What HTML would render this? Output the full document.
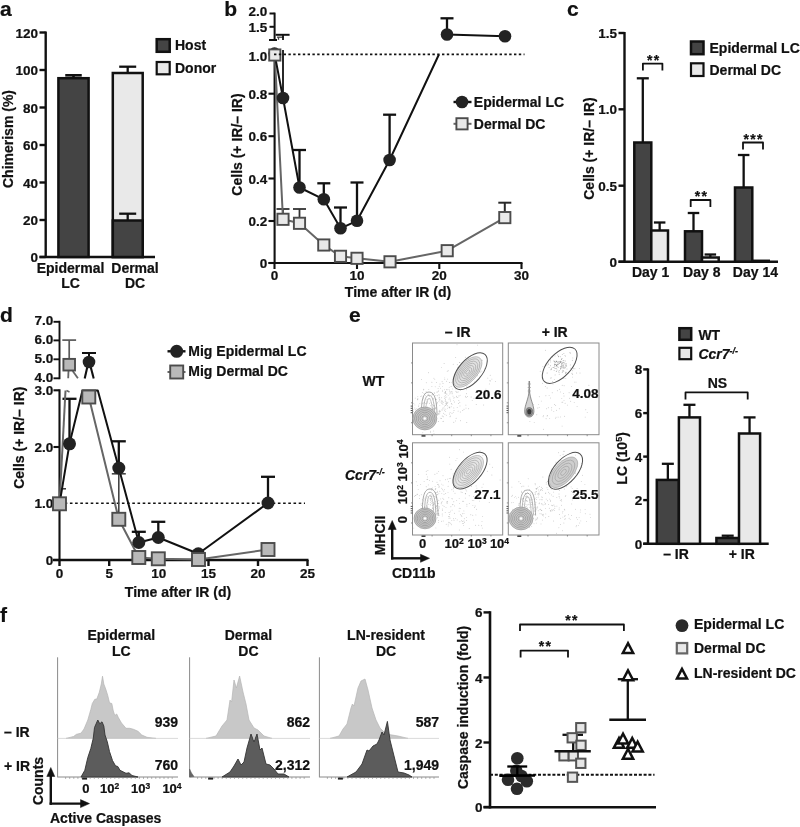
<!DOCTYPE html>
<html><head><meta charset="utf-8"><title>Figure</title>
<style>
html,body{margin:0;padding:0;background:#fff;}
svg{display:block;will-change:transform;}
svg text{font-family:"Liberation Sans",Arial,Helvetica,sans-serif;font-weight:bold;stroke:#111;stroke-width:0.22px;}
</style></head><body>
<svg width="800" height="827" viewBox="0 0 800 827">
<rect x="0" y="0" width="800" height="827" fill="#ffffff"/>
<defs><filter id="soft" x="0" y="0" width="100%" height="100%" filterUnits="userSpaceOnUse" color-interpolation-filters="sRGB"><feGaussianBlur stdDeviation="0.45"/></filter></defs>
<g filter="url(#soft)">
<text x="0" y="15.8" font-size="21" text-anchor="start" fill="#111" >a</text>
<line x1="45.7" y1="31.5" x2="45.7" y2="258" stroke="#111" stroke-width="2.4" />
<line x1="39.5" y1="257" x2="155" y2="257" stroke="#111" stroke-width="2.4" />
<line x1="39.5" y1="32.5" x2="45.7" y2="32.5" stroke="#111" stroke-width="2.4" />
<text x="38" y="37.5" font-size="13.5" text-anchor="end" fill="#111" >120</text>
<line x1="39.5" y1="70" x2="45.7" y2="70" stroke="#111" stroke-width="2.4" />
<text x="38" y="75" font-size="13.5" text-anchor="end" fill="#111" >100</text>
<line x1="39.5" y1="107.5" x2="45.7" y2="107.5" stroke="#111" stroke-width="2.4" />
<text x="38" y="112.5" font-size="13.5" text-anchor="end" fill="#111" >80</text>
<line x1="39.5" y1="145" x2="45.7" y2="145" stroke="#111" stroke-width="2.4" />
<text x="38" y="150" font-size="13.5" text-anchor="end" fill="#111" >60</text>
<line x1="39.5" y1="182.5" x2="45.7" y2="182.5" stroke="#111" stroke-width="2.4" />
<text x="38" y="187.5" font-size="13.5" text-anchor="end" fill="#111" >40</text>
<line x1="39.5" y1="220" x2="45.7" y2="220" stroke="#111" stroke-width="2.4" />
<text x="38" y="225" font-size="13.5" text-anchor="end" fill="#111" >20</text>
<line x1="39.5" y1="257" x2="45.7" y2="257" stroke="#111" stroke-width="2.4" />
<text x="38" y="262" font-size="13.5" text-anchor="end" fill="#111" >0</text>
<text x="13.2" y="139" font-size="14" text-anchor="middle" fill="#111" transform="rotate(-90 13.2 139)" >Chimerism (%)</text>
<line x1="73.5" y1="78" x2="73.5" y2="75.3" stroke="#111" stroke-width="2.6" />
<line x1="65.25" y1="75.3" x2="81.75" y2="75.3" stroke="#111" stroke-width="2.6" />
<rect x="58.4" y="78.2" width="30.2" height="178.8" fill="#444" stroke="#111" stroke-width="2.5" />
<line x1="127.7" y1="72.5" x2="127.7" y2="66.7" stroke="#111" stroke-width="2.3" />
<line x1="119.2" y1="66.7" x2="136.2" y2="66.7" stroke="#111" stroke-width="2.3" />
<rect x="112.8" y="73" width="29.9" height="184" fill="#e9e9e9" stroke="#111" stroke-width="2.5" />
<line x1="127.7" y1="220" x2="127.7" y2="213.7" stroke="#111" stroke-width="2.3" />
<line x1="119.2" y1="213.7" x2="136.2" y2="213.7" stroke="#111" stroke-width="2.3" />
<rect x="112.8" y="220.5" width="29.9" height="36.5" fill="#444" stroke="#111" stroke-width="2.5" />
<text x="70.5" y="273" font-size="14" text-anchor="middle" fill="#111" >Epidermal</text>
<text x="70.5" y="288.3" font-size="14" text-anchor="middle" fill="#111" >LC</text>
<text x="135" y="273" font-size="14" text-anchor="middle" fill="#111" >Dermal</text>
<text x="135" y="288.3" font-size="14" text-anchor="middle" fill="#111" >DC</text>
<rect x="156.7" y="39.2" width="13" height="12.6" fill="#444" stroke="#111" stroke-width="2.5" />
<rect x="156.7" y="62" width="13" height="12.3" fill="#e9e9e9" stroke="#111" stroke-width="2.2" />
<text x="175" y="50" font-size="14" text-anchor="start" fill="#111" >Host</text>
<text x="175" y="73" font-size="14" text-anchor="start" fill="#111" >Donor</text>
<text x="224.3" y="15.8" font-size="21" text-anchor="start" fill="#111" >b</text>
<line x1="274.6" y1="12.6" x2="274.6" y2="40" stroke="#111" stroke-width="2" />
<line x1="269.5" y1="13.5" x2="274.6" y2="13.5" stroke="#111" stroke-width="2" />
<text x="267.3" y="16" font-size="13.5" text-anchor="end" fill="#111" >2.0</text>
<line x1="269.5" y1="26.8" x2="274.6" y2="26.8" stroke="#111" stroke-width="2" />
<text x="267.3" y="32" font-size="13.5" text-anchor="end" fill="#111" >1.5</text>
<line x1="269" y1="40" x2="277" y2="40" stroke="#111" stroke-width="2" />
<line x1="274.6" y1="60" x2="274.6" y2="264" stroke="#111" stroke-width="2.1" />
<line x1="268.5" y1="263" x2="522.5" y2="263" stroke="#111" stroke-width="2.1" />
<text x="267.3" y="60.5" font-size="13.5" text-anchor="end" fill="#111" >1.0</text>
<line x1="268.5" y1="93.7" x2="274.6" y2="93.7" stroke="#111" stroke-width="2.1" />
<text x="267.3" y="98.7" font-size="13.5" text-anchor="end" fill="#111" >0.8</text>
<line x1="268.5" y1="136.2" x2="274.6" y2="136.2" stroke="#111" stroke-width="2.1" />
<text x="267.3" y="141.2" font-size="13.5" text-anchor="end" fill="#111" >0.6</text>
<line x1="268.5" y1="178.5" x2="274.6" y2="178.5" stroke="#111" stroke-width="2.1" />
<text x="267.3" y="183.5" font-size="13.5" text-anchor="end" fill="#111" >0.4</text>
<line x1="268.5" y1="221" x2="274.6" y2="221" stroke="#111" stroke-width="2.1" />
<text x="267.3" y="226" font-size="13.5" text-anchor="end" fill="#111" >0.2</text>
<line x1="268.5" y1="263" x2="274.6" y2="263" stroke="#111" stroke-width="2.1" />
<text x="267.3" y="268" font-size="13.5" text-anchor="end" fill="#111" >0</text>
<line x1="274.5" y1="263" x2="274.5" y2="269" stroke="#111" stroke-width="2.1" />
<text x="274.5" y="279.5" font-size="13.5" text-anchor="middle" fill="#111" >0</text>
<line x1="357" y1="263" x2="357" y2="269" stroke="#111" stroke-width="2.1" />
<text x="357" y="279.5" font-size="13.5" text-anchor="middle" fill="#111" >10</text>
<line x1="439.3" y1="263" x2="439.3" y2="269" stroke="#111" stroke-width="2.1" />
<text x="439.3" y="279.5" font-size="13.5" text-anchor="middle" fill="#111" >20</text>
<line x1="521.5" y1="263" x2="521.5" y2="269" stroke="#111" stroke-width="2.1" />
<text x="521.5" y="279.5" font-size="13.5" text-anchor="middle" fill="#111" >30</text>
<text x="398" y="297.3" font-size="14" text-anchor="middle" fill="#111" >Time after IR (d)</text>
<text x="241.8" y="144.5" font-size="14" text-anchor="middle" fill="#111" transform="rotate(-90 241.8 144.5)" >Cells (+ IR/– IR)</text>
<line x1="283" y1="219" x2="283" y2="209" stroke="#333" stroke-width="1.8" />
<line x1="276.5" y1="209" x2="289.5" y2="209" stroke="#333" stroke-width="1.8" />
<line x1="299.5" y1="223" x2="299.5" y2="209" stroke="#333" stroke-width="1.8" />
<line x1="293.0" y1="209" x2="306.0" y2="209" stroke="#333" stroke-width="1.8" />
<line x1="504.8" y1="217" x2="504.8" y2="202.7" stroke="#2a2a2a" stroke-width="2" />
<line x1="498.3" y1="202.7" x2="511.3" y2="202.7" stroke="#2a2a2a" stroke-width="2" />
<line x1="277" y1="37.2" x2="284" y2="37.2" stroke="#444" stroke-width="1.3" />
<line x1="278.5" y1="37.2" x2="278.5" y2="39.8" stroke="#444" stroke-width="1.3" />
<polyline points="274.8,55 283,219.3 299.5,223.3 323.8,245 340.5,256.3 357,258.3 390,261.8 447.2,250.7 504.8,217.6" fill="none" stroke="#666" stroke-width="2" stroke-linejoin="round" />
<line x1="283" y1="98" x2="283" y2="50" stroke="#111" stroke-width="1.8" />
<line x1="283" y1="40" x2="283" y2="34.8" stroke="#111" stroke-width="1.8" />
<line x1="275.6" y1="34.8" x2="289.6" y2="34.8" stroke="#111" stroke-width="2" />
<line x1="299.5" y1="187" x2="299.5" y2="150" stroke="#111" stroke-width="2.3" />
<line x1="293.0" y1="150" x2="306.0" y2="150" stroke="#111" stroke-width="2.3" />
<line x1="323.8" y1="199" x2="323.8" y2="183.3" stroke="#111" stroke-width="2.3" />
<line x1="317.3" y1="183.3" x2="330.3" y2="183.3" stroke="#111" stroke-width="2.3" />
<line x1="340.5" y1="228" x2="340.5" y2="207.5" stroke="#111" stroke-width="2.3" />
<line x1="334.0" y1="207.5" x2="347.0" y2="207.5" stroke="#111" stroke-width="2.3" />
<line x1="357" y1="220" x2="357" y2="182.5" stroke="#111" stroke-width="2.3" />
<line x1="350.5" y1="182.5" x2="363.5" y2="182.5" stroke="#111" stroke-width="2.3" />
<line x1="389.6" y1="160" x2="389.6" y2="114.7" stroke="#111" stroke-width="2.3" />
<line x1="383.1" y1="114.7" x2="396.1" y2="114.7" stroke="#111" stroke-width="2.3" />
<line x1="447" y1="34" x2="447" y2="18.3" stroke="#111" stroke-width="2.3" />
<line x1="440.5" y1="18.3" x2="453.5" y2="18.3" stroke="#111" stroke-width="2.3" />
<polyline points="274.5,53.6 283,98 299.5,187.5 323.8,199.3 340.5,228.3 357,220.8 389.6,160 438.9,54.5" fill="none" stroke="#111" stroke-width="2" stroke-linejoin="round" />
<polyline points="447,34.5 505,36.3" fill="none" stroke="#111" stroke-width="2" stroke-linejoin="round" />
<circle cx="274.5" cy="53.6" r="6.3" fill="#222" stroke="none" stroke-width="0"/>
<circle cx="283" cy="98" r="6.3" fill="#222" stroke="none" stroke-width="0"/>
<circle cx="299.5" cy="187.5" r="6.3" fill="#222" stroke="none" stroke-width="0"/>
<circle cx="323.8" cy="199.3" r="6.3" fill="#222" stroke="none" stroke-width="0"/>
<circle cx="340.5" cy="228.3" r="6.3" fill="#222" stroke="none" stroke-width="0"/>
<circle cx="357" cy="220.8" r="6.3" fill="#222" stroke="none" stroke-width="0"/>
<circle cx="389.6" cy="160" r="6.3" fill="#222" stroke="none" stroke-width="0"/>
<circle cx="447" cy="34.5" r="6.3" fill="#222" stroke="none" stroke-width="0"/>
<circle cx="505" cy="36.3" r="6.3" fill="#222" stroke="none" stroke-width="0"/>
<rect x="269.2" y="49.4" width="11.2" height="11.2" fill="#e9e9e9" stroke="#4c4c4c" stroke-width="1.9"/>
<rect x="277.4" y="213.70000000000002" width="11.2" height="11.2" fill="#e9e9e9" stroke="#4c4c4c" stroke-width="1.9"/>
<rect x="293.9" y="217.70000000000002" width="11.2" height="11.2" fill="#e9e9e9" stroke="#4c4c4c" stroke-width="1.9"/>
<rect x="318.2" y="239.4" width="11.2" height="11.2" fill="#e9e9e9" stroke="#4c4c4c" stroke-width="1.9"/>
<rect x="334.9" y="250.70000000000002" width="11.2" height="11.2" fill="#e9e9e9" stroke="#4c4c4c" stroke-width="1.9"/>
<rect x="351.4" y="252.70000000000002" width="11.2" height="11.2" fill="#e9e9e9" stroke="#4c4c4c" stroke-width="1.9"/>
<rect x="384.4" y="256.2" width="11.2" height="11.2" fill="#e9e9e9" stroke="#4c4c4c" stroke-width="1.9"/>
<rect x="441.59999999999997" y="245.1" width="11.2" height="11.2" fill="#e9e9e9" stroke="#4c4c4c" stroke-width="1.9"/>
<rect x="499.2" y="212.0" width="11.2" height="11.2" fill="#e9e9e9" stroke="#4c4c4c" stroke-width="1.9"/>
<line x1="274" y1="54.4" x2="524.5" y2="54.4" stroke="#111" stroke-width="1.7" stroke-dasharray="2.4 2.4"/>
<line x1="453.5" y1="102" x2="471.5" y2="102" stroke="#111" stroke-width="2.4" />
<circle cx="462" cy="102" r="6.3" fill="#222" stroke="none" stroke-width="0"/>
<text x="473.8" y="106.5" font-size="14" text-anchor="start" fill="#111" >Epidermal LC</text>
<line x1="453.5" y1="123.8" x2="471.5" y2="123.8" stroke="#666" stroke-width="2" />
<rect x="456.4" y="118.2" width="11.2" height="11.2" fill="#e9e9e9" stroke="#4c4c4c" stroke-width="1.9"/>
<text x="473.8" y="128.5" font-size="14" text-anchor="start" fill="#111" >Dermal DC</text>
<text x="567.1" y="15.8" font-size="21" text-anchor="start" fill="#111" >c</text>
<line x1="624.5" y1="32" x2="624.5" y2="262.7" stroke="#111" stroke-width="2.4" />
<line x1="618.5" y1="261.7" x2="778" y2="261.7" stroke="#111" stroke-width="2.4" />
<line x1="618.5" y1="33" x2="624.5" y2="33" stroke="#111" stroke-width="2.4" />
<text x="617" y="38" font-size="13.5" text-anchor="end" fill="#111" >1.5</text>
<line x1="618.5" y1="109.3" x2="624.5" y2="109.3" stroke="#111" stroke-width="2.4" />
<text x="617" y="114.3" font-size="13.5" text-anchor="end" fill="#111" >1.0</text>
<line x1="618.5" y1="185.7" x2="624.5" y2="185.7" stroke="#111" stroke-width="2.4" />
<text x="617" y="190.7" font-size="13.5" text-anchor="end" fill="#111" >0.5</text>
<line x1="618.5" y1="261.7" x2="624.5" y2="261.7" stroke="#111" stroke-width="2.4" />
<text x="617" y="266.7" font-size="13.5" text-anchor="end" fill="#111" >0</text>
<text x="594" y="148.6" font-size="14" text-anchor="middle" fill="#111" transform="rotate(-90 594 148.6)" >Cells (+ IR/– IR)</text>
<line x1="642.8" y1="142.5" x2="642.8" y2="78.3" stroke="#111" stroke-width="2.3" />
<line x1="636.8" y1="78.3" x2="648.8" y2="78.3" stroke="#111" stroke-width="2.3" />
<rect x="634.3" y="142.5" width="17.0" height="119.19999999999999" fill="#444" stroke="#111" stroke-width="2.5" />
<line x1="659.65" y1="230.5" x2="659.65" y2="222.5" stroke="#111" stroke-width="2.3" />
<line x1="653.9" y1="222.5" x2="665.4" y2="222.5" stroke="#111" stroke-width="2.3" />
<rect x="651.3" y="230.5" width="16.700000000000045" height="31.19999999999999" fill="#e9e9e9" stroke="#111" stroke-width="2.5" />
<line x1="693.5" y1="231.3" x2="693.5" y2="213" stroke="#111" stroke-width="2.3" />
<line x1="687.75" y1="213" x2="699.25" y2="213" stroke="#111" stroke-width="2.3" />
<rect x="685" y="231.3" width="17" height="30.399999999999977" fill="#444" stroke="#111" stroke-width="2.5" />
<line x1="710.35" y1="257.5" x2="710.35" y2="254.5" stroke="#111" stroke-width="2.3" />
<line x1="704.6" y1="254.5" x2="716.1" y2="254.5" stroke="#111" stroke-width="2.3" />
<rect x="702" y="257.5" width="16.700000000000045" height="4.199999999999989" fill="#f4f4f4" stroke="#111" stroke-width="2.5" />
<line x1="743.65" y1="187.5" x2="743.65" y2="155" stroke="#111" stroke-width="2.3" />
<line x1="737.9" y1="155" x2="749.4" y2="155" stroke="#111" stroke-width="2.3" />
<rect x="735" y="187.5" width="17.299999999999955" height="74.19999999999999" fill="#444" stroke="#111" stroke-width="2.5" />
<line x1="753" y1="260.3" x2="770" y2="260.3" stroke="#111" stroke-width="1.5" />
<text x="650.6" y="277" font-size="14" text-anchor="middle" fill="#111" >Day 1</text>
<text x="701.8" y="277" font-size="14" text-anchor="middle" fill="#111" >Day 8</text>
<text x="755.4" y="277" font-size="14" text-anchor="middle" fill="#111" >Day 14</text>
<polyline points="642.9,70.4 642.9,63.6 662.4,63.6 662.4,70.4" fill="none" stroke="#111" stroke-width="1.8" stroke-linejoin="round" stroke-linejoin="miter"/>
<text x="653.8000000000001" y="64.60000000000001" font-size="14" text-anchor="middle" fill="#111" letter-spacing="1.25">**</text>
<polyline points="690.7,207 690.7,200 710.4,200 710.4,207" fill="none" stroke="#111" stroke-width="1.8" stroke-linejoin="round" stroke-linejoin="miter"/>
<text x="701.4" y="201.0" font-size="14" text-anchor="middle" fill="#111" letter-spacing="1.25">**</text>
<polyline points="743,149.5 743,142.5 763,142.5 763,149.5" fill="none" stroke="#111" stroke-width="1.8" stroke-linejoin="round" stroke-linejoin="miter"/>
<text x="753.6" y="143.6" font-size="14" text-anchor="middle" fill="#111" letter-spacing="1.25">***</text>
<rect x="691" y="41.5" width="12.5" height="12.7" fill="#444" stroke="#111" stroke-width="2.5" />
<rect x="691" y="63.3" width="12.5" height="12.7" fill="#e9e9e9" stroke="#111" stroke-width="2.2" />
<text x="709.5" y="53" font-size="14" text-anchor="start" fill="#111" >Epidermal LC</text>
<text x="709.5" y="75.2" font-size="14" text-anchor="start" fill="#111" >Dermal DC</text>
<text x="0.1" y="321.8" font-size="21" text-anchor="start" fill="#111" >d</text>
<line x1="59.5" y1="320.8" x2="59.5" y2="379.2" stroke="#111" stroke-width="1.9" />
<line x1="53.5" y1="321.8" x2="59.5" y2="321.8" stroke="#111" stroke-width="1.9" />
<text x="53.3" y="325.0" font-size="13.5" text-anchor="end" fill="#111" >7.0</text>
<line x1="53.5" y1="340.4" x2="59.5" y2="340.4" stroke="#111" stroke-width="1.9" />
<text x="53.3" y="343.59999999999997" font-size="13.5" text-anchor="end" fill="#111" >6.0</text>
<line x1="53.5" y1="359.3" x2="59.5" y2="359.3" stroke="#111" stroke-width="1.9" />
<text x="53.3" y="362.5" font-size="13.5" text-anchor="end" fill="#111" >5.0</text>
<line x1="53.5" y1="378.3" x2="59.5" y2="378.3" stroke="#111" stroke-width="1.9" />
<text x="53.3" y="381.5" font-size="13.5" text-anchor="end" fill="#111" >4.0</text>
<line x1="59.5" y1="389.3" x2="59.5" y2="561" stroke="#111" stroke-width="2.1" />
<line x1="53" y1="560" x2="308.5" y2="560" stroke="#111" stroke-width="2.4" />
<line x1="53.5" y1="390.3" x2="59.5" y2="390.3" stroke="#111" stroke-width="2.1" />
<text x="53.3" y="395.3" font-size="13.5" text-anchor="end" fill="#111" >3.0</text>
<line x1="53.5" y1="447" x2="59.5" y2="447" stroke="#111" stroke-width="2.1" />
<text x="53.3" y="452" font-size="13.5" text-anchor="end" fill="#111" >2.0</text>
<line x1="53.5" y1="503.3" x2="59.5" y2="503.3" stroke="#111" stroke-width="2.1" />
<text x="53.3" y="508.3" font-size="13.5" text-anchor="end" fill="#111" >1.0</text>
<line x1="53.5" y1="560" x2="59.5" y2="560" stroke="#111" stroke-width="2.1" />
<text x="53.3" y="565" font-size="13.5" text-anchor="end" fill="#111" >0</text>
<line x1="59.5" y1="560" x2="59.5" y2="566" stroke="#111" stroke-width="2.4" />
<text x="59.5" y="578" font-size="13.5" text-anchor="middle" fill="#111" >0</text>
<line x1="109.2" y1="560" x2="109.2" y2="566" stroke="#111" stroke-width="2.4" />
<text x="109.2" y="578" font-size="13.5" text-anchor="middle" fill="#111" >5</text>
<line x1="158.7" y1="560" x2="158.7" y2="566" stroke="#111" stroke-width="2.4" />
<text x="158.7" y="578" font-size="13.5" text-anchor="middle" fill="#111" >10</text>
<line x1="208.5" y1="560" x2="208.5" y2="566" stroke="#111" stroke-width="2.4" />
<text x="208.5" y="578" font-size="13.5" text-anchor="middle" fill="#111" >15</text>
<line x1="258" y1="560" x2="258" y2="566" stroke="#111" stroke-width="2.4" />
<text x="258" y="578" font-size="13.5" text-anchor="middle" fill="#111" >20</text>
<line x1="307.5" y1="560" x2="307.5" y2="566" stroke="#111" stroke-width="2.4" />
<text x="307.5" y="578" font-size="13.5" text-anchor="middle" fill="#111" >25</text>
<text x="178" y="597" font-size="14" text-anchor="middle" fill="#111" >Time after IR (d)</text>
<text x="24.4" y="437.7" font-size="14" text-anchor="middle" fill="#111" transform="rotate(-90 24.4 437.7)" >Cells (+ IR/– IR)</text>
<line x1="59.5" y1="503.3" x2="305" y2="503.3" stroke="#111" stroke-width="1.6" stroke-dasharray="2.6 2.6"/>
<line x1="69.2" y1="364" x2="69.2" y2="340.1" stroke="#5a5a5a" stroke-width="1.7" />
<line x1="62.300000000000004" y1="340.1" x2="76.10000000000001" y2="340.1" stroke="#5a5a5a" stroke-width="1.7" />
<line x1="68.5" y1="371" x2="68.2" y2="378.3" stroke="#666" stroke-width="1.8" />
<line x1="72.7" y1="371" x2="77.9" y2="378.3" stroke="#666" stroke-width="1.8" />
<rect x="63.400000000000006" y="358.9" width="11.6" height="11.6" fill="#b9b9b9" stroke="#4c4c4c" stroke-width="1.9"/>
<line x1="89" y1="362" x2="89" y2="353" stroke="#111" stroke-width="2" />
<line x1="82.0" y1="353" x2="96.0" y2="353" stroke="#111" stroke-width="2" />
<line x1="87.3" y1="367" x2="84.7" y2="378.5" stroke="#111" stroke-width="2.1" />
<line x1="90.7" y1="367" x2="93.7" y2="378.5" stroke="#111" stroke-width="2.1" />
<circle cx="89" cy="362" r="6.3" fill="#222" stroke="none" stroke-width="0"/>
<line x1="69.5" y1="443" x2="69.5" y2="398.8" stroke="#111" stroke-width="2.3" />
<line x1="62.5" y1="398.8" x2="76.5" y2="398.8" stroke="#111" stroke-width="2.3" />
<line x1="118.8" y1="468" x2="118.8" y2="441.3" stroke="#111" stroke-width="2.3" />
<line x1="111.8" y1="441.3" x2="125.8" y2="441.3" stroke="#111" stroke-width="2.3" />
<line x1="118.8" y1="519" x2="118.8" y2="473.8" stroke="#444" stroke-width="1.6" />
<line x1="111.8" y1="473.8" x2="125.8" y2="473.8" stroke="#444" stroke-width="1.6" />
<line x1="138.8" y1="542" x2="138.8" y2="531.8" stroke="#111" stroke-width="2.3" />
<line x1="131.8" y1="531.8" x2="145.8" y2="531.8" stroke="#111" stroke-width="2.3" />
<line x1="158.3" y1="537" x2="158.3" y2="521.8" stroke="#111" stroke-width="2.3" />
<line x1="151.3" y1="521.8" x2="165.3" y2="521.8" stroke="#111" stroke-width="2.3" />
<line x1="268" y1="503" x2="268" y2="476.8" stroke="#111" stroke-width="2.3" />
<line x1="261.0" y1="476.8" x2="275.0" y2="476.8" stroke="#111" stroke-width="2.3" />
<line x1="60.5" y1="488.8" x2="66" y2="488.8" stroke="#333" stroke-width="1.5" />
<polyline points="59.5,503.8 65.5,390.5" fill="none" stroke="#666" stroke-width="2" stroke-linejoin="round" />
<polyline points="66.5,390.5 69.5,392" fill="none" stroke="#666" stroke-width="1.5" stroke-linejoin="round" />
<polyline points="88.8,397 118.8,519.3 138.8,557.5 158.3,558.8 198.5,559.5 268,549.5" fill="none" stroke="#666" stroke-width="2" stroke-linejoin="round" />
<polyline points="59.5,503.8 69.5,443.8 82.5,390.5 97.8,390.5 118.8,468 138.8,542.5 158.3,537.5 198.3,553.8 268,503" fill="none" stroke="#111" stroke-width="2" stroke-linejoin="round" />
<circle cx="69.5" cy="443.8" r="6.5" fill="#222" stroke="none" stroke-width="0"/>
<circle cx="118.8" cy="468" r="6.5" fill="#222" stroke="none" stroke-width="0"/>
<circle cx="138.8" cy="542.5" r="6.5" fill="#222" stroke="none" stroke-width="0"/>
<circle cx="158.3" cy="537.5" r="6.5" fill="#222" stroke="none" stroke-width="0"/>
<circle cx="198.3" cy="553.8" r="6.5" fill="#222" stroke="none" stroke-width="0"/>
<circle cx="268" cy="503" r="6.5" fill="#222" stroke="none" stroke-width="0"/>
<rect x="53.0" y="497.3" width="13" height="13" fill="#b9b9b9" stroke="#4c4c4c" stroke-width="1.9"/>
<rect x="82.3" y="390.5" width="13" height="13" fill="#b9b9b9" stroke="#4c4c4c" stroke-width="1.9"/>
<rect x="112.3" y="512.8" width="13" height="13" fill="#b9b9b9" stroke="#4c4c4c" stroke-width="1.9"/>
<rect x="132.3" y="551.0" width="13" height="13" fill="#b9b9b9" stroke="#4c4c4c" stroke-width="1.9"/>
<rect x="151.8" y="552.3" width="13" height="13" fill="#b9b9b9" stroke="#4c4c4c" stroke-width="1.9"/>
<rect x="192.0" y="553.0" width="13" height="13" fill="#b9b9b9" stroke="#4c4c4c" stroke-width="1.9"/>
<rect x="261.5" y="543.0" width="13" height="13" fill="#b9b9b9" stroke="#4c4c4c" stroke-width="1.9"/>
<line x1="167.5" y1="351.3" x2="185.5" y2="351.3" stroke="#111" stroke-width="2.4" />
<circle cx="176.7" cy="351.3" r="6.5" fill="#222" stroke="none" stroke-width="0"/>
<text x="188.3" y="355.5" font-size="14" text-anchor="start" fill="#111" >Mig Epidermal LC</text>
<line x1="167.5" y1="372" x2="185.5" y2="372" stroke="#666" stroke-width="2" />
<rect x="170.2" y="365.5" width="13" height="13" fill="#b9b9b9" stroke="#4c4c4c" stroke-width="1.9"/>
<text x="188.3" y="376.2" font-size="14" text-anchor="start" fill="#111" >Mig Dermal DC</text>
<text x="349" y="322" font-size="21" text-anchor="start" fill="#111" >e</text>
<text x="457.7" y="337" font-size="14" text-anchor="middle" fill="#111" >– IR</text>
<text x="554.7" y="337" font-size="14" text-anchor="middle" fill="#111" >+ IR</text>
<text x="362.5" y="386" font-size="14" text-anchor="start" fill="#111" >WT</text>
<text x="345" y="480" font-size="14" font-style="italic" fill="#111">Ccr7<tspan font-size="9" dy="-5">-/-</tspan></text>
<rect x="412.5" y="343" width="90.19999999999999" height="91.69999999999999" fill="#fff" stroke="#8a8a8a" stroke-width="1" />
<line x1="410.7" y1="412.7" x2="412.5" y2="412.7" stroke="#444" stroke-width="0.9" />
<line x1="410.7" y1="410.5" x2="412.5" y2="410.5" stroke="#444" stroke-width="0.9" />
<line x1="410.7" y1="408.3" x2="412.5" y2="408.3" stroke="#444" stroke-width="0.9" />
<line x1="410.7" y1="406.09999999999997" x2="412.5" y2="406.09999999999997" stroke="#444" stroke-width="0.9" />
<line x1="421.5" y1="435.9" x2="425.5" y2="435.9" stroke="#444" stroke-width="1.6" />
<line x1="411.0" y1="362.9347826086956" x2="412.5" y2="362.9347826086956" stroke="#777" stroke-width="0.8" />
<line x1="432.10869565217394" y1="434.7" x2="432.10869565217394" y2="436.2" stroke="#777" stroke-width="0.8" />
<line x1="411.0" y1="382.8695652173913" x2="412.5" y2="382.8695652173913" stroke="#777" stroke-width="0.8" />
<line x1="451.7173913043478" y1="434.7" x2="451.7173913043478" y2="436.2" stroke="#777" stroke-width="0.8" />
<line x1="411.0" y1="402.80434782608694" x2="412.5" y2="402.80434782608694" stroke="#777" stroke-width="0.8" />
<line x1="471.32608695652175" y1="434.7" x2="471.32608695652175" y2="436.2" stroke="#777" stroke-width="0.8" />
<line x1="411.0" y1="422.7391304347826" x2="412.5" y2="422.7391304347826" stroke="#777" stroke-width="0.8" />
<line x1="490.9347826086956" y1="434.7" x2="490.9347826086956" y2="436.2" stroke="#777" stroke-width="0.8" />
<circle cx="435.4" cy="407.2" r="0.45" fill="#666" opacity="0.55"/>
<circle cx="435.9" cy="395.6" r="0.45" fill="#666" opacity="0.55"/>
<circle cx="423.3" cy="397.0" r="0.45" fill="#666" opacity="0.55"/>
<circle cx="460.0" cy="405.9" r="0.45" fill="#666" opacity="0.55"/>
<circle cx="458.7" cy="403.5" r="0.45" fill="#666" opacity="0.55"/>
<circle cx="447.1" cy="402.6" r="0.45" fill="#666" opacity="0.55"/>
<circle cx="449.1" cy="407.0" r="0.45" fill="#666" opacity="0.55"/>
<circle cx="424.0" cy="393.4" r="0.45" fill="#666" opacity="0.55"/>
<circle cx="445.5" cy="399.4" r="0.45" fill="#666" opacity="0.55"/>
<circle cx="449.4" cy="391.0" r="0.45" fill="#666" opacity="0.55"/>
<circle cx="445.6" cy="405.5" r="0.45" fill="#666" opacity="0.55"/>
<circle cx="428.1" cy="424.0" r="0.45" fill="#666" opacity="0.55"/>
<circle cx="450.0" cy="416.8" r="0.45" fill="#666" opacity="0.55"/>
<circle cx="428.8" cy="389.6" r="0.45" fill="#666" opacity="0.55"/>
<circle cx="433.8" cy="398.5" r="0.45" fill="#666" opacity="0.55"/>
<circle cx="451.4" cy="403.5" r="0.45" fill="#666" opacity="0.55"/>
<circle cx="431.9" cy="386.6" r="0.45" fill="#666" opacity="0.55"/>
<circle cx="430.6" cy="417.1" r="0.45" fill="#666" opacity="0.55"/>
<circle cx="425.5" cy="403.4" r="0.45" fill="#666" opacity="0.55"/>
<circle cx="447.7" cy="379.1" r="0.45" fill="#666" opacity="0.55"/>
<circle cx="440.9" cy="418.3" r="0.45" fill="#666" opacity="0.55"/>
<circle cx="438.1" cy="388.6" r="0.45" fill="#666" opacity="0.55"/>
<circle cx="449.0" cy="399.1" r="0.45" fill="#666" opacity="0.55"/>
<circle cx="413.6" cy="411.6" r="0.45" fill="#666" opacity="0.55"/>
<circle cx="452.0" cy="413.2" r="0.45" fill="#666" opacity="0.55"/>
<circle cx="465.9" cy="405.1" r="0.45" fill="#666" opacity="0.55"/>
<circle cx="442.1" cy="381.8" r="0.45" fill="#666" opacity="0.55"/>
<circle cx="451.1" cy="391.4" r="0.45" fill="#666" opacity="0.55"/>
<circle cx="431.9" cy="382.3" r="0.45" fill="#666" opacity="0.55"/>
<circle cx="422.6" cy="392.6" r="0.45" fill="#666" opacity="0.55"/>
<circle cx="463.2" cy="371.6" r="0.45" fill="#666" opacity="0.55"/>
<circle cx="413.8" cy="403.4" r="0.45" fill="#666" opacity="0.55"/>
<circle cx="466.0" cy="408.1" r="0.45" fill="#666" opacity="0.55"/>
<circle cx="446.4" cy="389.7" r="0.45" fill="#666" opacity="0.55"/>
<circle cx="419.8" cy="413.7" r="0.45" fill="#666" opacity="0.55"/>
<circle cx="459.8" cy="402.2" r="0.45" fill="#666" opacity="0.55"/>
<circle cx="444.4" cy="406.1" r="0.45" fill="#666" opacity="0.55"/>
<circle cx="468.7" cy="408.7" r="0.45" fill="#666" opacity="0.55"/>
<circle cx="449.3" cy="407.7" r="0.45" fill="#666" opacity="0.55"/>
<circle cx="457.2" cy="407.4" r="0.45" fill="#666" opacity="0.55"/>
<circle cx="455.2" cy="374.6" r="0.45" fill="#666" opacity="0.55"/>
<circle cx="436.7" cy="414.3" r="0.45" fill="#666" opacity="0.55"/>
<circle cx="416.4" cy="422.5" r="0.45" fill="#666" opacity="0.55"/>
<circle cx="449.9" cy="397.9" r="0.45" fill="#666" opacity="0.55"/>
<circle cx="445.8" cy="409.1" r="0.45" fill="#666" opacity="0.55"/>
<circle cx="442.2" cy="416.0" r="0.45" fill="#666" opacity="0.55"/>
<circle cx="428.1" cy="394.2" r="0.45" fill="#666" opacity="0.55"/>
<circle cx="458.8" cy="400.4" r="0.45" fill="#666" opacity="0.55"/>
<circle cx="424.2" cy="413.3" r="0.45" fill="#666" opacity="0.55"/>
<circle cx="466.4" cy="393.8" r="0.45" fill="#666" opacity="0.55"/>
<circle cx="415.2" cy="398.1" r="0.45" fill="#666" opacity="0.55"/>
<circle cx="437.3" cy="395.8" r="0.45" fill="#666" opacity="0.55"/>
<circle cx="465.3" cy="385.6" r="0.45" fill="#666" opacity="0.55"/>
<circle cx="462.7" cy="382.2" r="0.45" fill="#666" opacity="0.55"/>
<circle cx="425.8" cy="408.8" r="0.45" fill="#666" opacity="0.55"/>
<circle cx="460.3" cy="412.0" r="0.45" fill="#666" opacity="0.55"/>
<circle cx="446.2" cy="402.0" r="0.45" fill="#666" opacity="0.55"/>
<circle cx="442.7" cy="408.1" r="0.45" fill="#666" opacity="0.55"/>
<circle cx="436.8" cy="403.9" r="0.45" fill="#666" opacity="0.55"/>
<circle cx="450.3" cy="400.0" r="0.45" fill="#666" opacity="0.55"/>
<circle cx="453.8" cy="407.9" r="0.45" fill="#666" opacity="0.55"/>
<circle cx="476.2" cy="404.5" r="0.45" fill="#666" opacity="0.55"/>
<circle cx="432.3" cy="394.8" r="0.45" fill="#666" opacity="0.55"/>
<circle cx="439.8" cy="412.9" r="0.45" fill="#666" opacity="0.55"/>
<circle cx="433.9" cy="405.4" r="0.45" fill="#666" opacity="0.55"/>
<circle cx="473.1" cy="364.1" r="0.45" fill="#666" opacity="0.55"/>
<circle cx="419.8" cy="403.4" r="0.45" fill="#666" opacity="0.55"/>
<circle cx="447.2" cy="403.3" r="0.45" fill="#666" opacity="0.55"/>
<circle cx="432.2" cy="409.2" r="0.45" fill="#666" opacity="0.55"/>
<circle cx="445.1" cy="392.7" r="0.45" fill="#666" opacity="0.55"/>
<circle cx="483.7" cy="405.0" r="0.45" fill="#666" opacity="0.55"/>
<circle cx="430.0" cy="398.6" r="0.45" fill="#666" opacity="0.55"/>
<circle cx="435.9" cy="399.1" r="0.45" fill="#666" opacity="0.55"/>
<circle cx="458.2" cy="383.6" r="0.45" fill="#666" opacity="0.55"/>
<circle cx="438.8" cy="413.3" r="0.45" fill="#666" opacity="0.55"/>
<circle cx="455.4" cy="420.9" r="0.45" fill="#666" opacity="0.55"/>
<circle cx="433.9" cy="408.7" r="0.45" fill="#666" opacity="0.55"/>
<circle cx="459.7" cy="362.4" r="0.45" fill="#666" opacity="0.55"/>
<circle cx="459.6" cy="379.7" r="0.45" fill="#666" opacity="0.55"/>
<circle cx="452.3" cy="379.1" r="0.45" fill="#666" opacity="0.55"/>
<circle cx="443.2" cy="416.7" r="0.45" fill="#666" opacity="0.55"/>
<circle cx="437.3" cy="402.7" r="0.45" fill="#666" opacity="0.55"/>
<circle cx="454.3" cy="402.0" r="0.45" fill="#666" opacity="0.55"/>
<circle cx="438.4" cy="421.5" r="0.45" fill="#666" opacity="0.55"/>
<circle cx="458.9" cy="395.9" r="0.45" fill="#666" opacity="0.55"/>
<circle cx="489.4" cy="383.9" r="0.45" fill="#666" opacity="0.55"/>
<circle cx="456.5" cy="396.3" r="0.45" fill="#666" opacity="0.55"/>
<circle cx="442.4" cy="409.9" r="0.45" fill="#666" opacity="0.55"/>
<circle cx="444.0" cy="408.9" r="0.45" fill="#666" opacity="0.55"/>
<circle cx="451.1" cy="386.5" r="0.45" fill="#666" opacity="0.55"/>
<circle cx="421.5" cy="379.4" r="0.45" fill="#666" opacity="0.55"/>
<circle cx="462.8" cy="410.5" r="0.45" fill="#666" opacity="0.55"/>
<circle cx="466.5" cy="386.9" r="0.45" fill="#666" opacity="0.55"/>
<circle cx="440.0" cy="384.0" r="0.45" fill="#666" opacity="0.55"/>
<circle cx="453.8" cy="422.3" r="0.45" fill="#666" opacity="0.55"/>
<circle cx="424.0" cy="421.8" r="0.45" fill="#666" opacity="0.55"/>
<circle cx="457.8" cy="397.5" r="0.45" fill="#666" opacity="0.55"/>
<circle cx="438.3" cy="391.6" r="0.45" fill="#666" opacity="0.55"/>
<circle cx="447.2" cy="405.7" r="0.45" fill="#666" opacity="0.55"/>
<circle cx="467.0" cy="385.7" r="0.45" fill="#666" opacity="0.55"/>
<circle cx="460.5" cy="420.8" r="0.45" fill="#666" opacity="0.55"/>
<circle cx="466.1" cy="397.5" r="0.45" fill="#666" opacity="0.55"/>
<circle cx="426.6" cy="414.3" r="0.45" fill="#666" opacity="0.55"/>
<circle cx="442.1" cy="401.7" r="0.45" fill="#666" opacity="0.55"/>
<circle cx="465.6" cy="396.3" r="0.45" fill="#666" opacity="0.55"/>
<circle cx="445.7" cy="391.4" r="0.45" fill="#666" opacity="0.55"/>
<circle cx="439.8" cy="411.7" r="0.45" fill="#666" opacity="0.55"/>
<circle cx="441.4" cy="418.6" r="0.45" fill="#666" opacity="0.55"/>
<circle cx="438.9" cy="414.6" r="0.45" fill="#666" opacity="0.55"/>
<circle cx="466.8" cy="422.5" r="0.45" fill="#666" opacity="0.55"/>
<circle cx="427.9" cy="412.3" r="0.45" fill="#666" opacity="0.55"/>
<circle cx="417.8" cy="399.8" r="0.45" fill="#666" opacity="0.55"/>
<circle cx="436.5" cy="399.6" r="0.45" fill="#666" opacity="0.55"/>
<circle cx="429.4" cy="403.3" r="0.45" fill="#666" opacity="0.55"/>
<circle cx="472.2" cy="400.6" r="0.45" fill="#666" opacity="0.55"/>
<circle cx="449.6" cy="414.0" r="0.45" fill="#666" opacity="0.55"/>
<circle cx="436.4" cy="382.4" r="0.45" fill="#666" opacity="0.55"/>
<circle cx="430.0" cy="415.0" r="0.45" fill="#666" opacity="0.55"/>
<circle cx="458.1" cy="411.1" r="0.45" fill="#666" opacity="0.55"/>
<circle cx="440.1" cy="411.3" r="0.45" fill="#666" opacity="0.55"/>
<circle cx="443.0" cy="383.5" r="0.45" fill="#666" opacity="0.55"/>
<circle cx="456.6" cy="392.1" r="0.45" fill="#666" opacity="0.55"/>
<circle cx="423.8" cy="389.2" r="0.45" fill="#666" opacity="0.55"/>
<circle cx="418.8" cy="405.1" r="0.45" fill="#666" opacity="0.55"/>
<circle cx="428.5" cy="372.8" r="0.45" fill="#666" opacity="0.55"/>
<circle cx="453.0" cy="396.1" r="0.45" fill="#666" opacity="0.55"/>
<circle cx="445.2" cy="393.6" r="0.45" fill="#666" opacity="0.55"/>
<circle cx="454.0" cy="410.5" r="0.45" fill="#666" opacity="0.55"/>
<circle cx="452.0" cy="404.6" r="0.45" fill="#666" opacity="0.55"/>
<circle cx="464.0" cy="409.2" r="0.45" fill="#666" opacity="0.55"/>
<circle cx="448.1" cy="370.8" r="0.45" fill="#666" opacity="0.55"/>
<circle cx="456.1" cy="418.3" r="0.45" fill="#666" opacity="0.55"/>
<circle cx="434.7" cy="393.4" r="0.45" fill="#666" opacity="0.55"/>
<circle cx="474.9" cy="375.4" r="0.45" fill="#666" opacity="0.55"/>
<circle cx="423.3" cy="409.7" r="0.45" fill="#666" opacity="0.55"/>
<circle cx="474.0" cy="398.3" r="0.45" fill="#666" opacity="0.55"/>
<circle cx="450.1" cy="412.6" r="0.45" fill="#666" opacity="0.55"/>
<circle cx="423.7" cy="398.8" r="0.45" fill="#666" opacity="0.55"/>
<circle cx="445.3" cy="411.6" r="0.45" fill="#666" opacity="0.55"/>
<circle cx="439.4" cy="397.3" r="0.45" fill="#666" opacity="0.55"/>
<circle cx="457.8" cy="367.4" r="0.45" fill="#666" opacity="0.5"/>
<circle cx="480.7" cy="372.0" r="0.45" fill="#666" opacity="0.5"/>
<circle cx="459.8" cy="362.6" r="0.45" fill="#666" opacity="0.5"/>
<circle cx="477.6" cy="345.1" r="0.45" fill="#666" opacity="0.5"/>
<circle cx="477.5" cy="375.8" r="0.45" fill="#666" opacity="0.5"/>
<circle cx="490.2" cy="375.3" r="0.45" fill="#666" opacity="0.5"/>
<circle cx="469.2" cy="376.2" r="0.45" fill="#666" opacity="0.5"/>
<circle cx="446.7" cy="381.3" r="0.45" fill="#666" opacity="0.5"/>
<circle cx="473.9" cy="364.0" r="0.45" fill="#666" opacity="0.5"/>
<circle cx="485.9" cy="389.1" r="0.45" fill="#666" opacity="0.5"/>
<circle cx="453.2" cy="364.3" r="0.45" fill="#666" opacity="0.5"/>
<circle cx="473.5" cy="372.8" r="0.45" fill="#666" opacity="0.5"/>
<circle cx="465.2" cy="361.3" r="0.45" fill="#666" opacity="0.5"/>
<circle cx="495.4" cy="381.4" r="0.45" fill="#666" opacity="0.5"/>
<circle cx="455.7" cy="357.5" r="0.45" fill="#666" opacity="0.5"/>
<circle cx="490.4" cy="380.9" r="0.45" fill="#666" opacity="0.5"/>
<circle cx="491.9" cy="379.1" r="0.45" fill="#666" opacity="0.5"/>
<circle cx="459.5" cy="373.6" r="0.45" fill="#666" opacity="0.5"/>
<circle cx="444.1" cy="363.5" r="0.45" fill="#666" opacity="0.5"/>
<circle cx="469.3" cy="376.2" r="0.45" fill="#666" opacity="0.5"/>
<circle cx="461.3" cy="369.8" r="0.45" fill="#666" opacity="0.5"/>
<circle cx="475.5" cy="374.8" r="0.45" fill="#666" opacity="0.5"/>
<circle cx="477.7" cy="373.1" r="0.45" fill="#666" opacity="0.5"/>
<circle cx="466.1" cy="378.9" r="0.45" fill="#666" opacity="0.5"/>
<circle cx="470.6" cy="362.7" r="0.45" fill="#666" opacity="0.5"/>
<circle cx="462.5" cy="371.0" r="0.45" fill="#666" opacity="0.5"/>
<circle cx="468.7" cy="372.6" r="0.45" fill="#666" opacity="0.5"/>
<circle cx="470.0" cy="372.8" r="0.45" fill="#666" opacity="0.5"/>
<circle cx="468.4" cy="358.4" r="0.45" fill="#666" opacity="0.5"/>
<circle cx="475.1" cy="381.5" r="0.45" fill="#666" opacity="0.5"/>
<circle cx="475.2" cy="369.1" r="0.45" fill="#666" opacity="0.5"/>
<circle cx="475.4" cy="361.3" r="0.45" fill="#666" opacity="0.5"/>
<circle cx="447.2" cy="371.6" r="0.45" fill="#666" opacity="0.5"/>
<circle cx="458.8" cy="378.4" r="0.45" fill="#666" opacity="0.5"/>
<circle cx="457.0" cy="344.7" r="0.45" fill="#666" opacity="0.5"/>
<circle cx="457.5" cy="386.8" r="0.45" fill="#666" opacity="0.5"/>
<circle cx="465.4" cy="357.3" r="0.45" fill="#666" opacity="0.5"/>
<circle cx="460.8" cy="376.2" r="0.45" fill="#666" opacity="0.5"/>
<circle cx="476.0" cy="372.8" r="0.45" fill="#666" opacity="0.5"/>
<circle cx="487.8" cy="378.1" r="0.45" fill="#666" opacity="0.5"/>
<circle cx="469.7" cy="377.0" r="0.45" fill="#666" opacity="0.5"/>
<circle cx="489.9" cy="380.7" r="0.45" fill="#666" opacity="0.5"/>
<circle cx="482.3" cy="360.2" r="0.45" fill="#666" opacity="0.5"/>
<circle cx="468.2" cy="378.3" r="0.45" fill="#666" opacity="0.5"/>
<circle cx="466.4" cy="381.7" r="0.45" fill="#666" opacity="0.5"/>
<circle cx="477.2" cy="380.1" r="0.45" fill="#666" opacity="0.5"/>
<circle cx="467.5" cy="396.5" r="0.45" fill="#666" opacity="0.5"/>
<circle cx="484.9" cy="368.8" r="0.45" fill="#666" opacity="0.5"/>
<circle cx="471.1" cy="397.0" r="0.45" fill="#666" opacity="0.5"/>
<circle cx="465.9" cy="379.7" r="0.45" fill="#666" opacity="0.5"/>
<circle cx="481.8" cy="371.1" r="0.45" fill="#666" opacity="0.5"/>
<circle cx="456.0" cy="372.9" r="0.45" fill="#666" opacity="0.5"/>
<circle cx="474.3" cy="382.3" r="0.45" fill="#666" opacity="0.5"/>
<circle cx="479.4" cy="371.2" r="0.45" fill="#666" opacity="0.5"/>
<circle cx="480.2" cy="376.4" r="0.45" fill="#666" opacity="0.5"/>
<circle cx="472.5" cy="371.6" r="0.45" fill="#666" opacity="0.5"/>
<circle cx="467.1" cy="377.9" r="0.45" fill="#666" opacity="0.5"/>
<circle cx="457.3" cy="364.7" r="0.45" fill="#666" opacity="0.5"/>
<circle cx="470.1" cy="356.4" r="0.45" fill="#666" opacity="0.5"/>
<circle cx="423.6" cy="389.9" r="0.45" fill="#666" opacity="0.45"/>
<circle cx="421.2" cy="415.7" r="0.45" fill="#666" opacity="0.45"/>
<circle cx="433.7" cy="409.5" r="0.45" fill="#666" opacity="0.45"/>
<circle cx="425.7" cy="395.8" r="0.45" fill="#666" opacity="0.45"/>
<circle cx="446.3" cy="415.2" r="0.45" fill="#666" opacity="0.45"/>
<circle cx="438.9" cy="401.2" r="0.45" fill="#666" opacity="0.45"/>
<circle cx="426.1" cy="391.8" r="0.45" fill="#666" opacity="0.45"/>
<circle cx="435.8" cy="419.4" r="0.45" fill="#666" opacity="0.45"/>
<circle cx="434.3" cy="392.4" r="0.45" fill="#666" opacity="0.45"/>
<circle cx="421.7" cy="396.0" r="0.45" fill="#666" opacity="0.45"/>
<circle cx="428.3" cy="412.5" r="0.45" fill="#666" opacity="0.45"/>
<circle cx="434.3" cy="417.0" r="0.45" fill="#666" opacity="0.45"/>
<circle cx="443.0" cy="421.6" r="0.45" fill="#666" opacity="0.45"/>
<circle cx="414.9" cy="404.9" r="0.45" fill="#666" opacity="0.45"/>
<circle cx="417.4" cy="399.2" r="0.45" fill="#666" opacity="0.45"/>
<circle cx="427.2" cy="410.1" r="0.45" fill="#666" opacity="0.45"/>
<circle cx="432.9" cy="394.1" r="0.45" fill="#666" opacity="0.45"/>
<circle cx="415.6" cy="409.8" r="0.45" fill="#666" opacity="0.45"/>
<circle cx="426.0" cy="406.9" r="0.45" fill="#666" opacity="0.45"/>
<circle cx="427.4" cy="402.4" r="0.45" fill="#666" opacity="0.45"/>
<circle cx="435.0" cy="413.5" r="0.45" fill="#666" opacity="0.45"/>
<circle cx="427.1" cy="403.3" r="0.45" fill="#666" opacity="0.45"/>
<circle cx="426.3" cy="382.8" r="0.45" fill="#666" opacity="0.45"/>
<circle cx="418.2" cy="410.4" r="0.45" fill="#666" opacity="0.45"/>
<circle cx="429.5" cy="396.2" r="0.45" fill="#666" opacity="0.45"/>
<circle cx="425.5" cy="406.9" r="0.45" fill="#666" opacity="0.45"/>
<circle cx="432.6" cy="416.1" r="0.45" fill="#666" opacity="0.45"/>
<circle cx="427.6" cy="401.5" r="0.45" fill="#666" opacity="0.45"/>
<circle cx="426.6" cy="409.3" r="0.45" fill="#666" opacity="0.45"/>
<circle cx="435.3" cy="412.9" r="0.45" fill="#666" opacity="0.45"/>
<circle cx="420.8" cy="396.5" r="0.45" fill="#666" opacity="0.45"/>
<circle cx="424.3" cy="402.6" r="0.45" fill="#666" opacity="0.45"/>
<circle cx="416.9" cy="408.8" r="0.45" fill="#666" opacity="0.45"/>
<circle cx="423.1" cy="411.1" r="0.45" fill="#666" opacity="0.45"/>
<circle cx="433.2" cy="405.9" r="0.45" fill="#666" opacity="0.45"/>
<circle cx="451.2" cy="406.8" r="0.45" fill="#666" opacity="0.45"/>
<circle cx="439.0" cy="411.2" r="0.45" fill="#666" opacity="0.45"/>
<circle cx="439.2" cy="386.2" r="0.45" fill="#666" opacity="0.45"/>
<circle cx="420.5" cy="412.5" r="0.45" fill="#666" opacity="0.45"/>
<circle cx="434.0" cy="433.4" r="0.45" fill="#666" opacity="0.45"/>
<circle cx="431.2" cy="422.8" r="0.45" fill="#666" opacity="0.45"/>
<circle cx="435.7" cy="419.5" r="0.45" fill="#666" opacity="0.45"/>
<circle cx="433.1" cy="408.4" r="0.45" fill="#666" opacity="0.45"/>
<circle cx="433.1" cy="399.2" r="0.45" fill="#666" opacity="0.45"/>
<circle cx="439.8" cy="399.8" r="0.45" fill="#666" opacity="0.45"/>
<circle cx="430.5" cy="431.2" r="0.45" fill="#666" opacity="0.45"/>
<circle cx="425.8" cy="410.2" r="0.45" fill="#666" opacity="0.45"/>
<circle cx="439.6" cy="410.3" r="0.45" fill="#666" opacity="0.45"/>
<circle cx="419.9" cy="412.6" r="0.45" fill="#666" opacity="0.45"/>
<circle cx="433.8" cy="417.1" r="0.45" fill="#666" opacity="0.45"/>
<circle cx="420.3" cy="427.5" r="0.45" fill="#666" opacity="0.45"/>
<circle cx="444.7" cy="410.2" r="0.45" fill="#666" opacity="0.45"/>
<circle cx="430.7" cy="405.7" r="0.45" fill="#666" opacity="0.45"/>
<circle cx="442.1" cy="403.0" r="0.45" fill="#666" opacity="0.45"/>
<circle cx="434.7" cy="405.2" r="0.45" fill="#666" opacity="0.45"/>
<circle cx="421.1" cy="417.2" r="0.45" fill="#666" opacity="0.45"/>
<circle cx="441.3" cy="409.9" r="0.45" fill="#666" opacity="0.45"/>
<circle cx="421.2" cy="418.1" r="0.45" fill="#666" opacity="0.45"/>
<circle cx="427.5" cy="413.1" r="0.45" fill="#666" opacity="0.45"/>
<circle cx="443.2" cy="421.3" r="0.45" fill="#666" opacity="0.45"/>
<circle cx="422.8" cy="432.8" r="0.45" fill="#666" opacity="0.45"/>
<circle cx="428.0" cy="417.9" r="0.45" fill="#666" opacity="0.45"/>
<circle cx="421.5" cy="409.6" r="0.45" fill="#666" opacity="0.45"/>
<circle cx="441.7" cy="397.8" r="0.45" fill="#666" opacity="0.45"/>
<circle cx="439.8" cy="405.4" r="0.45" fill="#666" opacity="0.45"/>
<circle cx="427.4" cy="406.9" r="0.45" fill="#666" opacity="0.45"/>
<circle cx="426.8" cy="399.1" r="0.45" fill="#666" opacity="0.45"/>
<circle cx="428.2" cy="395.6" r="0.45" fill="#666" opacity="0.45"/>
<circle cx="427.3" cy="413.1" r="0.45" fill="#666" opacity="0.45"/>
<circle cx="432.7" cy="407.7" r="0.45" fill="#666" opacity="0.45"/>
<circle cx="419.0" cy="411.6" r="0.45" fill="#666" opacity="0.45"/>
<circle cx="423.2" cy="425.7" r="0.45" fill="#666" opacity="0.45"/>
<circle cx="435.7" cy="408.8" r="0.45" fill="#666" opacity="0.45"/>
<circle cx="423.3" cy="403.0" r="0.45" fill="#666" opacity="0.45"/>
<circle cx="418.6" cy="406.5" r="0.45" fill="#666" opacity="0.45"/>
<circle cx="430.9" cy="415.2" r="0.45" fill="#666" opacity="0.45"/>
<circle cx="433.7" cy="431.0" r="0.45" fill="#666" opacity="0.45"/>
<circle cx="421.0" cy="410.1" r="0.45" fill="#666" opacity="0.45"/>
<circle cx="455.9" cy="391.3" r="0.45" fill="#666" opacity="0.45"/>
<circle cx="422.8" cy="411.7" r="0.45" fill="#666" opacity="0.45"/>
<circle cx="429.5" cy="414.1" r="0.45" fill="#666" opacity="0.45"/>
<circle cx="425.6" cy="413.7" r="0.45" fill="#666" opacity="0.45"/>
<circle cx="428.5" cy="417.7" r="0.45" fill="#666" opacity="0.45"/>
<circle cx="428.0" cy="399.7" r="0.45" fill="#666" opacity="0.45"/>
<circle cx="417.6" cy="416.3" r="0.45" fill="#666" opacity="0.45"/>
<circle cx="421.5" cy="416.3" r="0.45" fill="#666" opacity="0.45"/>
<circle cx="435.5" cy="413.1" r="0.45" fill="#666" opacity="0.45"/>
<circle cx="433.1" cy="409.0" r="0.45" fill="#666" opacity="0.45"/>
<circle cx="413.9" cy="409.7" r="0.45" fill="#666" opacity="0.45"/>
<circle cx="432.5" cy="404.7" r="0.45" fill="#666" opacity="0.45"/>
<circle cx="427.0" cy="417.5" r="0.45" fill="#666" opacity="0.45"/>
<circle cx="419.2" cy="416.4" r="0.45" fill="#666" opacity="0.45"/>
<circle cx="446.6" cy="404.5" r="0.45" fill="#666" opacity="0.45"/>
<circle cx="429.5" cy="408.5" r="0.45" fill="#666" opacity="0.45"/>
<circle cx="443.4" cy="413.2" r="0.45" fill="#666" opacity="0.45"/>
<circle cx="437.0" cy="403.1" r="0.45" fill="#666" opacity="0.45"/>
<circle cx="427.8" cy="409.9" r="0.45" fill="#666" opacity="0.45"/>
<circle cx="437.0" cy="392.5" r="0.45" fill="#666" opacity="0.45"/>
<circle cx="435.4" cy="408.7" r="0.45" fill="#666" opacity="0.45"/>
<circle cx="432.5" cy="413.7" r="0.45" fill="#666" opacity="0.45"/>
<circle cx="442.9" cy="404.3" r="0.45" fill="#666" opacity="0.45"/>
<circle cx="417.8" cy="396.4" r="0.45" fill="#666" opacity="0.45"/>
<circle cx="415.8" cy="413.4" r="0.45" fill="#666" opacity="0.45"/>
<circle cx="444.9" cy="414.3" r="0.45" fill="#666" opacity="0.45"/>
<circle cx="430.5" cy="432.3" r="0.45" fill="#666" opacity="0.45"/>
<circle cx="422.8" cy="403.3" r="0.45" fill="#666" opacity="0.45"/>
<circle cx="433.3" cy="415.5" r="0.45" fill="#666" opacity="0.45"/>
<circle cx="417.9" cy="398.3" r="0.45" fill="#666" opacity="0.45"/>
<circle cx="430.9" cy="412.5" r="0.45" fill="#666" opacity="0.45"/>
<circle cx="414.9" cy="408.0" r="0.45" fill="#666" opacity="0.45"/>
<circle cx="422.6" cy="414.6" r="0.45" fill="#666" opacity="0.45"/>
<circle cx="426.8" cy="409.1" r="0.45" fill="#666" opacity="0.45"/>
<circle cx="441.8" cy="403.4" r="0.45" fill="#666" opacity="0.4"/>
<circle cx="457.5" cy="392.1" r="0.45" fill="#666" opacity="0.4"/>
<circle cx="452.6" cy="388.9" r="0.45" fill="#666" opacity="0.4"/>
<circle cx="445.6" cy="401.0" r="0.45" fill="#666" opacity="0.4"/>
<circle cx="458.6" cy="391.9" r="0.45" fill="#666" opacity="0.4"/>
<circle cx="444.3" cy="396.6" r="0.45" fill="#666" opacity="0.4"/>
<circle cx="431.5" cy="395.1" r="0.45" fill="#666" opacity="0.4"/>
<circle cx="438.9" cy="398.0" r="0.45" fill="#666" opacity="0.4"/>
<circle cx="434.8" cy="379.2" r="0.45" fill="#666" opacity="0.4"/>
<circle cx="445.3" cy="397.1" r="0.45" fill="#666" opacity="0.4"/>
<circle cx="440.1" cy="402.1" r="0.45" fill="#666" opacity="0.4"/>
<circle cx="442.5" cy="390.2" r="0.45" fill="#666" opacity="0.4"/>
<circle cx="449.3" cy="382.5" r="0.45" fill="#666" opacity="0.4"/>
<circle cx="438.9" cy="394.8" r="0.45" fill="#666" opacity="0.4"/>
<circle cx="452.6" cy="393.7" r="0.45" fill="#666" opacity="0.4"/>
<circle cx="447.8" cy="389.8" r="0.45" fill="#666" opacity="0.4"/>
<circle cx="447.7" cy="408.3" r="0.45" fill="#666" opacity="0.4"/>
<circle cx="438.8" cy="413.9" r="0.45" fill="#666" opacity="0.4"/>
<circle cx="439.2" cy="395.1" r="0.45" fill="#666" opacity="0.4"/>
<circle cx="446.6" cy="403.2" r="0.45" fill="#666" opacity="0.4"/>
<circle cx="433.9" cy="378.2" r="0.45" fill="#666" opacity="0.4"/>
<circle cx="450.5" cy="401.4" r="0.45" fill="#666" opacity="0.4"/>
<circle cx="450.6" cy="416.0" r="0.45" fill="#666" opacity="0.4"/>
<circle cx="446.8" cy="397.0" r="0.45" fill="#666" opacity="0.4"/>
<circle cx="453.4" cy="398.0" r="0.45" fill="#666" opacity="0.4"/>
<circle cx="460.0" cy="385.1" r="0.45" fill="#666" opacity="0.4"/>
<circle cx="441.6" cy="367.4" r="0.45" fill="#666" opacity="0.4"/>
<circle cx="452.3" cy="392.0" r="0.45" fill="#666" opacity="0.4"/>
<circle cx="453.3" cy="412.2" r="0.45" fill="#666" opacity="0.4"/>
<circle cx="444.9" cy="393.0" r="0.45" fill="#666" opacity="0.4"/>
<circle cx="440.5" cy="388.3" r="0.45" fill="#666" opacity="0.4"/>
<circle cx="439.3" cy="400.1" r="0.45" fill="#666" opacity="0.4"/>
<circle cx="445.3" cy="395.5" r="0.45" fill="#666" opacity="0.4"/>
<circle cx="443.4" cy="402.3" r="0.45" fill="#666" opacity="0.4"/>
<circle cx="449.4" cy="393.9" r="0.45" fill="#666" opacity="0.4"/>
<circle cx="451.0" cy="393.8" r="0.45" fill="#666" opacity="0.4"/>
<circle cx="434.6" cy="406.6" r="0.45" fill="#666" opacity="0.4"/>
<circle cx="449.2" cy="387.3" r="0.45" fill="#666" opacity="0.4"/>
<circle cx="454.7" cy="397.8" r="0.45" fill="#666" opacity="0.4"/>
<circle cx="430.9" cy="407.9" r="0.45" fill="#666" opacity="0.4"/>
<circle cx="448.0" cy="402.1" r="0.45" fill="#666" opacity="0.4"/>
<circle cx="446.8" cy="393.8" r="0.45" fill="#666" opacity="0.4"/>
<circle cx="431.1" cy="402.8" r="0.45" fill="#666" opacity="0.4"/>
<circle cx="445.3" cy="392.7" r="0.45" fill="#666" opacity="0.4"/>
<circle cx="448.2" cy="395.6" r="0.45" fill="#666" opacity="0.4"/>
<circle cx="451.1" cy="392.0" r="0.45" fill="#666" opacity="0.4"/>
<circle cx="444.7" cy="377.9" r="0.45" fill="#666" opacity="0.4"/>
<circle cx="441.2" cy="400.4" r="0.45" fill="#666" opacity="0.4"/>
<circle cx="457.0" cy="392.1" r="0.45" fill="#666" opacity="0.4"/>
<circle cx="443.9" cy="407.7" r="0.45" fill="#666" opacity="0.4"/>
<circle cx="442.1" cy="400.9" r="0.45" fill="#666" opacity="0.4"/>
<circle cx="460.1" cy="395.3" r="0.45" fill="#666" opacity="0.4"/>
<circle cx="456.0" cy="389.3" r="0.45" fill="#666" opacity="0.4"/>
<circle cx="446.9" cy="394.4" r="0.45" fill="#666" opacity="0.4"/>
<circle cx="446.0" cy="404.0" r="0.45" fill="#666" opacity="0.4"/>
<circle cx="466.5" cy="389.7" r="0.45" fill="#666" opacity="0.4"/>
<circle cx="439.8" cy="399.0" r="0.45" fill="#666" opacity="0.4"/>
<circle cx="435.5" cy="399.0" r="0.45" fill="#666" opacity="0.4"/>
<circle cx="450.1" cy="392.8" r="0.45" fill="#666" opacity="0.4"/>
<circle cx="449.8" cy="382.6" r="0.45" fill="#666" opacity="0.4"/>
<circle cx="451.8" cy="382.6" r="0.45" fill="#666" opacity="0.4"/>
<circle cx="438.7" cy="390.6" r="0.45" fill="#666" opacity="0.4"/>
<circle cx="441.4" cy="401.9" r="0.45" fill="#666" opacity="0.4"/>
<circle cx="445.7" cy="391.8" r="0.45" fill="#666" opacity="0.4"/>
<circle cx="449.9" cy="407.7" r="0.45" fill="#666" opacity="0.4"/>
<circle cx="445.1" cy="397.9" r="0.45" fill="#666" opacity="0.4"/>
<circle cx="456.2" cy="397.1" r="0.45" fill="#666" opacity="0.4"/>
<circle cx="433.4" cy="414.9" r="0.45" fill="#666" opacity="0.4"/>
<circle cx="464.9" cy="379.1" r="0.45" fill="#666" opacity="0.4"/>
<circle cx="444.6" cy="398.3" r="0.45" fill="#666" opacity="0.4"/>
<circle cx="453.7" cy="400.4" r="0.45" fill="#666" opacity="0.4"/>
<circle cx="442.6" cy="386.6" r="0.45" fill="#666" opacity="0.4"/>
<circle cx="445.9" cy="403.3" r="0.45" fill="#666" opacity="0.4"/>
<circle cx="435.2" cy="386.8" r="0.45" fill="#666" opacity="0.4"/>
<circle cx="444.8" cy="379.5" r="0.45" fill="#666" opacity="0.4"/>
<circle cx="442.7" cy="391.5" r="0.45" fill="#666" opacity="0.4"/>
<circle cx="449.1" cy="389.4" r="0.45" fill="#666" opacity="0.4"/>
<circle cx="437.1" cy="391.8" r="0.45" fill="#666" opacity="0.4"/>
<circle cx="444.6" cy="389.7" r="0.45" fill="#666" opacity="0.4"/>
<circle cx="445.1" cy="401.0" r="0.45" fill="#666" opacity="0.4"/>
<ellipse cx="467.7" cy="372.0" rx="18.5" ry="9.5" transform="rotate(-48.6 467.7 372.0)" fill="#e2e2e2" stroke="#9a9a9a" stroke-width="0.55"/>
<ellipse cx="467.7" cy="372.0" rx="15.9" ry="8.1" transform="rotate(-48.6 467.7 372.0)" fill="none" stroke="#9a9a9a" stroke-width="0.55"/>
<ellipse cx="467.7" cy="372.0" rx="13.2" ry="6.8" transform="rotate(-48.6 467.7 372.0)" fill="none" stroke="#9a9a9a" stroke-width="0.55"/>
<ellipse cx="467.7" cy="372.0" rx="10.6" ry="5.4" transform="rotate(-48.6 467.7 372.0)" fill="none" stroke="#9a9a9a" stroke-width="0.55"/>
<ellipse cx="467.7" cy="372.0" rx="7.9" ry="4.1" transform="rotate(-48.6 467.7 372.0)" fill="none" stroke="#9a9a9a" stroke-width="0.55"/>
<ellipse cx="467.7" cy="372.0" rx="5.3" ry="2.7" transform="rotate(-48.6 467.7 372.0)" fill="none" stroke="#9a9a9a" stroke-width="0.55"/>
<ellipse cx="467.7" cy="372.0" rx="2.6" ry="1.4" transform="rotate(-48.6 467.7 372.0)" fill="none" stroke="#9a9a9a" stroke-width="0.55"/>
<ellipse cx="470.2" cy="371.2" rx="22.3" ry="11.5" transform="rotate(-48.6 470.2 371.2)" fill="none" stroke="#505050" stroke-width="1"/>
<text x="501.5" y="398.8" font-size="13.5" text-anchor="end" fill="#111" >20.6</text>
<path d="M421.4,413.5 C421.4,402.0 422.4,392.0 429,392.0 C435.6,392.0 436.6,402.0 437.1,415.5" fill="none" stroke="#8c8c8c" stroke-width="0.75"/>
<path d="M423.6,413.5 C423.6,405.2 424.6,395.2 429,395.2 C433.4,395.2 434.4,405.2 434.9,415.5" fill="none" stroke="#9a9a9a" stroke-width="0.7"/>
<path d="M425.6,413.5 C425.6,408.4 426.6,398.4 429,398.4 C431.4,398.4 432.4,408.4 432.9,415.5" fill="none" stroke="#a8a8a8" stroke-width="0.65"/>
<ellipse cx="424.8" cy="418.5" rx="12.0" ry="11.4" fill="#c9c9c9" stroke="#8a8a8a" stroke-width="0.6"/>
<ellipse cx="424.8" cy="418.5" rx="10.2" ry="9.7" fill="none" stroke="#8a8a8a" stroke-width="0.6"/>
<ellipse cx="424.8" cy="418.5" rx="8.4" ry="8.0" fill="none" stroke="#8a8a8a" stroke-width="0.6"/>
<ellipse cx="424.8" cy="418.5" rx="6.6" ry="6.3" fill="none" stroke="#8a8a8a" stroke-width="0.6"/>
<ellipse cx="424.8" cy="418.5" rx="4.8" ry="4.6" fill="none" stroke="#8a8a8a" stroke-width="0.6"/>
<ellipse cx="424.8" cy="418.5" rx="3.0" ry="2.8" fill="none" stroke="#8a8a8a" stroke-width="0.6"/>
<circle cx="424.8" cy="418.5" r="1.2" fill="#fff"/>
<rect x="508.3" y="343" width="90.69999999999999" height="91.69999999999999" fill="#fff" stroke="#8a8a8a" stroke-width="1" />
<line x1="506.5" y1="412.7" x2="508.3" y2="412.7" stroke="#444" stroke-width="0.9" />
<line x1="506.5" y1="410.5" x2="508.3" y2="410.5" stroke="#444" stroke-width="0.9" />
<line x1="506.5" y1="408.3" x2="508.3" y2="408.3" stroke="#444" stroke-width="0.9" />
<line x1="506.5" y1="406.09999999999997" x2="508.3" y2="406.09999999999997" stroke="#444" stroke-width="0.9" />
<line x1="517.3" y1="435.9" x2="521.3" y2="435.9" stroke="#444" stroke-width="1.6" />
<line x1="506.8" y1="362.9347826086956" x2="508.3" y2="362.9347826086956" stroke="#777" stroke-width="0.8" />
<line x1="528.0173913043478" y1="434.7" x2="528.0173913043478" y2="436.2" stroke="#777" stroke-width="0.8" />
<line x1="506.8" y1="382.8695652173913" x2="508.3" y2="382.8695652173913" stroke="#777" stroke-width="0.8" />
<line x1="547.7347826086957" y1="434.7" x2="547.7347826086957" y2="436.2" stroke="#777" stroke-width="0.8" />
<line x1="506.8" y1="402.80434782608694" x2="508.3" y2="402.80434782608694" stroke="#777" stroke-width="0.8" />
<line x1="567.4521739130435" y1="434.7" x2="567.4521739130435" y2="436.2" stroke="#777" stroke-width="0.8" />
<line x1="506.8" y1="422.7391304347826" x2="508.3" y2="422.7391304347826" stroke="#777" stroke-width="0.8" />
<line x1="587.1695652173913" y1="434.7" x2="587.1695652173913" y2="436.2" stroke="#777" stroke-width="0.8" />
<circle cx="565.4" cy="372.2" r="0.45" fill="#666" opacity="0.7"/>
<circle cx="555.6" cy="362.6" r="0.45" fill="#666" opacity="0.7"/>
<circle cx="547.1" cy="373.0" r="0.45" fill="#666" opacity="0.7"/>
<circle cx="555.9" cy="364.3" r="0.45" fill="#666" opacity="0.7"/>
<circle cx="562.1" cy="358.4" r="0.45" fill="#666" opacity="0.7"/>
<circle cx="561.8" cy="364.4" r="0.45" fill="#666" opacity="0.7"/>
<circle cx="550.4" cy="365.8" r="0.45" fill="#666" opacity="0.7"/>
<circle cx="565.5" cy="356.1" r="0.45" fill="#666" opacity="0.7"/>
<circle cx="563.5" cy="365.4" r="0.45" fill="#666" opacity="0.7"/>
<circle cx="561.9" cy="366.5" r="0.45" fill="#666" opacity="0.7"/>
<circle cx="566.0" cy="363.5" r="0.45" fill="#666" opacity="0.7"/>
<circle cx="563.9" cy="362.7" r="0.45" fill="#666" opacity="0.7"/>
<circle cx="563.1" cy="360.8" r="0.45" fill="#666" opacity="0.7"/>
<circle cx="559.0" cy="372.3" r="0.45" fill="#666" opacity="0.7"/>
<circle cx="561.7" cy="363.8" r="0.45" fill="#666" opacity="0.7"/>
<circle cx="553.8" cy="360.9" r="0.45" fill="#666" opacity="0.7"/>
<circle cx="560.5" cy="368.7" r="0.45" fill="#666" opacity="0.7"/>
<circle cx="561.6" cy="366.9" r="0.45" fill="#666" opacity="0.7"/>
<circle cx="559.3" cy="370.6" r="0.45" fill="#666" opacity="0.7"/>
<circle cx="557.5" cy="362.0" r="0.45" fill="#666" opacity="0.7"/>
<circle cx="563.9" cy="364.8" r="0.45" fill="#666" opacity="0.7"/>
<circle cx="558.1" cy="361.9" r="0.45" fill="#666" opacity="0.7"/>
<circle cx="558.2" cy="367.3" r="0.45" fill="#666" opacity="0.7"/>
<circle cx="561.3" cy="359.1" r="0.45" fill="#666" opacity="0.7"/>
<circle cx="561.6" cy="365.3" r="0.45" fill="#666" opacity="0.7"/>
<circle cx="554.5" cy="368.0" r="0.45" fill="#666" opacity="0.7"/>
<circle cx="558.1" cy="363.0" r="0.45" fill="#666" opacity="0.7"/>
<circle cx="563.5" cy="370.4" r="0.45" fill="#666" opacity="0.7"/>
<circle cx="556.1" cy="366.5" r="0.45" fill="#666" opacity="0.7"/>
<circle cx="555.1" cy="374.9" r="0.45" fill="#666" opacity="0.7"/>
<circle cx="557.0" cy="369.9" r="0.45" fill="#666" opacity="0.7"/>
<circle cx="556.3" cy="368.2" r="0.45" fill="#666" opacity="0.7"/>
<circle cx="570.6" cy="353.1" r="0.45" fill="#666" opacity="0.7"/>
<circle cx="557.3" cy="366.8" r="0.45" fill="#666" opacity="0.7"/>
<circle cx="559.0" cy="361.5" r="0.45" fill="#666" opacity="0.7"/>
<circle cx="570.3" cy="364.9" r="0.45" fill="#666" opacity="0.7"/>
<circle cx="551.3" cy="368.3" r="0.45" fill="#666" opacity="0.7"/>
<circle cx="550.9" cy="369.7" r="0.45" fill="#666" opacity="0.7"/>
<circle cx="556.6" cy="365.2" r="0.45" fill="#666" opacity="0.7"/>
<circle cx="565.8" cy="365.0" r="0.45" fill="#666" opacity="0.7"/>
<circle cx="552.5" cy="356.9" r="0.45" fill="#666" opacity="0.7"/>
<circle cx="565.4" cy="367.8" r="0.45" fill="#666" opacity="0.7"/>
<circle cx="555.4" cy="368.4" r="0.45" fill="#666" opacity="0.7"/>
<circle cx="562.0" cy="367.4" r="0.45" fill="#666" opacity="0.7"/>
<circle cx="548.2" cy="363.1" r="0.45" fill="#666" opacity="0.7"/>
<circle cx="564.0" cy="367.8" r="0.45" fill="#666" opacity="0.7"/>
<circle cx="563.9" cy="353.4" r="0.45" fill="#666" opacity="0.7"/>
<circle cx="560.3" cy="366.7" r="0.45" fill="#666" opacity="0.7"/>
<circle cx="572.3" cy="360.2" r="0.45" fill="#666" opacity="0.7"/>
<circle cx="557.9" cy="364.7" r="0.45" fill="#666" opacity="0.7"/>
<circle cx="563.9" cy="362.5" r="0.45" fill="#666" opacity="0.7"/>
<circle cx="565.2" cy="361.0" r="0.45" fill="#666" opacity="0.7"/>
<circle cx="560.8" cy="362.1" r="0.45" fill="#666" opacity="0.7"/>
<circle cx="560.3" cy="361.4" r="0.45" fill="#666" opacity="0.7"/>
<circle cx="551.5" cy="369.4" r="0.45" fill="#666" opacity="0.7"/>
<circle cx="561.0" cy="362.0" r="0.45" fill="#666" opacity="0.7"/>
<circle cx="560.5" cy="369.0" r="0.45" fill="#666" opacity="0.7"/>
<circle cx="554.6" cy="364.0" r="0.45" fill="#666" opacity="0.7"/>
<circle cx="562.2" cy="366.9" r="0.45" fill="#666" opacity="0.7"/>
<circle cx="557.8" cy="355.0" r="0.45" fill="#666" opacity="0.7"/>
<circle cx="565.7" cy="366.0" r="0.45" fill="#666" opacity="0.7"/>
<circle cx="559.6" cy="363.2" r="0.45" fill="#666" opacity="0.7"/>
<circle cx="560.8" cy="362.6" r="0.45" fill="#666" opacity="0.7"/>
<circle cx="554.4" cy="361.2" r="0.45" fill="#666" opacity="0.7"/>
<circle cx="556.5" cy="361.7" r="0.45" fill="#666" opacity="0.7"/>
<circle cx="553.7" cy="367.4" r="0.45" fill="#666" opacity="0.7"/>
<circle cx="553.0" cy="367.5" r="0.45" fill="#666" opacity="0.7"/>
<circle cx="554.4" cy="366.1" r="0.45" fill="#666" opacity="0.7"/>
<circle cx="566.4" cy="365.4" r="0.45" fill="#666" opacity="0.7"/>
<circle cx="555.8" cy="364.7" r="0.45" fill="#666" opacity="0.7"/>
<circle cx="560.2" cy="356.7" r="0.45" fill="#666" opacity="0.7"/>
<circle cx="556.5" cy="365.2" r="0.45" fill="#666" opacity="0.7"/>
<circle cx="557.2" cy="364.9" r="0.45" fill="#666" opacity="0.7"/>
<circle cx="563.2" cy="367.9" r="0.45" fill="#666" opacity="0.7"/>
<circle cx="564.0" cy="367.1" r="0.45" fill="#666" opacity="0.7"/>
<circle cx="558.1" cy="364.4" r="0.45" fill="#666" opacity="0.7"/>
<circle cx="558.1" cy="363.1" r="0.45" fill="#666" opacity="0.7"/>
<circle cx="558.6" cy="356.7" r="0.45" fill="#666" opacity="0.7"/>
<circle cx="557.8" cy="364.4" r="0.45" fill="#666" opacity="0.7"/>
<circle cx="554.6" cy="364.4" r="0.45" fill="#666" opacity="0.7"/>
<circle cx="562.1" cy="363.8" r="0.45" fill="#666" opacity="0.7"/>
<circle cx="569.9" cy="352.8" r="0.45" fill="#666" opacity="0.7"/>
<circle cx="558.5" cy="356.3" r="0.45" fill="#666" opacity="0.7"/>
<circle cx="564.4" cy="376.4" r="0.45" fill="#666" opacity="0.7"/>
<circle cx="547.0" cy="365.1" r="0.45" fill="#666" opacity="0.7"/>
<circle cx="562.1" cy="363.1" r="0.45" fill="#666" opacity="0.7"/>
<circle cx="562.3" cy="354.4" r="0.45" fill="#666" opacity="0.7"/>
<circle cx="563.8" cy="366.2" r="0.45" fill="#666" opacity="0.7"/>
<circle cx="559.6" cy="361.9" r="0.45" fill="#666" opacity="0.7"/>
<circle cx="562.7" cy="362.3" r="0.45" fill="#666" opacity="0.7"/>
<circle cx="560.6" cy="362.2" r="0.45" fill="#666" opacity="0.7"/>
<circle cx="548.3" cy="364.4" r="0.45" fill="#666" opacity="0.7"/>
<circle cx="560.5" cy="367.9" r="0.45" fill="#666" opacity="0.7"/>
<circle cx="555.1" cy="364.4" r="0.45" fill="#666" opacity="0.7"/>
<circle cx="562.6" cy="365.2" r="0.45" fill="#666" opacity="0.7"/>
<circle cx="565.7" cy="373.5" r="0.45" fill="#666" opacity="0.7"/>
<circle cx="555.0" cy="355.9" r="0.45" fill="#666" opacity="0.7"/>
<circle cx="563.8" cy="371.4" r="0.45" fill="#666" opacity="0.7"/>
<circle cx="564.1" cy="368.2" r="0.45" fill="#666" opacity="0.7"/>
<circle cx="556.4" cy="361.3" r="0.45" fill="#666" opacity="0.7"/>
<circle cx="563.9" cy="360.4" r="0.45" fill="#666" opacity="0.7"/>
<circle cx="550.4" cy="360.0" r="0.45" fill="#666" opacity="0.7"/>
<circle cx="572.0" cy="373.2" r="0.45" fill="#666" opacity="0.7"/>
<circle cx="556.1" cy="361.2" r="0.45" fill="#666" opacity="0.7"/>
<circle cx="560.7" cy="361.1" r="0.45" fill="#666" opacity="0.7"/>
<circle cx="566.1" cy="364.1" r="0.45" fill="#666" opacity="0.7"/>
<circle cx="554.1" cy="370.4" r="0.45" fill="#666" opacity="0.7"/>
<circle cx="556.6" cy="365.5" r="0.45" fill="#666" opacity="0.7"/>
<circle cx="559.4" cy="363.1" r="0.45" fill="#666" opacity="0.7"/>
<circle cx="561.1" cy="361.4" r="0.45" fill="#666" opacity="0.7"/>
<circle cx="545.4" cy="350.3" r="0.45" fill="#666" opacity="0.55"/>
<circle cx="550.6" cy="361.9" r="0.45" fill="#666" opacity="0.55"/>
<circle cx="561.8" cy="368.4" r="0.45" fill="#666" opacity="0.55"/>
<circle cx="567.0" cy="369.0" r="0.45" fill="#666" opacity="0.55"/>
<circle cx="554.9" cy="362.3" r="0.45" fill="#666" opacity="0.55"/>
<circle cx="542.9" cy="366.6" r="0.45" fill="#666" opacity="0.55"/>
<circle cx="566.4" cy="372.2" r="0.45" fill="#666" opacity="0.55"/>
<circle cx="560.9" cy="366.6" r="0.45" fill="#666" opacity="0.55"/>
<circle cx="570.4" cy="368.1" r="0.45" fill="#666" opacity="0.55"/>
<circle cx="568.6" cy="372.7" r="0.45" fill="#666" opacity="0.55"/>
<circle cx="563.9" cy="378.5" r="0.45" fill="#666" opacity="0.55"/>
<circle cx="556.8" cy="365.1" r="0.45" fill="#666" opacity="0.55"/>
<circle cx="554.7" cy="361.6" r="0.45" fill="#666" opacity="0.55"/>
<circle cx="576.0" cy="382.1" r="0.45" fill="#666" opacity="0.55"/>
<circle cx="562.2" cy="372.5" r="0.45" fill="#666" opacity="0.55"/>
<circle cx="572.6" cy="374.5" r="0.45" fill="#666" opacity="0.55"/>
<circle cx="572.8" cy="357.9" r="0.45" fill="#666" opacity="0.55"/>
<circle cx="556.2" cy="371.6" r="0.45" fill="#666" opacity="0.55"/>
<circle cx="574.9" cy="368.8" r="0.45" fill="#666" opacity="0.55"/>
<circle cx="554.3" cy="365.2" r="0.45" fill="#666" opacity="0.55"/>
<circle cx="556.1" cy="361.1" r="0.45" fill="#666" opacity="0.55"/>
<circle cx="575.5" cy="363.0" r="0.45" fill="#666" opacity="0.55"/>
<circle cx="562.2" cy="385.3" r="0.45" fill="#666" opacity="0.55"/>
<circle cx="572.7" cy="370.7" r="0.45" fill="#666" opacity="0.55"/>
<circle cx="556.5" cy="371.3" r="0.45" fill="#666" opacity="0.55"/>
<circle cx="576.6" cy="373.0" r="0.45" fill="#666" opacity="0.55"/>
<circle cx="573.4" cy="368.8" r="0.45" fill="#666" opacity="0.55"/>
<circle cx="566.6" cy="366.4" r="0.45" fill="#666" opacity="0.55"/>
<circle cx="565.8" cy="378.4" r="0.45" fill="#666" opacity="0.55"/>
<circle cx="549.1" cy="367.5" r="0.45" fill="#666" opacity="0.55"/>
<circle cx="564.2" cy="363.4" r="0.45" fill="#666" opacity="0.55"/>
<circle cx="559.2" cy="374.3" r="0.45" fill="#666" opacity="0.55"/>
<circle cx="580.0" cy="373.0" r="0.45" fill="#666" opacity="0.55"/>
<circle cx="564.9" cy="355.6" r="0.45" fill="#666" opacity="0.55"/>
<circle cx="579.3" cy="368.6" r="0.45" fill="#666" opacity="0.55"/>
<circle cx="561.7" cy="359.1" r="0.45" fill="#666" opacity="0.55"/>
<circle cx="561.5" cy="359.2" r="0.45" fill="#666" opacity="0.55"/>
<circle cx="562.6" cy="371.7" r="0.45" fill="#666" opacity="0.55"/>
<circle cx="562.3" cy="370.2" r="0.45" fill="#666" opacity="0.55"/>
<circle cx="554.3" cy="379.4" r="0.45" fill="#666" opacity="0.55"/>
<circle cx="550.9" cy="378.2" r="0.45" fill="#666" opacity="0.5"/>
<circle cx="557.4" cy="390.8" r="0.45" fill="#666" opacity="0.5"/>
<circle cx="545.9" cy="395.7" r="0.45" fill="#666" opacity="0.5"/>
<circle cx="564.1" cy="385.8" r="0.45" fill="#666" opacity="0.5"/>
<circle cx="558.1" cy="417.1" r="0.45" fill="#666" opacity="0.5"/>
<circle cx="569.6" cy="398.2" r="0.45" fill="#666" opacity="0.5"/>
<circle cx="561.8" cy="398.6" r="0.45" fill="#666" opacity="0.5"/>
<circle cx="559.3" cy="408.8" r="0.45" fill="#666" opacity="0.5"/>
<circle cx="558.7" cy="371.1" r="0.45" fill="#666" opacity="0.5"/>
<circle cx="559.7" cy="389.3" r="0.45" fill="#666" opacity="0.5"/>
<circle cx="569.1" cy="392.7" r="0.45" fill="#666" opacity="0.5"/>
<circle cx="562.1" cy="426.1" r="0.45" fill="#666" opacity="0.5"/>
<circle cx="545.3" cy="386.5" r="0.45" fill="#666" opacity="0.5"/>
<circle cx="540.2" cy="371.3" r="0.45" fill="#666" opacity="0.5"/>
<circle cx="533.7" cy="404.4" r="0.45" fill="#666" opacity="0.5"/>
<circle cx="551.1" cy="377.6" r="0.45" fill="#666" opacity="0.5"/>
<circle cx="539.2" cy="407.4" r="0.45" fill="#666" opacity="0.5"/>
<circle cx="549.1" cy="395.6" r="0.45" fill="#666" opacity="0.5"/>
<circle cx="564.6" cy="416.3" r="0.45" fill="#666" opacity="0.5"/>
<circle cx="587.2" cy="412.4" r="0.45" fill="#666" opacity="0.5"/>
<circle cx="562.0" cy="402.2" r="0.45" fill="#666" opacity="0.5"/>
<circle cx="585.2" cy="417.1" r="0.45" fill="#666" opacity="0.5"/>
<circle cx="555.7" cy="405.5" r="0.45" fill="#666" opacity="0.5"/>
<circle cx="564.0" cy="400.6" r="0.45" fill="#666" opacity="0.5"/>
<circle cx="553.0" cy="384.1" r="0.45" fill="#666" opacity="0.5"/>
<circle cx="552.5" cy="381.5" r="0.45" fill="#666" opacity="0.5"/>
<circle cx="577.1" cy="406.4" r="0.45" fill="#666" opacity="0.5"/>
<circle cx="543.1" cy="416.7" r="0.45" fill="#666" opacity="0.5"/>
<circle cx="572.5" cy="377.1" r="0.45" fill="#666" opacity="0.5"/>
<circle cx="585.8" cy="409.7" r="0.45" fill="#666" opacity="0.5"/>
<circle cx="588.9" cy="385.2" r="0.45" fill="#666" opacity="0.5"/>
<circle cx="567.4" cy="405.1" r="0.45" fill="#666" opacity="0.5"/>
<circle cx="562.8" cy="402.1" r="0.45" fill="#666" opacity="0.5"/>
<circle cx="574.7" cy="382.1" r="0.45" fill="#666" opacity="0.5"/>
<circle cx="542.6" cy="383.3" r="0.45" fill="#666" opacity="0.5"/>
<circle cx="552.2" cy="392.7" r="0.45" fill="#666" opacity="0.5"/>
<circle cx="565.1" cy="403.2" r="0.45" fill="#666" opacity="0.5"/>
<circle cx="560.4" cy="391.9" r="0.45" fill="#666" opacity="0.5"/>
<circle cx="553.8" cy="411.4" r="0.45" fill="#666" opacity="0.5"/>
<circle cx="570.7" cy="401.2" r="0.45" fill="#666" opacity="0.5"/>
<circle cx="555.5" cy="418.6" r="0.45" fill="#666" opacity="0.5"/>
<circle cx="551.7" cy="407.8" r="0.45" fill="#666" opacity="0.5"/>
<circle cx="576.2" cy="396.8" r="0.45" fill="#666" opacity="0.5"/>
<circle cx="571.6" cy="386.6" r="0.45" fill="#666" opacity="0.5"/>
<circle cx="574.2" cy="402.4" r="0.45" fill="#666" opacity="0.5"/>
<circle cx="537.8" cy="408.0" r="0.45" fill="#666" opacity="0.5"/>
<circle cx="547.5" cy="415.4" r="0.45" fill="#666" opacity="0.5"/>
<circle cx="550.5" cy="398.0" r="0.45" fill="#666" opacity="0.5"/>
<circle cx="564.0" cy="396.0" r="0.45" fill="#666" opacity="0.5"/>
<circle cx="563.6" cy="393.4" r="0.45" fill="#666" opacity="0.5"/>
<circle cx="551.7" cy="410.0" r="0.45" fill="#666" opacity="0.5"/>
<circle cx="547.1" cy="388.0" r="0.45" fill="#666" opacity="0.5"/>
<circle cx="556.6" cy="410.3" r="0.45" fill="#666" opacity="0.5"/>
<circle cx="527.2" cy="410.8" r="0.45" fill="#666" opacity="0.5"/>
<circle cx="549.7" cy="418.6" r="0.45" fill="#666" opacity="0.5"/>
<circle cx="534.2" cy="422.4" r="0.45" fill="#666" opacity="0.5"/>
<circle cx="543.4" cy="429.2" r="0.45" fill="#666" opacity="0.5"/>
<circle cx="543.5" cy="415.4" r="0.45" fill="#666" opacity="0.5"/>
<circle cx="541.3" cy="401.1" r="0.45" fill="#666" opacity="0.5"/>
<circle cx="556.0" cy="417.3" r="0.45" fill="#666" opacity="0.5"/>
<circle cx="560.4" cy="416.9" r="0.45" fill="#666" opacity="0.5"/>
<circle cx="539.3" cy="396.7" r="0.45" fill="#666" opacity="0.5"/>
<circle cx="538.5" cy="404.6" r="0.45" fill="#666" opacity="0.5"/>
<circle cx="536.8" cy="414.7" r="0.45" fill="#666" opacity="0.5"/>
<circle cx="548.3" cy="407.8" r="0.45" fill="#666" opacity="0.5"/>
<circle cx="546.7" cy="408.8" r="0.45" fill="#666" opacity="0.5"/>
<circle cx="547.1" cy="416.0" r="0.45" fill="#666" opacity="0.5"/>
<circle cx="554.6" cy="404.5" r="0.45" fill="#666" opacity="0.5"/>
<circle cx="529.9" cy="421.4" r="0.45" fill="#666" opacity="0.5"/>
<circle cx="546.1" cy="418.8" r="0.45" fill="#666" opacity="0.5"/>
<ellipse cx="559.7" cy="365.3" rx="22.3" ry="11.5" transform="rotate(-47 559.7 365.3)" fill="none" stroke="#505050" stroke-width="1"/>
<text x="598.5" y="398.4" font-size="13.5" text-anchor="end" fill="#111" >4.08</text>
<path d="M529.3,389 C529.9,399.8 534.0999999999999,404.8 533.9,411.8 C533.6999999999999,418.8 524.9,418.8 524.6999999999999,411.8 C524.5,404.8 528.6999999999999,399.8 529.3,389 Z" fill="#d4d4d4" stroke="#777" stroke-width="0.8"/>
<ellipse cx="529.3" cy="411.8" rx="3.4" ry="4.2" fill="#8c8c8c" stroke="#666" stroke-width="0.6"/>
<ellipse cx="529.3" cy="411.8" rx="2.1" ry="2.7" fill="#3a3a3a"/>
<line x1="529.3" y1="381" x2="529.3" y2="393" stroke="#8a8a8a" stroke-width="1.5" />
<line x1="527.6999999999999" y1="384.0" x2="530.9" y2="384.0" stroke="#999" stroke-width="0.7" />
<line x1="527.6999999999999" y1="387.5" x2="530.9" y2="387.5" stroke="#999" stroke-width="0.7" />
<line x1="527.6999999999999" y1="391.0" x2="530.9" y2="391.0" stroke="#999" stroke-width="0.7" />
<rect x="412.5" y="442.8" width="90.19999999999999" height="92.19999999999999" fill="#fff" stroke="#8a8a8a" stroke-width="1" />
<line x1="410.7" y1="513.0" x2="412.5" y2="513.0" stroke="#444" stroke-width="0.9" />
<line x1="410.7" y1="510.8" x2="412.5" y2="510.8" stroke="#444" stroke-width="0.9" />
<line x1="410.7" y1="508.6" x2="412.5" y2="508.6" stroke="#444" stroke-width="0.9" />
<line x1="410.7" y1="506.4" x2="412.5" y2="506.4" stroke="#444" stroke-width="0.9" />
<line x1="421.5" y1="536.2" x2="425.5" y2="536.2" stroke="#444" stroke-width="1.6" />
<line x1="411.0" y1="462.8434782608696" x2="412.5" y2="462.8434782608696" stroke="#777" stroke-width="0.8" />
<line x1="432.10869565217394" y1="535" x2="432.10869565217394" y2="536.5" stroke="#777" stroke-width="0.8" />
<line x1="411.0" y1="482.88695652173914" x2="412.5" y2="482.88695652173914" stroke="#777" stroke-width="0.8" />
<line x1="451.7173913043478" y1="535" x2="451.7173913043478" y2="536.5" stroke="#777" stroke-width="0.8" />
<line x1="411.0" y1="502.9304347826087" x2="412.5" y2="502.9304347826087" stroke="#777" stroke-width="0.8" />
<line x1="471.32608695652175" y1="535" x2="471.32608695652175" y2="536.5" stroke="#777" stroke-width="0.8" />
<line x1="411.0" y1="522.9739130434782" x2="412.5" y2="522.9739130434782" stroke="#777" stroke-width="0.8" />
<line x1="490.9347826086956" y1="535" x2="490.9347826086956" y2="536.5" stroke="#777" stroke-width="0.8" />
<circle cx="415.4" cy="495.4" r="0.45" fill="#666" opacity="0.5"/>
<circle cx="445.5" cy="479.8" r="0.45" fill="#666" opacity="0.5"/>
<circle cx="435.7" cy="510.1" r="0.45" fill="#666" opacity="0.5"/>
<circle cx="464.4" cy="522.3" r="0.45" fill="#666" opacity="0.5"/>
<circle cx="429.5" cy="480.4" r="0.45" fill="#666" opacity="0.5"/>
<circle cx="454.4" cy="513.2" r="0.45" fill="#666" opacity="0.5"/>
<circle cx="448.5" cy="481.8" r="0.45" fill="#666" opacity="0.5"/>
<circle cx="459.1" cy="511.1" r="0.45" fill="#666" opacity="0.5"/>
<circle cx="455.0" cy="493.2" r="0.45" fill="#666" opacity="0.5"/>
<circle cx="450.5" cy="511.1" r="0.45" fill="#666" opacity="0.5"/>
<circle cx="434.9" cy="474.2" r="0.45" fill="#666" opacity="0.5"/>
<circle cx="450.9" cy="506.7" r="0.45" fill="#666" opacity="0.5"/>
<circle cx="445.2" cy="512.4" r="0.45" fill="#666" opacity="0.5"/>
<circle cx="434.4" cy="498.8" r="0.45" fill="#666" opacity="0.5"/>
<circle cx="439.5" cy="508.0" r="0.45" fill="#666" opacity="0.5"/>
<circle cx="473.7" cy="496.5" r="0.45" fill="#666" opacity="0.5"/>
<circle cx="482.0" cy="521.4" r="0.45" fill="#666" opacity="0.5"/>
<circle cx="459.2" cy="508.2" r="0.45" fill="#666" opacity="0.5"/>
<circle cx="476.9" cy="497.5" r="0.45" fill="#666" opacity="0.5"/>
<circle cx="443.0" cy="485.1" r="0.45" fill="#666" opacity="0.5"/>
<circle cx="453.5" cy="518.8" r="0.45" fill="#666" opacity="0.5"/>
<circle cx="454.6" cy="505.9" r="0.45" fill="#666" opacity="0.5"/>
<circle cx="441.4" cy="502.4" r="0.45" fill="#666" opacity="0.5"/>
<circle cx="419.3" cy="514.7" r="0.45" fill="#666" opacity="0.5"/>
<circle cx="437.6" cy="484.5" r="0.45" fill="#666" opacity="0.5"/>
<circle cx="431.5" cy="488.5" r="0.45" fill="#666" opacity="0.5"/>
<circle cx="460.4" cy="514.8" r="0.45" fill="#666" opacity="0.5"/>
<circle cx="420.6" cy="513.0" r="0.45" fill="#666" opacity="0.5"/>
<circle cx="461.0" cy="491.9" r="0.45" fill="#666" opacity="0.5"/>
<circle cx="418.2" cy="489.6" r="0.45" fill="#666" opacity="0.5"/>
<circle cx="433.6" cy="504.8" r="0.45" fill="#666" opacity="0.5"/>
<circle cx="438.6" cy="471.6" r="0.45" fill="#666" opacity="0.5"/>
<circle cx="449.2" cy="478.5" r="0.45" fill="#666" opacity="0.5"/>
<circle cx="461.3" cy="483.1" r="0.45" fill="#666" opacity="0.5"/>
<circle cx="432.5" cy="488.0" r="0.45" fill="#666" opacity="0.5"/>
<circle cx="435.2" cy="518.2" r="0.45" fill="#666" opacity="0.5"/>
<circle cx="460.3" cy="508.4" r="0.45" fill="#666" opacity="0.5"/>
<circle cx="450.7" cy="478.3" r="0.45" fill="#666" opacity="0.5"/>
<circle cx="435.6" cy="492.3" r="0.45" fill="#666" opacity="0.5"/>
<circle cx="427.4" cy="507.1" r="0.45" fill="#666" opacity="0.5"/>
<circle cx="431.7" cy="490.1" r="0.45" fill="#666" opacity="0.5"/>
<circle cx="426.2" cy="471.2" r="0.45" fill="#666" opacity="0.5"/>
<circle cx="455.7" cy="518.6" r="0.45" fill="#666" opacity="0.5"/>
<circle cx="448.1" cy="486.3" r="0.45" fill="#666" opacity="0.5"/>
<circle cx="466.9" cy="504.2" r="0.45" fill="#666" opacity="0.5"/>
<circle cx="461.7" cy="520.7" r="0.45" fill="#666" opacity="0.5"/>
<circle cx="465.3" cy="493.8" r="0.45" fill="#666" opacity="0.5"/>
<circle cx="463.9" cy="510.9" r="0.45" fill="#666" opacity="0.5"/>
<circle cx="417.3" cy="494.3" r="0.45" fill="#666" opacity="0.5"/>
<circle cx="419.4" cy="498.5" r="0.45" fill="#666" opacity="0.5"/>
<circle cx="455.4" cy="485.0" r="0.45" fill="#666" opacity="0.5"/>
<circle cx="451.8" cy="520.6" r="0.45" fill="#666" opacity="0.5"/>
<circle cx="421.2" cy="514.8" r="0.45" fill="#666" opacity="0.5"/>
<circle cx="482.3" cy="528.1" r="0.45" fill="#666" opacity="0.5"/>
<circle cx="441.2" cy="503.8" r="0.45" fill="#666" opacity="0.5"/>
<circle cx="442.2" cy="514.0" r="0.45" fill="#666" opacity="0.5"/>
<circle cx="463.7" cy="501.2" r="0.45" fill="#666" opacity="0.5"/>
<circle cx="420.5" cy="510.4" r="0.45" fill="#666" opacity="0.5"/>
<circle cx="436.5" cy="508.8" r="0.45" fill="#666" opacity="0.5"/>
<circle cx="449.7" cy="522.7" r="0.45" fill="#666" opacity="0.5"/>
<circle cx="465.5" cy="493.7" r="0.45" fill="#666" opacity="0.5"/>
<circle cx="451.3" cy="524.7" r="0.45" fill="#666" opacity="0.5"/>
<circle cx="435.3" cy="506.1" r="0.45" fill="#666" opacity="0.5"/>
<circle cx="466.4" cy="517.6" r="0.45" fill="#666" opacity="0.5"/>
<circle cx="454.3" cy="481.5" r="0.45" fill="#666" opacity="0.5"/>
<circle cx="422.3" cy="503.5" r="0.45" fill="#666" opacity="0.5"/>
<circle cx="429.5" cy="515.9" r="0.45" fill="#666" opacity="0.5"/>
<circle cx="458.9" cy="476.6" r="0.45" fill="#666" opacity="0.5"/>
<circle cx="430.3" cy="502.3" r="0.45" fill="#666" opacity="0.5"/>
<circle cx="436.1" cy="497.8" r="0.45" fill="#666" opacity="0.5"/>
<circle cx="453.5" cy="488.7" r="0.45" fill="#666" opacity="0.5"/>
<circle cx="453.4" cy="491.1" r="0.45" fill="#666" opacity="0.5"/>
<circle cx="435.2" cy="507.5" r="0.45" fill="#666" opacity="0.5"/>
<circle cx="434.7" cy="504.0" r="0.45" fill="#666" opacity="0.5"/>
<circle cx="473.8" cy="500.4" r="0.45" fill="#666" opacity="0.5"/>
<circle cx="442.4" cy="510.3" r="0.45" fill="#666" opacity="0.5"/>
<circle cx="438.4" cy="515.2" r="0.45" fill="#666" opacity="0.5"/>
<circle cx="421.9" cy="508.7" r="0.45" fill="#666" opacity="0.5"/>
<circle cx="435.8" cy="488.8" r="0.45" fill="#666" opacity="0.5"/>
<circle cx="476.9" cy="488.1" r="0.45" fill="#666" opacity="0.5"/>
<circle cx="476.6" cy="509.2" r="0.45" fill="#666" opacity="0.5"/>
<circle cx="471.2" cy="486.3" r="0.45" fill="#666" opacity="0.5"/>
<circle cx="466.6" cy="520.4" r="0.45" fill="#666" opacity="0.5"/>
<circle cx="442.9" cy="498.2" r="0.45" fill="#666" opacity="0.5"/>
<circle cx="489.2" cy="502.5" r="0.45" fill="#666" opacity="0.5"/>
<circle cx="437.4" cy="491.2" r="0.45" fill="#666" opacity="0.5"/>
<circle cx="453.0" cy="504.6" r="0.45" fill="#666" opacity="0.5"/>
<circle cx="448.2" cy="524.1" r="0.45" fill="#666" opacity="0.5"/>
<circle cx="439.1" cy="506.6" r="0.45" fill="#666" opacity="0.5"/>
<circle cx="471.3" cy="485.9" r="0.45" fill="#666" opacity="0.5"/>
<circle cx="463.7" cy="525.6" r="0.45" fill="#666" opacity="0.5"/>
<circle cx="420.6" cy="484.6" r="0.45" fill="#666" opacity="0.5"/>
<circle cx="426.3" cy="474.2" r="0.45" fill="#666" opacity="0.5"/>
<circle cx="453.1" cy="474.0" r="0.45" fill="#666" opacity="0.5"/>
<circle cx="454.0" cy="520.3" r="0.45" fill="#666" opacity="0.5"/>
<circle cx="415.9" cy="495.6" r="0.45" fill="#666" opacity="0.5"/>
<circle cx="431.7" cy="496.3" r="0.45" fill="#666" opacity="0.5"/>
<circle cx="446.0" cy="507.6" r="0.45" fill="#666" opacity="0.5"/>
<circle cx="438.8" cy="500.2" r="0.45" fill="#666" opacity="0.5"/>
<circle cx="435.2" cy="501.6" r="0.45" fill="#666" opacity="0.5"/>
<circle cx="423.9" cy="500.9" r="0.45" fill="#666" opacity="0.5"/>
<circle cx="479.5" cy="501.1" r="0.45" fill="#666" opacity="0.5"/>
<circle cx="422.3" cy="503.6" r="0.45" fill="#666" opacity="0.5"/>
<circle cx="427.5" cy="476.9" r="0.45" fill="#666" opacity="0.5"/>
<circle cx="431.7" cy="510.3" r="0.45" fill="#666" opacity="0.5"/>
<circle cx="451.9" cy="498.6" r="0.45" fill="#666" opacity="0.5"/>
<circle cx="428.3" cy="484.9" r="0.45" fill="#666" opacity="0.5"/>
<circle cx="469.3" cy="503.4" r="0.45" fill="#666" opacity="0.5"/>
<circle cx="427.9" cy="470.4" r="0.45" fill="#666" opacity="0.5"/>
<circle cx="424.3" cy="498.9" r="0.45" fill="#666" opacity="0.5"/>
<circle cx="448.8" cy="497.8" r="0.45" fill="#666" opacity="0.5"/>
<circle cx="440.0" cy="480.8" r="0.45" fill="#666" opacity="0.5"/>
<circle cx="426.1" cy="523.6" r="0.45" fill="#666" opacity="0.5"/>
<circle cx="431.4" cy="511.8" r="0.45" fill="#666" opacity="0.5"/>
<circle cx="414.5" cy="496.2" r="0.45" fill="#666" opacity="0.5"/>
<circle cx="449.7" cy="514.5" r="0.45" fill="#666" opacity="0.5"/>
<circle cx="424.8" cy="508.3" r="0.45" fill="#666" opacity="0.5"/>
<circle cx="451.9" cy="489.7" r="0.45" fill="#666" opacity="0.5"/>
<circle cx="453.6" cy="487.4" r="0.45" fill="#666" opacity="0.5"/>
<circle cx="430.7" cy="499.7" r="0.45" fill="#666" opacity="0.5"/>
<circle cx="427.0" cy="479.5" r="0.45" fill="#666" opacity="0.5"/>
<circle cx="437.3" cy="510.7" r="0.45" fill="#666" opacity="0.5"/>
<circle cx="437.7" cy="517.7" r="0.45" fill="#666" opacity="0.5"/>
<circle cx="424.1" cy="481.6" r="0.45" fill="#666" opacity="0.5"/>
<circle cx="472.9" cy="505.6" r="0.45" fill="#666" opacity="0.5"/>
<circle cx="462.0" cy="488.4" r="0.45" fill="#666" opacity="0.5"/>
<circle cx="459.5" cy="503.6" r="0.45" fill="#666" opacity="0.5"/>
<circle cx="456.7" cy="500.4" r="0.45" fill="#666" opacity="0.5"/>
<circle cx="466.7" cy="490.9" r="0.45" fill="#666" opacity="0.5"/>
<circle cx="427.7" cy="479.3" r="0.45" fill="#666" opacity="0.5"/>
<circle cx="465.9" cy="489.7" r="0.45" fill="#666" opacity="0.5"/>
<circle cx="426.2" cy="486.8" r="0.45" fill="#666" opacity="0.5"/>
<circle cx="437.0" cy="482.2" r="0.45" fill="#666" opacity="0.5"/>
<circle cx="439.8" cy="491.2" r="0.45" fill="#666" opacity="0.5"/>
<circle cx="435.1" cy="486.6" r="0.45" fill="#666" opacity="0.5"/>
<circle cx="445.7" cy="493.5" r="0.45" fill="#666" opacity="0.5"/>
<circle cx="447.1" cy="503.5" r="0.45" fill="#666" opacity="0.5"/>
<circle cx="451.1" cy="469.3" r="0.45" fill="#666" opacity="0.5"/>
<circle cx="435.4" cy="488.9" r="0.45" fill="#666" opacity="0.5"/>
<circle cx="458.9" cy="477.9" r="0.45" fill="#666" opacity="0.5"/>
<circle cx="432.1" cy="495.9" r="0.45" fill="#666" opacity="0.5"/>
<circle cx="438.9" cy="513.9" r="0.45" fill="#666" opacity="0.5"/>
<circle cx="437.0" cy="513.5" r="0.45" fill="#666" opacity="0.5"/>
<circle cx="418.6" cy="474.6" r="0.45" fill="#666" opacity="0.5"/>
<circle cx="466.9" cy="506.1" r="0.45" fill="#666" opacity="0.5"/>
<circle cx="453.8" cy="501.7" r="0.45" fill="#666" opacity="0.5"/>
<circle cx="453.7" cy="483.0" r="0.45" fill="#666" opacity="0.5"/>
<circle cx="462.1" cy="492.5" r="0.45" fill="#666" opacity="0.5"/>
<circle cx="462.7" cy="501.2" r="0.45" fill="#666" opacity="0.5"/>
<circle cx="465.3" cy="498.1" r="0.45" fill="#666" opacity="0.5"/>
<circle cx="437.9" cy="503.4" r="0.45" fill="#666" opacity="0.5"/>
<circle cx="437.3" cy="492.4" r="0.45" fill="#666" opacity="0.5"/>
<circle cx="446.8" cy="502.0" r="0.45" fill="#666" opacity="0.5"/>
<circle cx="472.3" cy="500.6" r="0.45" fill="#666" opacity="0.5"/>
<circle cx="478.8" cy="525.2" r="0.45" fill="#666" opacity="0.5"/>
<circle cx="475.9" cy="514.9" r="0.45" fill="#666" opacity="0.5"/>
<circle cx="447.3" cy="501.9" r="0.45" fill="#666" opacity="0.5"/>
<circle cx="442.4" cy="489.8" r="0.45" fill="#666" opacity="0.5"/>
<circle cx="443.8" cy="491.0" r="0.45" fill="#666" opacity="0.5"/>
<circle cx="474.5" cy="507.5" r="0.45" fill="#666" opacity="0.5"/>
<circle cx="437.0" cy="473.2" r="0.45" fill="#666" opacity="0.5"/>
<circle cx="444.0" cy="494.2" r="0.45" fill="#666" opacity="0.5"/>
<circle cx="457.0" cy="458.6" r="0.45" fill="#666" opacity="0.5"/>
<circle cx="443.0" cy="475.7" r="0.45" fill="#666" opacity="0.5"/>
<circle cx="469.2" cy="495.8" r="0.45" fill="#666" opacity="0.5"/>
<circle cx="469.6" cy="468.5" r="0.45" fill="#666" opacity="0.5"/>
<circle cx="487.3" cy="471.3" r="0.45" fill="#666" opacity="0.5"/>
<circle cx="472.0" cy="466.3" r="0.45" fill="#666" opacity="0.5"/>
<circle cx="462.7" cy="485.0" r="0.45" fill="#666" opacity="0.5"/>
<circle cx="482.0" cy="487.2" r="0.45" fill="#666" opacity="0.5"/>
<circle cx="465.8" cy="470.3" r="0.45" fill="#666" opacity="0.5"/>
<circle cx="459.4" cy="479.7" r="0.45" fill="#666" opacity="0.5"/>
<circle cx="453.3" cy="475.6" r="0.45" fill="#666" opacity="0.5"/>
<circle cx="483.2" cy="484.1" r="0.45" fill="#666" opacity="0.5"/>
<circle cx="458.7" cy="480.9" r="0.45" fill="#666" opacity="0.5"/>
<circle cx="461.4" cy="462.4" r="0.45" fill="#666" opacity="0.5"/>
<circle cx="454.1" cy="481.6" r="0.45" fill="#666" opacity="0.5"/>
<circle cx="489.8" cy="464.1" r="0.45" fill="#666" opacity="0.5"/>
<circle cx="460.9" cy="466.6" r="0.45" fill="#666" opacity="0.5"/>
<circle cx="500.1" cy="480.0" r="0.45" fill="#666" opacity="0.5"/>
<circle cx="463.5" cy="452.1" r="0.45" fill="#666" opacity="0.5"/>
<circle cx="461.9" cy="481.9" r="0.45" fill="#666" opacity="0.5"/>
<circle cx="492.4" cy="467.3" r="0.45" fill="#666" opacity="0.5"/>
<circle cx="461.7" cy="464.9" r="0.45" fill="#666" opacity="0.5"/>
<circle cx="447.4" cy="479.1" r="0.45" fill="#666" opacity="0.5"/>
<circle cx="457.0" cy="480.6" r="0.45" fill="#666" opacity="0.5"/>
<circle cx="449.5" cy="457.3" r="0.45" fill="#666" opacity="0.5"/>
<circle cx="473.5" cy="462.4" r="0.45" fill="#666" opacity="0.5"/>
<circle cx="479.4" cy="470.1" r="0.45" fill="#666" opacity="0.5"/>
<circle cx="455.9" cy="476.2" r="0.45" fill="#666" opacity="0.5"/>
<circle cx="480.1" cy="450.9" r="0.45" fill="#666" opacity="0.5"/>
<circle cx="491.9" cy="475.0" r="0.45" fill="#666" opacity="0.5"/>
<circle cx="479.1" cy="451.4" r="0.45" fill="#666" opacity="0.5"/>
<circle cx="461.4" cy="466.5" r="0.45" fill="#666" opacity="0.5"/>
<circle cx="482.9" cy="455.4" r="0.45" fill="#666" opacity="0.5"/>
<circle cx="459.4" cy="449.7" r="0.45" fill="#666" opacity="0.5"/>
<circle cx="467.1" cy="473.5" r="0.45" fill="#666" opacity="0.5"/>
<circle cx="449.8" cy="464.1" r="0.45" fill="#666" opacity="0.5"/>
<circle cx="476.1" cy="485.9" r="0.45" fill="#666" opacity="0.5"/>
<circle cx="478.0" cy="467.0" r="0.45" fill="#666" opacity="0.5"/>
<circle cx="455.9" cy="460.6" r="0.45" fill="#666" opacity="0.5"/>
<circle cx="462.0" cy="471.5" r="0.45" fill="#666" opacity="0.5"/>
<circle cx="459.3" cy="530.0" r="0.45" fill="#666" opacity="0.5"/>
<circle cx="464.0" cy="513.6" r="0.45" fill="#666" opacity="0.5"/>
<circle cx="481.6" cy="525.7" r="0.45" fill="#666" opacity="0.5"/>
<circle cx="461.4" cy="515.7" r="0.45" fill="#666" opacity="0.5"/>
<circle cx="433.8" cy="513.9" r="0.45" fill="#666" opacity="0.5"/>
<circle cx="472.8" cy="515.2" r="0.45" fill="#666" opacity="0.5"/>
<circle cx="441.5" cy="521.2" r="0.45" fill="#666" opacity="0.5"/>
<circle cx="463.4" cy="523.6" r="0.45" fill="#666" opacity="0.5"/>
<circle cx="469.2" cy="528.5" r="0.45" fill="#666" opacity="0.5"/>
<circle cx="448.2" cy="525.9" r="0.45" fill="#666" opacity="0.5"/>
<circle cx="446.2" cy="524.2" r="0.45" fill="#666" opacity="0.5"/>
<circle cx="462.5" cy="521.5" r="0.45" fill="#666" opacity="0.5"/>
<circle cx="473.5" cy="519.9" r="0.45" fill="#666" opacity="0.5"/>
<circle cx="475.6" cy="525.3" r="0.45" fill="#666" opacity="0.5"/>
<circle cx="461.9" cy="516.6" r="0.45" fill="#666" opacity="0.5"/>
<circle cx="449.5" cy="516.8" r="0.45" fill="#666" opacity="0.5"/>
<circle cx="457.2" cy="519.9" r="0.45" fill="#666" opacity="0.5"/>
<circle cx="470.8" cy="514.8" r="0.45" fill="#666" opacity="0.5"/>
<circle cx="450.1" cy="518.1" r="0.45" fill="#666" opacity="0.5"/>
<circle cx="462.7" cy="513.8" r="0.45" fill="#666" opacity="0.5"/>
<circle cx="482.6" cy="516.6" r="0.45" fill="#666" opacity="0.5"/>
<circle cx="475.1" cy="506.0" r="0.45" fill="#666" opacity="0.5"/>
<circle cx="459.9" cy="521.7" r="0.45" fill="#666" opacity="0.5"/>
<circle cx="462.7" cy="523.6" r="0.45" fill="#666" opacity="0.5"/>
<circle cx="463.9" cy="521.0" r="0.45" fill="#666" opacity="0.5"/>
<circle cx="433.5" cy="515.7" r="0.45" fill="#666" opacity="0.5"/>
<circle cx="427.2" cy="523.8" r="0.45" fill="#666" opacity="0.5"/>
<circle cx="464.3" cy="518.8" r="0.45" fill="#666" opacity="0.5"/>
<circle cx="448.5" cy="516.5" r="0.45" fill="#666" opacity="0.5"/>
<circle cx="448.6" cy="522.3" r="0.45" fill="#666" opacity="0.45"/>
<circle cx="431.5" cy="517.9" r="0.45" fill="#666" opacity="0.45"/>
<circle cx="417.7" cy="485.6" r="0.45" fill="#666" opacity="0.45"/>
<circle cx="427.7" cy="496.3" r="0.45" fill="#666" opacity="0.45"/>
<circle cx="427.0" cy="506.9" r="0.45" fill="#666" opacity="0.45"/>
<circle cx="459.2" cy="498.4" r="0.45" fill="#666" opacity="0.45"/>
<circle cx="432.4" cy="507.8" r="0.45" fill="#666" opacity="0.45"/>
<circle cx="431.7" cy="514.3" r="0.45" fill="#666" opacity="0.45"/>
<circle cx="448.0" cy="492.6" r="0.45" fill="#666" opacity="0.45"/>
<circle cx="433.5" cy="502.4" r="0.45" fill="#666" opacity="0.45"/>
<circle cx="435.2" cy="489.7" r="0.45" fill="#666" opacity="0.45"/>
<circle cx="416.2" cy="481.8" r="0.45" fill="#666" opacity="0.45"/>
<circle cx="436.7" cy="506.9" r="0.45" fill="#666" opacity="0.45"/>
<circle cx="432.7" cy="481.3" r="0.45" fill="#666" opacity="0.45"/>
<circle cx="428.6" cy="497.4" r="0.45" fill="#666" opacity="0.45"/>
<circle cx="419.3" cy="495.8" r="0.45" fill="#666" opacity="0.45"/>
<circle cx="438.3" cy="510.4" r="0.45" fill="#666" opacity="0.45"/>
<circle cx="431.8" cy="510.1" r="0.45" fill="#666" opacity="0.45"/>
<circle cx="426.6" cy="505.7" r="0.45" fill="#666" opacity="0.45"/>
<circle cx="432.4" cy="510.5" r="0.45" fill="#666" opacity="0.45"/>
<circle cx="431.4" cy="503.6" r="0.45" fill="#666" opacity="0.45"/>
<circle cx="430.8" cy="498.6" r="0.45" fill="#666" opacity="0.45"/>
<circle cx="452.1" cy="510.1" r="0.45" fill="#666" opacity="0.45"/>
<circle cx="435.9" cy="527.9" r="0.45" fill="#666" opacity="0.45"/>
<circle cx="444.6" cy="489.4" r="0.45" fill="#666" opacity="0.45"/>
<circle cx="438.3" cy="513.4" r="0.45" fill="#666" opacity="0.45"/>
<circle cx="449.0" cy="518.2" r="0.45" fill="#666" opacity="0.45"/>
<circle cx="438.9" cy="493.2" r="0.45" fill="#666" opacity="0.45"/>
<circle cx="424.2" cy="507.7" r="0.45" fill="#666" opacity="0.45"/>
<circle cx="436.5" cy="494.8" r="0.45" fill="#666" opacity="0.45"/>
<circle cx="428.5" cy="501.0" r="0.45" fill="#666" opacity="0.45"/>
<circle cx="432.5" cy="508.4" r="0.45" fill="#666" opacity="0.45"/>
<circle cx="429.4" cy="492.6" r="0.45" fill="#666" opacity="0.45"/>
<circle cx="443.2" cy="521.0" r="0.45" fill="#666" opacity="0.45"/>
<circle cx="431.0" cy="515.2" r="0.45" fill="#666" opacity="0.45"/>
<circle cx="436.0" cy="511.6" r="0.45" fill="#666" opacity="0.45"/>
<circle cx="436.3" cy="497.4" r="0.45" fill="#666" opacity="0.45"/>
<circle cx="437.2" cy="515.1" r="0.45" fill="#666" opacity="0.45"/>
<circle cx="423.9" cy="524.7" r="0.45" fill="#666" opacity="0.45"/>
<circle cx="450.8" cy="523.2" r="0.45" fill="#666" opacity="0.45"/>
<circle cx="449.9" cy="512.4" r="0.45" fill="#666" opacity="0.45"/>
<circle cx="429.0" cy="499.0" r="0.45" fill="#666" opacity="0.45"/>
<circle cx="424.7" cy="506.2" r="0.45" fill="#666" opacity="0.45"/>
<circle cx="431.7" cy="511.7" r="0.45" fill="#666" opacity="0.45"/>
<circle cx="413.8" cy="528.1" r="0.45" fill="#666" opacity="0.45"/>
<circle cx="452.5" cy="504.7" r="0.45" fill="#666" opacity="0.45"/>
<circle cx="438.1" cy="509.8" r="0.45" fill="#666" opacity="0.45"/>
<circle cx="434.5" cy="502.9" r="0.45" fill="#666" opacity="0.45"/>
<circle cx="430.9" cy="496.8" r="0.45" fill="#666" opacity="0.45"/>
<circle cx="433.6" cy="504.8" r="0.45" fill="#666" opacity="0.45"/>
<circle cx="434.9" cy="496.4" r="0.45" fill="#666" opacity="0.45"/>
<circle cx="432.4" cy="505.5" r="0.45" fill="#666" opacity="0.45"/>
<circle cx="437.4" cy="494.4" r="0.45" fill="#666" opacity="0.45"/>
<circle cx="435.8" cy="514.8" r="0.45" fill="#666" opacity="0.45"/>
<circle cx="437.4" cy="501.3" r="0.45" fill="#666" opacity="0.45"/>
<circle cx="427.6" cy="502.6" r="0.45" fill="#666" opacity="0.45"/>
<circle cx="438.6" cy="520.5" r="0.45" fill="#666" opacity="0.45"/>
<circle cx="430.6" cy="498.6" r="0.45" fill="#666" opacity="0.45"/>
<circle cx="435.4" cy="507.0" r="0.45" fill="#666" opacity="0.45"/>
<circle cx="423.8" cy="497.6" r="0.45" fill="#666" opacity="0.45"/>
<circle cx="431.1" cy="511.7" r="0.45" fill="#666" opacity="0.45"/>
<circle cx="421.3" cy="494.8" r="0.45" fill="#666" opacity="0.45"/>
<circle cx="436.5" cy="492.8" r="0.45" fill="#666" opacity="0.45"/>
<circle cx="433.0" cy="508.5" r="0.45" fill="#666" opacity="0.45"/>
<circle cx="431.0" cy="494.8" r="0.45" fill="#666" opacity="0.45"/>
<circle cx="431.5" cy="501.7" r="0.45" fill="#666" opacity="0.45"/>
<circle cx="435.0" cy="496.6" r="0.45" fill="#666" opacity="0.45"/>
<circle cx="441.8" cy="488.2" r="0.45" fill="#666" opacity="0.45"/>
<circle cx="430.4" cy="505.1" r="0.45" fill="#666" opacity="0.45"/>
<circle cx="440.7" cy="498.9" r="0.45" fill="#666" opacity="0.45"/>
<circle cx="436.9" cy="499.3" r="0.45" fill="#666" opacity="0.45"/>
<circle cx="438.6" cy="522.4" r="0.45" fill="#666" opacity="0.45"/>
<circle cx="428.4" cy="509.4" r="0.45" fill="#666" opacity="0.45"/>
<circle cx="423.7" cy="514.7" r="0.45" fill="#666" opacity="0.45"/>
<circle cx="442.9" cy="505.4" r="0.45" fill="#666" opacity="0.45"/>
<circle cx="421.8" cy="509.0" r="0.45" fill="#666" opacity="0.45"/>
<circle cx="442.3" cy="515.9" r="0.45" fill="#666" opacity="0.45"/>
<circle cx="439.3" cy="486.7" r="0.45" fill="#666" opacity="0.45"/>
<circle cx="425.9" cy="519.2" r="0.45" fill="#666" opacity="0.45"/>
<circle cx="421.0" cy="516.3" r="0.45" fill="#666" opacity="0.45"/>
<circle cx="448.9" cy="512.6" r="0.45" fill="#666" opacity="0.45"/>
<circle cx="442.1" cy="501.7" r="0.45" fill="#666" opacity="0.45"/>
<circle cx="421.0" cy="504.0" r="0.45" fill="#666" opacity="0.45"/>
<circle cx="430.2" cy="504.5" r="0.45" fill="#666" opacity="0.45"/>
<circle cx="438.3" cy="503.6" r="0.45" fill="#666" opacity="0.45"/>
<circle cx="433.7" cy="509.2" r="0.45" fill="#666" opacity="0.45"/>
<circle cx="432.0" cy="523.4" r="0.45" fill="#666" opacity="0.45"/>
<circle cx="436.0" cy="505.8" r="0.45" fill="#666" opacity="0.45"/>
<circle cx="430.1" cy="498.7" r="0.45" fill="#666" opacity="0.45"/>
<circle cx="444.1" cy="506.5" r="0.45" fill="#666" opacity="0.45"/>
<circle cx="422.3" cy="499.4" r="0.45" fill="#666" opacity="0.45"/>
<circle cx="430.8" cy="500.5" r="0.45" fill="#666" opacity="0.45"/>
<circle cx="441.8" cy="493.4" r="0.45" fill="#666" opacity="0.45"/>
<circle cx="436.4" cy="506.4" r="0.45" fill="#666" opacity="0.45"/>
<circle cx="421.4" cy="505.5" r="0.45" fill="#666" opacity="0.45"/>
<circle cx="431.2" cy="510.0" r="0.45" fill="#666" opacity="0.45"/>
<circle cx="427.9" cy="508.0" r="0.45" fill="#666" opacity="0.45"/>
<circle cx="417.0" cy="494.2" r="0.45" fill="#666" opacity="0.45"/>
<circle cx="439.1" cy="515.4" r="0.45" fill="#666" opacity="0.45"/>
<circle cx="431.9" cy="499.0" r="0.45" fill="#666" opacity="0.45"/>
<circle cx="441.7" cy="484.1" r="0.45" fill="#666" opacity="0.45"/>
<circle cx="424.8" cy="511.7" r="0.45" fill="#666" opacity="0.45"/>
<circle cx="437.9" cy="494.7" r="0.45" fill="#666" opacity="0.45"/>
<circle cx="415.0" cy="519.5" r="0.45" fill="#666" opacity="0.45"/>
<circle cx="433.4" cy="496.0" r="0.45" fill="#666" opacity="0.45"/>
<circle cx="432.5" cy="514.0" r="0.45" fill="#666" opacity="0.45"/>
<circle cx="438.7" cy="484.2" r="0.45" fill="#666" opacity="0.45"/>
<circle cx="438.9" cy="487.2" r="0.45" fill="#666" opacity="0.45"/>
<circle cx="442.3" cy="509.0" r="0.45" fill="#666" opacity="0.45"/>
<circle cx="452.3" cy="498.9" r="0.45" fill="#666" opacity="0.45"/>
<circle cx="432.0" cy="515.5" r="0.45" fill="#666" opacity="0.45"/>
<circle cx="426.2" cy="498.0" r="0.45" fill="#666" opacity="0.45"/>
<circle cx="428.7" cy="504.3" r="0.45" fill="#666" opacity="0.45"/>
<circle cx="422.3" cy="509.8" r="0.45" fill="#666" opacity="0.45"/>
<circle cx="436.9" cy="505.7" r="0.45" fill="#666" opacity="0.45"/>
<circle cx="447.3" cy="501.7" r="0.45" fill="#666" opacity="0.45"/>
<circle cx="443.8" cy="499.5" r="0.45" fill="#666" opacity="0.45"/>
<circle cx="438.8" cy="485.7" r="0.45" fill="#666" opacity="0.45"/>
<circle cx="433.8" cy="503.2" r="0.45" fill="#666" opacity="0.45"/>
<ellipse cx="468.5" cy="471.6" rx="19.5" ry="10.0" transform="rotate(-48.6 468.5 471.6)" fill="#e6e6e6" stroke="#9a9a9a" stroke-width="0.55"/>
<ellipse cx="468.5" cy="471.6" rx="16.7" ry="8.6" transform="rotate(-48.6 468.5 471.6)" fill="none" stroke="#9a9a9a" stroke-width="0.55"/>
<ellipse cx="468.5" cy="471.6" rx="13.9" ry="7.1" transform="rotate(-48.6 468.5 471.6)" fill="none" stroke="#9a9a9a" stroke-width="0.55"/>
<ellipse cx="468.5" cy="471.6" rx="11.1" ry="5.7" transform="rotate(-48.6 468.5 471.6)" fill="none" stroke="#9a9a9a" stroke-width="0.55"/>
<ellipse cx="468.5" cy="471.6" rx="8.4" ry="4.3" transform="rotate(-48.6 468.5 471.6)" fill="none" stroke="#9a9a9a" stroke-width="0.55"/>
<ellipse cx="468.5" cy="471.6" rx="5.6" ry="2.9" transform="rotate(-48.6 468.5 471.6)" fill="none" stroke="#9a9a9a" stroke-width="0.55"/>
<ellipse cx="468.5" cy="471.6" rx="2.8" ry="1.4" transform="rotate(-48.6 468.5 471.6)" fill="none" stroke="#9a9a9a" stroke-width="0.55"/>
<ellipse cx="470" cy="470.6" rx="22.3" ry="11.5" transform="rotate(-48.6 470 470.6)" fill="none" stroke="#505050" stroke-width="1"/>
<text x="500.5" y="498.8" font-size="13.5" text-anchor="end" fill="#111" >27.1</text>
<path d="M422.4,513.4 C422.4,499.0 423.4,489.0 430,489.0 C436.6,489.0 437.6,499.0 438.1,515.4" fill="none" stroke="#8c8c8c" stroke-width="0.75"/>
<path d="M424.6,513.4 C424.6,502.2 425.6,492.2 430,492.2 C434.4,492.2 435.4,502.2 435.9,515.4" fill="none" stroke="#9a9a9a" stroke-width="0.7"/>
<path d="M426.6,513.4 C426.6,505.4 427.6,495.4 430,495.4 C432.4,495.4 433.4,505.4 433.9,515.4" fill="none" stroke="#a8a8a8" stroke-width="0.65"/>
<ellipse cx="425" cy="518.4" rx="11.0" ry="10.4" fill="#c9c9c9" stroke="#8a8a8a" stroke-width="0.6"/>
<ellipse cx="425" cy="518.4" rx="9.3" ry="8.9" fill="none" stroke="#8a8a8a" stroke-width="0.6"/>
<ellipse cx="425" cy="518.4" rx="7.7" ry="7.3" fill="none" stroke="#8a8a8a" stroke-width="0.6"/>
<ellipse cx="425" cy="518.4" rx="6.1" ry="5.7" fill="none" stroke="#8a8a8a" stroke-width="0.6"/>
<ellipse cx="425" cy="518.4" rx="4.4" ry="4.2" fill="none" stroke="#8a8a8a" stroke-width="0.6"/>
<ellipse cx="425" cy="518.4" rx="2.8" ry="2.6" fill="none" stroke="#8a8a8a" stroke-width="0.6"/>
<circle cx="425" cy="518.4" r="1.2" fill="#fff"/>
<rect x="508.3" y="442.8" width="90.69999999999999" height="92.19999999999999" fill="#fff" stroke="#8a8a8a" stroke-width="1" />
<line x1="506.5" y1="513.0" x2="508.3" y2="513.0" stroke="#444" stroke-width="0.9" />
<line x1="506.5" y1="510.8" x2="508.3" y2="510.8" stroke="#444" stroke-width="0.9" />
<line x1="506.5" y1="508.6" x2="508.3" y2="508.6" stroke="#444" stroke-width="0.9" />
<line x1="506.5" y1="506.4" x2="508.3" y2="506.4" stroke="#444" stroke-width="0.9" />
<line x1="517.3" y1="536.2" x2="521.3" y2="536.2" stroke="#444" stroke-width="1.6" />
<line x1="506.8" y1="462.8434782608696" x2="508.3" y2="462.8434782608696" stroke="#777" stroke-width="0.8" />
<line x1="528.0173913043478" y1="535" x2="528.0173913043478" y2="536.5" stroke="#777" stroke-width="0.8" />
<line x1="506.8" y1="482.88695652173914" x2="508.3" y2="482.88695652173914" stroke="#777" stroke-width="0.8" />
<line x1="547.7347826086957" y1="535" x2="547.7347826086957" y2="536.5" stroke="#777" stroke-width="0.8" />
<line x1="506.8" y1="502.9304347826087" x2="508.3" y2="502.9304347826087" stroke="#777" stroke-width="0.8" />
<line x1="567.4521739130435" y1="535" x2="567.4521739130435" y2="536.5" stroke="#777" stroke-width="0.8" />
<line x1="506.8" y1="522.9739130434782" x2="508.3" y2="522.9739130434782" stroke="#777" stroke-width="0.8" />
<line x1="587.1695652173913" y1="535" x2="587.1695652173913" y2="536.5" stroke="#777" stroke-width="0.8" />
<circle cx="536.1" cy="491.5" r="0.45" fill="#666" opacity="0.5"/>
<circle cx="538.7" cy="489.9" r="0.45" fill="#666" opacity="0.5"/>
<circle cx="535.1" cy="492.7" r="0.45" fill="#666" opacity="0.5"/>
<circle cx="526.0" cy="498.1" r="0.45" fill="#666" opacity="0.5"/>
<circle cx="559.1" cy="496.5" r="0.45" fill="#666" opacity="0.5"/>
<circle cx="536.1" cy="519.0" r="0.45" fill="#666" opacity="0.5"/>
<circle cx="562.6" cy="512.9" r="0.45" fill="#666" opacity="0.5"/>
<circle cx="565.8" cy="495.4" r="0.45" fill="#666" opacity="0.5"/>
<circle cx="542.7" cy="515.6" r="0.45" fill="#666" opacity="0.5"/>
<circle cx="535.0" cy="498.3" r="0.45" fill="#666" opacity="0.5"/>
<circle cx="551.8" cy="505.2" r="0.45" fill="#666" opacity="0.5"/>
<circle cx="540.0" cy="513.8" r="0.45" fill="#666" opacity="0.5"/>
<circle cx="541.8" cy="510.2" r="0.45" fill="#666" opacity="0.5"/>
<circle cx="564.3" cy="509.2" r="0.45" fill="#666" opacity="0.5"/>
<circle cx="558.2" cy="483.8" r="0.45" fill="#666" opacity="0.5"/>
<circle cx="521.4" cy="491.3" r="0.45" fill="#666" opacity="0.5"/>
<circle cx="553.6" cy="521.0" r="0.45" fill="#666" opacity="0.5"/>
<circle cx="523.0" cy="504.3" r="0.45" fill="#666" opacity="0.5"/>
<circle cx="529.6" cy="489.7" r="0.45" fill="#666" opacity="0.5"/>
<circle cx="540.0" cy="509.7" r="0.45" fill="#666" opacity="0.5"/>
<circle cx="548.8" cy="516.5" r="0.45" fill="#666" opacity="0.5"/>
<circle cx="527.3" cy="512.4" r="0.45" fill="#666" opacity="0.5"/>
<circle cx="561.7" cy="501.0" r="0.45" fill="#666" opacity="0.5"/>
<circle cx="553.6" cy="492.1" r="0.45" fill="#666" opacity="0.5"/>
<circle cx="525.4" cy="494.3" r="0.45" fill="#666" opacity="0.5"/>
<circle cx="536.3" cy="523.1" r="0.45" fill="#666" opacity="0.5"/>
<circle cx="548.6" cy="504.4" r="0.45" fill="#666" opacity="0.5"/>
<circle cx="558.4" cy="489.1" r="0.45" fill="#666" opacity="0.5"/>
<circle cx="561.5" cy="505.3" r="0.45" fill="#666" opacity="0.5"/>
<circle cx="517.7" cy="508.4" r="0.45" fill="#666" opacity="0.5"/>
<circle cx="554.9" cy="506.3" r="0.45" fill="#666" opacity="0.5"/>
<circle cx="573.5" cy="494.2" r="0.45" fill="#666" opacity="0.5"/>
<circle cx="554.2" cy="510.5" r="0.45" fill="#666" opacity="0.5"/>
<circle cx="528.8" cy="516.8" r="0.45" fill="#666" opacity="0.5"/>
<circle cx="518.9" cy="481.8" r="0.45" fill="#666" opacity="0.5"/>
<circle cx="554.4" cy="484.8" r="0.45" fill="#666" opacity="0.5"/>
<circle cx="542.9" cy="477.0" r="0.45" fill="#666" opacity="0.5"/>
<circle cx="546.2" cy="484.1" r="0.45" fill="#666" opacity="0.5"/>
<circle cx="551.2" cy="478.5" r="0.45" fill="#666" opacity="0.5"/>
<circle cx="553.1" cy="496.3" r="0.45" fill="#666" opacity="0.5"/>
<circle cx="546.2" cy="499.1" r="0.45" fill="#666" opacity="0.5"/>
<circle cx="547.4" cy="481.5" r="0.45" fill="#666" opacity="0.5"/>
<circle cx="528.2" cy="493.6" r="0.45" fill="#666" opacity="0.5"/>
<circle cx="552.7" cy="472.2" r="0.45" fill="#666" opacity="0.5"/>
<circle cx="531.3" cy="491.5" r="0.45" fill="#666" opacity="0.5"/>
<circle cx="526.0" cy="504.6" r="0.45" fill="#666" opacity="0.5"/>
<circle cx="542.5" cy="488.5" r="0.45" fill="#666" opacity="0.5"/>
<circle cx="527.3" cy="511.3" r="0.45" fill="#666" opacity="0.5"/>
<circle cx="533.1" cy="508.2" r="0.45" fill="#666" opacity="0.5"/>
<circle cx="553.1" cy="473.5" r="0.45" fill="#666" opacity="0.5"/>
<circle cx="525.5" cy="500.0" r="0.45" fill="#666" opacity="0.5"/>
<circle cx="551.2" cy="510.9" r="0.45" fill="#666" opacity="0.5"/>
<circle cx="559.4" cy="514.5" r="0.45" fill="#666" opacity="0.5"/>
<circle cx="538.3" cy="497.1" r="0.45" fill="#666" opacity="0.5"/>
<circle cx="559.0" cy="494.0" r="0.45" fill="#666" opacity="0.5"/>
<circle cx="564.0" cy="477.8" r="0.45" fill="#666" opacity="0.5"/>
<circle cx="556.8" cy="497.6" r="0.45" fill="#666" opacity="0.5"/>
<circle cx="509.6" cy="513.7" r="0.45" fill="#666" opacity="0.5"/>
<circle cx="550.6" cy="500.3" r="0.45" fill="#666" opacity="0.5"/>
<circle cx="525.6" cy="493.5" r="0.45" fill="#666" opacity="0.5"/>
<circle cx="572.2" cy="488.4" r="0.45" fill="#666" opacity="0.5"/>
<circle cx="523.4" cy="498.2" r="0.45" fill="#666" opacity="0.5"/>
<circle cx="537.9" cy="487.2" r="0.45" fill="#666" opacity="0.5"/>
<circle cx="529.8" cy="514.7" r="0.45" fill="#666" opacity="0.5"/>
<circle cx="519.0" cy="527.4" r="0.45" fill="#666" opacity="0.5"/>
<circle cx="535.2" cy="484.7" r="0.45" fill="#666" opacity="0.5"/>
<circle cx="559.2" cy="507.9" r="0.45" fill="#666" opacity="0.5"/>
<circle cx="526.2" cy="510.5" r="0.45" fill="#666" opacity="0.5"/>
<circle cx="511.9" cy="487.1" r="0.45" fill="#666" opacity="0.5"/>
<circle cx="565.3" cy="496.4" r="0.45" fill="#666" opacity="0.5"/>
<circle cx="521.6" cy="507.2" r="0.45" fill="#666" opacity="0.5"/>
<circle cx="561.5" cy="499.7" r="0.45" fill="#666" opacity="0.5"/>
<circle cx="512.5" cy="495.2" r="0.45" fill="#666" opacity="0.5"/>
<circle cx="552.5" cy="510.8" r="0.45" fill="#666" opacity="0.5"/>
<circle cx="578.4" cy="496.5" r="0.45" fill="#666" opacity="0.5"/>
<circle cx="536.3" cy="499.5" r="0.45" fill="#666" opacity="0.5"/>
<circle cx="566.7" cy="486.8" r="0.45" fill="#666" opacity="0.5"/>
<circle cx="568.5" cy="461.5" r="0.45" fill="#666" opacity="0.5"/>
<circle cx="559.4" cy="490.5" r="0.45" fill="#666" opacity="0.5"/>
<circle cx="553.3" cy="509.6" r="0.45" fill="#666" opacity="0.5"/>
<circle cx="523.7" cy="498.8" r="0.45" fill="#666" opacity="0.5"/>
<circle cx="549.3" cy="508.2" r="0.45" fill="#666" opacity="0.5"/>
<circle cx="528.3" cy="486.1" r="0.45" fill="#666" opacity="0.5"/>
<circle cx="541.5" cy="496.9" r="0.45" fill="#666" opacity="0.5"/>
<circle cx="518.1" cy="513.0" r="0.45" fill="#666" opacity="0.5"/>
<circle cx="535.4" cy="520.1" r="0.45" fill="#666" opacity="0.5"/>
<circle cx="560.3" cy="500.3" r="0.45" fill="#666" opacity="0.5"/>
<circle cx="558.1" cy="484.4" r="0.45" fill="#666" opacity="0.5"/>
<circle cx="539.1" cy="491.9" r="0.45" fill="#666" opacity="0.5"/>
<circle cx="522.2" cy="500.2" r="0.45" fill="#666" opacity="0.5"/>
<circle cx="542.4" cy="520.1" r="0.45" fill="#666" opacity="0.5"/>
<circle cx="528.5" cy="493.5" r="0.45" fill="#666" opacity="0.5"/>
<circle cx="552.6" cy="505.7" r="0.45" fill="#666" opacity="0.5"/>
<circle cx="545.5" cy="493.4" r="0.45" fill="#666" opacity="0.5"/>
<circle cx="553.9" cy="505.0" r="0.45" fill="#666" opacity="0.5"/>
<circle cx="511.8" cy="496.3" r="0.45" fill="#666" opacity="0.5"/>
<circle cx="520.3" cy="483.5" r="0.45" fill="#666" opacity="0.5"/>
<circle cx="547.6" cy="500.8" r="0.45" fill="#666" opacity="0.5"/>
<circle cx="547.0" cy="487.7" r="0.45" fill="#666" opacity="0.5"/>
<circle cx="541.4" cy="487.2" r="0.45" fill="#666" opacity="0.5"/>
<circle cx="551.9" cy="509.6" r="0.45" fill="#666" opacity="0.5"/>
<circle cx="576.6" cy="517.7" r="0.45" fill="#666" opacity="0.5"/>
<circle cx="530.5" cy="493.6" r="0.45" fill="#666" opacity="0.5"/>
<circle cx="528.1" cy="504.3" r="0.45" fill="#666" opacity="0.5"/>
<circle cx="580.6" cy="509.9" r="0.45" fill="#666" opacity="0.5"/>
<circle cx="521.7" cy="507.2" r="0.45" fill="#666" opacity="0.5"/>
<circle cx="545.0" cy="504.2" r="0.45" fill="#666" opacity="0.5"/>
<circle cx="577.1" cy="488.4" r="0.45" fill="#666" opacity="0.5"/>
<circle cx="529.7" cy="527.5" r="0.45" fill="#666" opacity="0.5"/>
<circle cx="551.2" cy="489.1" r="0.45" fill="#666" opacity="0.5"/>
<circle cx="545.8" cy="513.9" r="0.45" fill="#666" opacity="0.5"/>
<circle cx="542.5" cy="490.3" r="0.45" fill="#666" opacity="0.5"/>
<circle cx="531.7" cy="526.6" r="0.45" fill="#666" opacity="0.5"/>
<circle cx="513.2" cy="502.4" r="0.45" fill="#666" opacity="0.5"/>
<circle cx="545.5" cy="508.6" r="0.45" fill="#666" opacity="0.5"/>
<circle cx="537.7" cy="507.0" r="0.45" fill="#666" opacity="0.5"/>
<circle cx="559.7" cy="497.9" r="0.45" fill="#666" opacity="0.5"/>
<circle cx="536.8" cy="497.4" r="0.45" fill="#666" opacity="0.5"/>
<circle cx="527.6" cy="497.1" r="0.45" fill="#666" opacity="0.5"/>
<circle cx="539.6" cy="502.9" r="0.45" fill="#666" opacity="0.5"/>
<circle cx="569.1" cy="518.3" r="0.45" fill="#666" opacity="0.5"/>
<circle cx="537.0" cy="508.4" r="0.45" fill="#666" opacity="0.5"/>
<circle cx="550.3" cy="510.7" r="0.45" fill="#666" opacity="0.5"/>
<circle cx="545.4" cy="503.7" r="0.45" fill="#666" opacity="0.5"/>
<circle cx="536.6" cy="489.0" r="0.45" fill="#666" opacity="0.5"/>
<circle cx="560.7" cy="518.2" r="0.45" fill="#666" opacity="0.5"/>
<circle cx="556.9" cy="506.1" r="0.45" fill="#666" opacity="0.5"/>
<circle cx="549.8" cy="493.7" r="0.45" fill="#666" opacity="0.5"/>
<circle cx="512.9" cy="509.3" r="0.45" fill="#666" opacity="0.5"/>
<circle cx="548.6" cy="492.2" r="0.45" fill="#666" opacity="0.5"/>
<circle cx="527.6" cy="517.9" r="0.45" fill="#666" opacity="0.5"/>
<circle cx="512.5" cy="524.7" r="0.45" fill="#666" opacity="0.5"/>
<circle cx="556.5" cy="533.2" r="0.45" fill="#666" opacity="0.5"/>
<circle cx="532.1" cy="499.7" r="0.45" fill="#666" opacity="0.5"/>
<circle cx="535.9" cy="502.2" r="0.45" fill="#666" opacity="0.5"/>
<circle cx="541.2" cy="489.5" r="0.45" fill="#666" opacity="0.5"/>
<circle cx="564.3" cy="489.0" r="0.45" fill="#666" opacity="0.5"/>
<circle cx="535.9" cy="507.8" r="0.45" fill="#666" opacity="0.5"/>
<circle cx="535.3" cy="493.9" r="0.45" fill="#666" opacity="0.5"/>
<circle cx="551.4" cy="494.9" r="0.45" fill="#666" opacity="0.5"/>
<circle cx="522.6" cy="498.6" r="0.45" fill="#666" opacity="0.5"/>
<circle cx="541.0" cy="523.9" r="0.45" fill="#666" opacity="0.5"/>
<circle cx="525.3" cy="513.6" r="0.45" fill="#666" opacity="0.5"/>
<circle cx="530.9" cy="495.0" r="0.45" fill="#666" opacity="0.5"/>
<circle cx="539.1" cy="503.8" r="0.45" fill="#666" opacity="0.5"/>
<circle cx="560.5" cy="524.5" r="0.45" fill="#666" opacity="0.5"/>
<circle cx="533.5" cy="518.6" r="0.45" fill="#666" opacity="0.5"/>
<circle cx="562.9" cy="511.4" r="0.45" fill="#666" opacity="0.5"/>
<circle cx="531.3" cy="512.6" r="0.45" fill="#666" opacity="0.5"/>
<circle cx="543.1" cy="504.9" r="0.45" fill="#666" opacity="0.5"/>
<circle cx="540.2" cy="509.3" r="0.45" fill="#666" opacity="0.5"/>
<circle cx="565.1" cy="515.8" r="0.45" fill="#666" opacity="0.5"/>
<circle cx="541.3" cy="513.9" r="0.45" fill="#666" opacity="0.5"/>
<circle cx="571.1" cy="486.9" r="0.45" fill="#666" opacity="0.5"/>
<circle cx="571.5" cy="481.3" r="0.45" fill="#666" opacity="0.5"/>
<circle cx="554.8" cy="508.3" r="0.45" fill="#666" opacity="0.5"/>
<circle cx="571.7" cy="503.9" r="0.45" fill="#666" opacity="0.5"/>
<circle cx="536.3" cy="488.8" r="0.45" fill="#666" opacity="0.5"/>
<circle cx="522.5" cy="510.7" r="0.45" fill="#666" opacity="0.5"/>
<circle cx="540.7" cy="490.0" r="0.45" fill="#666" opacity="0.5"/>
<circle cx="554.6" cy="489.3" r="0.45" fill="#666" opacity="0.5"/>
<circle cx="559.8" cy="465.4" r="0.45" fill="#666" opacity="0.5"/>
<circle cx="584.9" cy="484.6" r="0.45" fill="#666" opacity="0.5"/>
<circle cx="563.1" cy="454.3" r="0.45" fill="#666" opacity="0.5"/>
<circle cx="568.3" cy="470.7" r="0.45" fill="#666" opacity="0.5"/>
<circle cx="569.2" cy="475.7" r="0.45" fill="#666" opacity="0.5"/>
<circle cx="561.2" cy="479.3" r="0.45" fill="#666" opacity="0.5"/>
<circle cx="575.0" cy="472.1" r="0.45" fill="#666" opacity="0.5"/>
<circle cx="560.1" cy="465.2" r="0.45" fill="#666" opacity="0.5"/>
<circle cx="573.3" cy="459.0" r="0.45" fill="#666" opacity="0.5"/>
<circle cx="563.1" cy="462.5" r="0.45" fill="#666" opacity="0.5"/>
<circle cx="548.3" cy="476.0" r="0.45" fill="#666" opacity="0.5"/>
<circle cx="564.7" cy="470.4" r="0.45" fill="#666" opacity="0.5"/>
<circle cx="575.5" cy="455.1" r="0.45" fill="#666" opacity="0.5"/>
<circle cx="564.2" cy="472.9" r="0.45" fill="#666" opacity="0.5"/>
<circle cx="575.0" cy="459.2" r="0.45" fill="#666" opacity="0.5"/>
<circle cx="573.6" cy="472.2" r="0.45" fill="#666" opacity="0.5"/>
<circle cx="581.3" cy="481.4" r="0.45" fill="#666" opacity="0.5"/>
<circle cx="571.6" cy="491.5" r="0.45" fill="#666" opacity="0.5"/>
<circle cx="565.0" cy="465.8" r="0.45" fill="#666" opacity="0.5"/>
<circle cx="560.9" cy="460.6" r="0.45" fill="#666" opacity="0.5"/>
<circle cx="564.7" cy="451.2" r="0.45" fill="#666" opacity="0.5"/>
<circle cx="564.0" cy="474.3" r="0.45" fill="#666" opacity="0.5"/>
<circle cx="576.9" cy="466.5" r="0.45" fill="#666" opacity="0.5"/>
<circle cx="581.7" cy="463.5" r="0.45" fill="#666" opacity="0.5"/>
<circle cx="563.4" cy="451.2" r="0.45" fill="#666" opacity="0.5"/>
<circle cx="555.9" cy="462.1" r="0.45" fill="#666" opacity="0.5"/>
<circle cx="582.5" cy="475.2" r="0.45" fill="#666" opacity="0.5"/>
<circle cx="552.1" cy="475.2" r="0.45" fill="#666" opacity="0.5"/>
<circle cx="570.6" cy="467.7" r="0.45" fill="#666" opacity="0.5"/>
<circle cx="565.3" cy="467.0" r="0.45" fill="#666" opacity="0.5"/>
<circle cx="558.6" cy="452.7" r="0.45" fill="#666" opacity="0.5"/>
<circle cx="563.9" cy="482.5" r="0.45" fill="#666" opacity="0.5"/>
<circle cx="581.8" cy="467.3" r="0.45" fill="#666" opacity="0.5"/>
<circle cx="556.2" cy="467.9" r="0.45" fill="#666" opacity="0.5"/>
<circle cx="575.5" cy="473.4" r="0.45" fill="#666" opacity="0.5"/>
<circle cx="558.2" cy="473.5" r="0.45" fill="#666" opacity="0.5"/>
<circle cx="562.6" cy="475.0" r="0.45" fill="#666" opacity="0.5"/>
<circle cx="560.2" cy="455.6" r="0.45" fill="#666" opacity="0.5"/>
<circle cx="565.7" cy="477.4" r="0.45" fill="#666" opacity="0.5"/>
<circle cx="552.0" cy="469.0" r="0.45" fill="#666" opacity="0.5"/>
<circle cx="580.3" cy="512.1" r="0.45" fill="#666" opacity="0.45"/>
<circle cx="562.4" cy="530.8" r="0.45" fill="#666" opacity="0.45"/>
<circle cx="579.7" cy="523.0" r="0.45" fill="#666" opacity="0.45"/>
<circle cx="558.9" cy="527.7" r="0.45" fill="#666" opacity="0.45"/>
<circle cx="550.6" cy="511.0" r="0.45" fill="#666" opacity="0.45"/>
<circle cx="578.6" cy="525.4" r="0.45" fill="#666" opacity="0.45"/>
<circle cx="559.1" cy="509.8" r="0.45" fill="#666" opacity="0.45"/>
<circle cx="572.3" cy="500.0" r="0.45" fill="#666" opacity="0.45"/>
<circle cx="577.5" cy="519.4" r="0.45" fill="#666" opacity="0.45"/>
<circle cx="564.8" cy="519.2" r="0.45" fill="#666" opacity="0.45"/>
<circle cx="579.1" cy="517.4" r="0.45" fill="#666" opacity="0.45"/>
<circle cx="576.1" cy="526.8" r="0.45" fill="#666" opacity="0.45"/>
<circle cx="564.4" cy="516.3" r="0.45" fill="#666" opacity="0.45"/>
<circle cx="563.9" cy="523.0" r="0.45" fill="#666" opacity="0.45"/>
<circle cx="565.3" cy="518.7" r="0.45" fill="#666" opacity="0.45"/>
<circle cx="571.6" cy="515.5" r="0.45" fill="#666" opacity="0.45"/>
<circle cx="590.0" cy="514.3" r="0.45" fill="#666" opacity="0.45"/>
<circle cx="586.5" cy="521.4" r="0.45" fill="#666" opacity="0.45"/>
<circle cx="585.3" cy="513.7" r="0.45" fill="#666" opacity="0.45"/>
<circle cx="580.8" cy="520.9" r="0.45" fill="#666" opacity="0.45"/>
<circle cx="562.9" cy="517.1" r="0.45" fill="#666" opacity="0.45"/>
<circle cx="568.5" cy="514.7" r="0.45" fill="#666" opacity="0.45"/>
<circle cx="585.1" cy="509.4" r="0.45" fill="#666" opacity="0.45"/>
<circle cx="550.5" cy="501.5" r="0.45" fill="#666" opacity="0.45"/>
<circle cx="564.8" cy="510.0" r="0.45" fill="#666" opacity="0.45"/>
<circle cx="570.2" cy="519.4" r="0.45" fill="#666" opacity="0.45"/>
<circle cx="590.4" cy="517.4" r="0.45" fill="#666" opacity="0.45"/>
<circle cx="575.4" cy="509.3" r="0.45" fill="#666" opacity="0.45"/>
<circle cx="576.7" cy="525.5" r="0.45" fill="#666" opacity="0.45"/>
<circle cx="585.5" cy="499.9" r="0.45" fill="#666" opacity="0.45"/>
<circle cx="537.7" cy="518.3" r="0.45" fill="#666" opacity="0.45"/>
<circle cx="537.2" cy="488.6" r="0.45" fill="#666" opacity="0.45"/>
<circle cx="527.3" cy="508.7" r="0.45" fill="#666" opacity="0.45"/>
<circle cx="533.6" cy="495.2" r="0.45" fill="#666" opacity="0.45"/>
<circle cx="522.3" cy="512.3" r="0.45" fill="#666" opacity="0.45"/>
<circle cx="518.4" cy="516.8" r="0.45" fill="#666" opacity="0.45"/>
<circle cx="530.2" cy="505.9" r="0.45" fill="#666" opacity="0.45"/>
<circle cx="518.4" cy="497.3" r="0.45" fill="#666" opacity="0.45"/>
<circle cx="536.0" cy="488.8" r="0.45" fill="#666" opacity="0.45"/>
<circle cx="547.9" cy="489.5" r="0.45" fill="#666" opacity="0.45"/>
<circle cx="519.4" cy="503.4" r="0.45" fill="#666" opacity="0.45"/>
<circle cx="534.2" cy="510.1" r="0.45" fill="#666" opacity="0.45"/>
<circle cx="526.8" cy="501.0" r="0.45" fill="#666" opacity="0.45"/>
<circle cx="528.0" cy="497.5" r="0.45" fill="#666" opacity="0.45"/>
<circle cx="532.2" cy="504.5" r="0.45" fill="#666" opacity="0.45"/>
<circle cx="524.6" cy="505.4" r="0.45" fill="#666" opacity="0.45"/>
<circle cx="529.9" cy="502.3" r="0.45" fill="#666" opacity="0.45"/>
<circle cx="539.6" cy="486.5" r="0.45" fill="#666" opacity="0.45"/>
<circle cx="532.2" cy="492.8" r="0.45" fill="#666" opacity="0.45"/>
<circle cx="527.3" cy="517.4" r="0.45" fill="#666" opacity="0.45"/>
<circle cx="520.6" cy="502.0" r="0.45" fill="#666" opacity="0.45"/>
<circle cx="524.9" cy="512.1" r="0.45" fill="#666" opacity="0.45"/>
<circle cx="521.5" cy="486.8" r="0.45" fill="#666" opacity="0.45"/>
<circle cx="534.4" cy="499.6" r="0.45" fill="#666" opacity="0.45"/>
<circle cx="527.2" cy="513.4" r="0.45" fill="#666" opacity="0.45"/>
<circle cx="522.3" cy="499.4" r="0.45" fill="#666" opacity="0.45"/>
<circle cx="531.3" cy="507.0" r="0.45" fill="#666" opacity="0.45"/>
<circle cx="525.5" cy="512.9" r="0.45" fill="#666" opacity="0.45"/>
<circle cx="549.4" cy="499.1" r="0.45" fill="#666" opacity="0.45"/>
<circle cx="546.2" cy="482.7" r="0.45" fill="#666" opacity="0.45"/>
<circle cx="542.2" cy="499.7" r="0.45" fill="#666" opacity="0.45"/>
<circle cx="531.2" cy="499.7" r="0.45" fill="#666" opacity="0.45"/>
<circle cx="524.5" cy="490.7" r="0.45" fill="#666" opacity="0.45"/>
<circle cx="526.6" cy="515.4" r="0.45" fill="#666" opacity="0.45"/>
<circle cx="539.9" cy="499.7" r="0.45" fill="#666" opacity="0.45"/>
<circle cx="525.4" cy="496.3" r="0.45" fill="#666" opacity="0.45"/>
<circle cx="519.6" cy="520.3" r="0.45" fill="#666" opacity="0.45"/>
<circle cx="535.7" cy="504.1" r="0.45" fill="#666" opacity="0.45"/>
<circle cx="525.8" cy="493.2" r="0.45" fill="#666" opacity="0.45"/>
<circle cx="541.4" cy="510.5" r="0.45" fill="#666" opacity="0.45"/>
<circle cx="521.8" cy="512.5" r="0.45" fill="#666" opacity="0.45"/>
<circle cx="520.4" cy="509.2" r="0.45" fill="#666" opacity="0.45"/>
<circle cx="521.7" cy="499.0" r="0.45" fill="#666" opacity="0.45"/>
<circle cx="534.3" cy="507.2" r="0.45" fill="#666" opacity="0.45"/>
<circle cx="538.7" cy="495.0" r="0.45" fill="#666" opacity="0.45"/>
<circle cx="543.6" cy="515.9" r="0.45" fill="#666" opacity="0.45"/>
<circle cx="529.9" cy="507.5" r="0.45" fill="#666" opacity="0.45"/>
<circle cx="523.3" cy="501.5" r="0.45" fill="#666" opacity="0.45"/>
<circle cx="518.6" cy="503.9" r="0.45" fill="#666" opacity="0.45"/>
<circle cx="531.7" cy="515.9" r="0.45" fill="#666" opacity="0.45"/>
<circle cx="538.2" cy="510.8" r="0.45" fill="#666" opacity="0.45"/>
<circle cx="526.9" cy="500.8" r="0.45" fill="#666" opacity="0.45"/>
<circle cx="527.1" cy="505.1" r="0.45" fill="#666" opacity="0.45"/>
<circle cx="513.3" cy="510.4" r="0.45" fill="#666" opacity="0.45"/>
<circle cx="516.5" cy="498.1" r="0.45" fill="#666" opacity="0.45"/>
<circle cx="530.2" cy="498.1" r="0.45" fill="#666" opacity="0.45"/>
<circle cx="544.4" cy="502.1" r="0.45" fill="#666" opacity="0.45"/>
<circle cx="543.6" cy="514.3" r="0.45" fill="#666" opacity="0.45"/>
<circle cx="525.7" cy="506.8" r="0.45" fill="#666" opacity="0.45"/>
<circle cx="541.2" cy="499.8" r="0.45" fill="#666" opacity="0.45"/>
<circle cx="530.8" cy="497.6" r="0.45" fill="#666" opacity="0.45"/>
<circle cx="530.5" cy="499.6" r="0.45" fill="#666" opacity="0.45"/>
<circle cx="530.7" cy="512.6" r="0.45" fill="#666" opacity="0.45"/>
<circle cx="542.0" cy="504.3" r="0.45" fill="#666" opacity="0.45"/>
<circle cx="531.7" cy="511.2" r="0.45" fill="#666" opacity="0.45"/>
<circle cx="527.5" cy="492.8" r="0.45" fill="#666" opacity="0.45"/>
<circle cx="539.6" cy="494.0" r="0.45" fill="#666" opacity="0.45"/>
<circle cx="538.0" cy="493.7" r="0.45" fill="#666" opacity="0.45"/>
<circle cx="545.8" cy="493.0" r="0.45" fill="#666" opacity="0.45"/>
<circle cx="537.3" cy="517.4" r="0.45" fill="#666" opacity="0.45"/>
<circle cx="521.7" cy="517.3" r="0.45" fill="#666" opacity="0.45"/>
<circle cx="522.9" cy="486.1" r="0.45" fill="#666" opacity="0.45"/>
<circle cx="536.2" cy="509.7" r="0.45" fill="#666" opacity="0.45"/>
<circle cx="528.2" cy="478.8" r="0.45" fill="#666" opacity="0.45"/>
<circle cx="529.5" cy="500.1" r="0.45" fill="#666" opacity="0.45"/>
<circle cx="526.7" cy="500.2" r="0.45" fill="#666" opacity="0.45"/>
<circle cx="514.5" cy="497.6" r="0.45" fill="#666" opacity="0.45"/>
<circle cx="545.6" cy="517.8" r="0.45" fill="#666" opacity="0.45"/>
<circle cx="526.9" cy="496.2" r="0.45" fill="#666" opacity="0.45"/>
<circle cx="533.4" cy="513.2" r="0.45" fill="#666" opacity="0.45"/>
<circle cx="536.2" cy="491.8" r="0.45" fill="#666" opacity="0.45"/>
<circle cx="531.4" cy="504.3" r="0.45" fill="#666" opacity="0.45"/>
<circle cx="542.4" cy="514.5" r="0.45" fill="#666" opacity="0.45"/>
<circle cx="534.5" cy="514.7" r="0.45" fill="#666" opacity="0.45"/>
<circle cx="526.6" cy="517.8" r="0.45" fill="#666" opacity="0.45"/>
<circle cx="526.3" cy="506.8" r="0.45" fill="#666" opacity="0.45"/>
<circle cx="537.9" cy="494.2" r="0.45" fill="#666" opacity="0.45"/>
<circle cx="523.9" cy="486.1" r="0.45" fill="#666" opacity="0.45"/>
<circle cx="531.4" cy="502.5" r="0.45" fill="#666" opacity="0.45"/>
<circle cx="527.2" cy="507.8" r="0.45" fill="#666" opacity="0.45"/>
<circle cx="511.7" cy="502.8" r="0.45" fill="#666" opacity="0.45"/>
<circle cx="530.8" cy="500.4" r="0.45" fill="#666" opacity="0.45"/>
<circle cx="536.9" cy="519.8" r="0.45" fill="#666" opacity="0.45"/>
<circle cx="526.1" cy="494.0" r="0.45" fill="#666" opacity="0.45"/>
<circle cx="524.8" cy="503.9" r="0.45" fill="#666" opacity="0.45"/>
<circle cx="535.1" cy="494.7" r="0.45" fill="#666" opacity="0.45"/>
<circle cx="538.6" cy="493.2" r="0.45" fill="#666" opacity="0.45"/>
<circle cx="537.1" cy="507.1" r="0.45" fill="#666" opacity="0.45"/>
<circle cx="534.0" cy="523.7" r="0.45" fill="#666" opacity="0.45"/>
<circle cx="527.7" cy="501.4" r="0.45" fill="#666" opacity="0.45"/>
<circle cx="534.1" cy="511.3" r="0.45" fill="#666" opacity="0.45"/>
<circle cx="518.4" cy="505.6" r="0.45" fill="#666" opacity="0.45"/>
<circle cx="523.6" cy="509.1" r="0.45" fill="#666" opacity="0.45"/>
<circle cx="541.8" cy="503.5" r="0.45" fill="#666" opacity="0.45"/>
<circle cx="529.1" cy="504.8" r="0.45" fill="#666" opacity="0.45"/>
<circle cx="534.8" cy="504.6" r="0.45" fill="#666" opacity="0.45"/>
<circle cx="526.6" cy="496.0" r="0.45" fill="#666" opacity="0.45"/>
<circle cx="528.5" cy="514.6" r="0.45" fill="#666" opacity="0.45"/>
<circle cx="529.1" cy="515.9" r="0.45" fill="#666" opacity="0.45"/>
<circle cx="532.4" cy="502.9" r="0.45" fill="#666" opacity="0.45"/>
<circle cx="515.7" cy="496.6" r="0.45" fill="#666" opacity="0.45"/>
<circle cx="540.8" cy="490.6" r="0.45" fill="#666" opacity="0.45"/>
<circle cx="521.4" cy="492.5" r="0.45" fill="#666" opacity="0.45"/>
<circle cx="525.2" cy="509.2" r="0.45" fill="#666" opacity="0.45"/>
<circle cx="535.1" cy="483.5" r="0.45" fill="#666" opacity="0.45"/>
<circle cx="542.6" cy="497.3" r="0.45" fill="#666" opacity="0.45"/>
<circle cx="524.9" cy="519.0" r="0.45" fill="#666" opacity="0.45"/>
<ellipse cx="563.5" cy="472.3" rx="18.5" ry="9.5" transform="rotate(-48.6 563.5 472.3)" fill="#cecece" stroke="#9a9a9a" stroke-width="0.55"/>
<ellipse cx="563.5" cy="472.3" rx="14.8" ry="7.6" transform="rotate(-48.6 563.5 472.3)" fill="none" stroke="#9a9a9a" stroke-width="0.55"/>
<ellipse cx="563.5" cy="472.3" rx="11.1" ry="5.7" transform="rotate(-48.6 563.5 472.3)" fill="none" stroke="#9a9a9a" stroke-width="0.55"/>
<ellipse cx="563.5" cy="472.3" rx="7.4" ry="3.8" transform="rotate(-48.6 563.5 472.3)" fill="none" stroke="#9a9a9a" stroke-width="0.55"/>
<ellipse cx="563.5" cy="472.3" rx="3.7" ry="1.9" transform="rotate(-48.6 563.5 472.3)" fill="none" stroke="#9a9a9a" stroke-width="0.55"/>
<ellipse cx="565.5" cy="470.8" rx="22.3" ry="11.5" transform="rotate(-48.6 565.5 470.8)" fill="none" stroke="#505050" stroke-width="1"/>
<text x="598.5" y="499" font-size="13.5" text-anchor="end" fill="#111" >25.5</text>
<path d="M519.9,513.5 C519.9,500.0 520.9,490.0 527.5,490.0 C534.1,490.0 535.1,500.0 535.6,515.5" fill="none" stroke="#8c8c8c" stroke-width="0.75"/>
<path d="M522.1,513.5 C522.1,503.2 523.1,493.2 527.5,493.2 C531.9,493.2 532.9,503.2 533.4,515.5" fill="none" stroke="#9a9a9a" stroke-width="0.7"/>
<path d="M524.1,513.5 C524.1,506.4 525.1,496.4 527.5,496.4 C529.9,496.4 530.9,506.4 531.4,515.5" fill="none" stroke="#a8a8a8" stroke-width="0.65"/>
<ellipse cx="521" cy="518.5" rx="12.0" ry="11.4" fill="#c9c9c9" stroke="#8a8a8a" stroke-width="0.6"/>
<ellipse cx="521" cy="518.5" rx="10.2" ry="9.7" fill="none" stroke="#8a8a8a" stroke-width="0.6"/>
<ellipse cx="521" cy="518.5" rx="8.4" ry="8.0" fill="none" stroke="#8a8a8a" stroke-width="0.6"/>
<ellipse cx="521" cy="518.5" rx="6.6" ry="6.3" fill="none" stroke="#8a8a8a" stroke-width="0.6"/>
<ellipse cx="521" cy="518.5" rx="4.8" ry="4.6" fill="none" stroke="#8a8a8a" stroke-width="0.6"/>
<ellipse cx="521" cy="518.5" rx="3.0" ry="2.8" fill="none" stroke="#8a8a8a" stroke-width="0.6"/>
<circle cx="521" cy="518.5" r="1.2" fill="#fff"/>
<text x="422.6" y="548" font-size="13" text-anchor="middle" fill="#111" >0</text>
<text x="454.2" y="548" font-size="13" text-anchor="middle" fill="#111">10<tspan font-size="8.5" dy="-4.5">2</tspan></text>
<text x="477.2" y="548" font-size="13" text-anchor="middle" fill="#111">10<tspan font-size="8.5" dy="-4.5">3</tspan></text>
<text x="499.5" y="548" font-size="13" text-anchor="middle" fill="#111">10<tspan font-size="8.5" dy="-4.5">4</tspan></text>
<text x="407.5" y="519.6" font-size="13" text-anchor="middle" fill="#111" transform="rotate(-90 407.5 519.6)" >0</text>
<text x="407.5" y="494.6" font-size="13" text-anchor="middle" fill="#111" transform="rotate(-90 407.5 494.6)">10<tspan font-size="8.5" dy="-4.5">2</tspan></text>
<text x="407.5" y="471.8" font-size="13" text-anchor="middle" fill="#111" transform="rotate(-90 407.5 471.8)">10<tspan font-size="8.5" dy="-4.5">3</tspan></text>
<text x="407.5" y="449" font-size="13" text-anchor="middle" fill="#111" transform="rotate(-90 407.5 449)">10<tspan font-size="8.5" dy="-4.5">4</tspan></text>
<text x="385.3" y="535.5" font-size="14" text-anchor="middle" fill="#111" transform="rotate(-90 385.3 535.5)" >MHCII</text>
<line x1="392.2" y1="559.5" x2="392.2" y2="528" stroke="#111" stroke-width="2.4" />
<polygon points="392.2,520.5 388.2,529.5 396.2,529.5" fill="#111" stroke="#111" stroke-width="0.5" stroke-linejoin="miter" />
<line x1="391" y1="558.3" x2="422" y2="558.3" stroke="#111" stroke-width="2.4" />
<polygon points="429.5,558.3 420.5,554.3 420.5,562.3" fill="#111" stroke="#111" stroke-width="0.5" stroke-linejoin="miter" />
<text x="392" y="577.5" font-size="14" text-anchor="start" fill="#111" >CD11b</text>
<line x1="648" y1="368.4" x2="648" y2="544.8" stroke="#111" stroke-width="2.4" />
<line x1="643.2" y1="543.8" x2="768.7" y2="543.8" stroke="#111" stroke-width="2.4" />
<line x1="643.2" y1="369.4" x2="648" y2="369.4" stroke="#111" stroke-width="2.4" />
<text x="642.3" y="374.4" font-size="13.5" text-anchor="end" fill="#111" >8</text>
<line x1="643.2" y1="413.1" x2="648" y2="413.1" stroke="#111" stroke-width="2.4" />
<text x="642.3" y="418.1" font-size="13.5" text-anchor="end" fill="#111" >6</text>
<line x1="643.2" y1="456.6" x2="648" y2="456.6" stroke="#111" stroke-width="2.4" />
<text x="642.3" y="461.6" font-size="13.5" text-anchor="end" fill="#111" >4</text>
<line x1="643.2" y1="500.1" x2="648" y2="500.1" stroke="#111" stroke-width="2.4" />
<text x="642.3" y="505.1" font-size="13.5" text-anchor="end" fill="#111" >2</text>
<line x1="643.2" y1="543.8" x2="648" y2="543.8" stroke="#111" stroke-width="2.4" />
<text x="642.3" y="548.8" font-size="13.5" text-anchor="end" fill="#111" >0</text>
<text x="627.4" y="458.4" font-size="14" text-anchor="middle" fill="#111" transform="rotate(-90 627.4 458.4)">LC (10<tspan font-size="9" dy="-5">5</tspan><tspan dy="5">)</tspan></text>
<line x1="667.8499999999999" y1="479.9" x2="667.8499999999999" y2="463.8" stroke="#111" stroke-width="2.3" />
<line x1="661.8499999999999" y1="463.8" x2="673.8499999999999" y2="463.8" stroke="#111" stroke-width="2.3" />
<rect x="656.8" y="479.9" width="22.100000000000023" height="63.89999999999998" fill="#444" stroke="#111" stroke-width="2.5" />
<line x1="689.45" y1="417.4" x2="689.45" y2="404.8" stroke="#111" stroke-width="2.3" />
<line x1="683.45" y1="404.8" x2="695.45" y2="404.8" stroke="#111" stroke-width="2.3" />
<rect x="678.9" y="417.4" width="21.100000000000023" height="126.39999999999998" fill="#e9e9e9" stroke="#111" stroke-width="2.5" />
<line x1="727.7" y1="538" x2="727.7" y2="535.7" stroke="#111" stroke-width="2.3" />
<line x1="721.7" y1="535.7" x2="733.7" y2="535.7" stroke="#111" stroke-width="2.3" />
<rect x="716.4" y="538" width="22.600000000000023" height="5.7999999999999545" fill="#444" stroke="#111" stroke-width="2.5" />
<line x1="749.55" y1="433.5" x2="749.55" y2="417.4" stroke="#111" stroke-width="2.3" />
<line x1="743.55" y1="417.4" x2="755.55" y2="417.4" stroke="#111" stroke-width="2.3" />
<rect x="739" y="433.5" width="21.100000000000023" height="110.29999999999995" fill="#e9e9e9" stroke="#111" stroke-width="2.5" />
<polyline points="685.5,399.6 685.5,392.4 747.7,392.4 747.7,399.6" fill="none" stroke="#111" stroke-width="1.8" stroke-linejoin="round" stroke-linejoin="miter"/>
<text x="717.4" y="388" font-size="14" text-anchor="middle" fill="#111" >NS</text>
<text x="676" y="559.3" font-size="14" text-anchor="middle" fill="#111" >– IR</text>
<text x="741.8" y="559.3" font-size="14" text-anchor="middle" fill="#111" >+ IR</text>
<rect x="679.4" y="328.2" width="11.8" height="11.6" fill="#444" stroke="#111" stroke-width="2.5" />
<rect x="679.4" y="347.8" width="11.8" height="11.4" fill="#e9e9e9" stroke="#111" stroke-width="2.2" />
<text x="698.4" y="339.7" font-size="14" text-anchor="start" fill="#111" >WT</text>
<text x="698.4" y="358.7" font-size="14" font-style="italic" fill="#111">Ccr7<tspan font-size="9" dy="-5">-/-</tspan></text>
<text x="0.1" y="621.7" font-size="21" text-anchor="start" fill="#111" >f</text>
<line x1="57.6" y1="657.3" x2="57.6" y2="777.3" stroke="#8a8a8a" stroke-width="1" />
<line x1="57.6" y1="777" x2="178" y2="777" stroke="#8a8a8a" stroke-width="1" />
<polygon points="66,738.4 73.5,736.5 76.5,734.3 81,733.2 84,729 87.8,720 90.8,709.5 92.3,703.5 94.8,699.3 96.8,699 99.3,692.3 101.3,684 102.5,676.2 103.8,684 105.8,689.3 107.7,695.3 109.5,702.8 111.8,703.5 113.3,711 114.8,715.5 116.7,714 118.5,717.8 121.5,723 126,728.3 129.8,728.3 133.5,729.3 138,731.3 141.8,735 147,737.3 156,738.4" fill="#c8c8c8" stroke="#b4b4b4" stroke-width="0.7" stroke-linejoin="miter" />
<line x1="57.6" y1="738.4" x2="178" y2="738.4" stroke="#d0d0d0" stroke-width="0.8" />
<polygon points="81,777 84.8,770.3 87.8,757.5 90.8,748.5 93.3,738 94.5,727.5 97.8,720 99.8,723.8 102,721.8 103.8,726 105,735 107.3,741.8 109.5,751.5 112.5,760.5 115.5,765.8 117.8,766.5 120,770.3 123,771.8 126,773.3 129,772.8 132,775.5 138,777" fill="#5c5c5c" stroke="#333" stroke-width="0.9" stroke-linejoin="miter" />
<line x1="65.6" y1="777" x2="65.6" y2="779" stroke="#888" stroke-width="0.6" />
<line x1="69.69999999999999" y1="777" x2="69.69999999999999" y2="779" stroke="#888" stroke-width="0.6" />
<line x1="73.79999999999998" y1="777" x2="73.79999999999998" y2="779" stroke="#888" stroke-width="0.6" />
<line x1="77.89999999999998" y1="777" x2="77.89999999999998" y2="779" stroke="#888" stroke-width="0.6" />
<line x1="81.99999999999997" y1="777" x2="81.99999999999997" y2="779" stroke="#888" stroke-width="0.6" />
<line x1="86.09999999999997" y1="777" x2="86.09999999999997" y2="779" stroke="#888" stroke-width="0.6" />
<line x1="90.19999999999996" y1="777" x2="90.19999999999996" y2="779" stroke="#888" stroke-width="0.6" />
<line x1="94.29999999999995" y1="777" x2="94.29999999999995" y2="779" stroke="#888" stroke-width="0.6" />
<line x1="98.39999999999995" y1="777" x2="98.39999999999995" y2="779" stroke="#888" stroke-width="0.6" />
<line x1="102.49999999999994" y1="777" x2="102.49999999999994" y2="779" stroke="#888" stroke-width="0.6" />
<line x1="106.59999999999994" y1="777" x2="106.59999999999994" y2="779" stroke="#888" stroke-width="0.6" />
<line x1="110.69999999999993" y1="777" x2="110.69999999999993" y2="779" stroke="#888" stroke-width="0.6" />
<line x1="114.79999999999993" y1="777" x2="114.79999999999993" y2="779" stroke="#888" stroke-width="0.6" />
<line x1="118.89999999999992" y1="777" x2="118.89999999999992" y2="779" stroke="#888" stroke-width="0.6" />
<line x1="122.99999999999991" y1="777" x2="122.99999999999991" y2="779" stroke="#888" stroke-width="0.6" />
<line x1="127.09999999999991" y1="777" x2="127.09999999999991" y2="779" stroke="#888" stroke-width="0.6" />
<line x1="131.1999999999999" y1="777" x2="131.1999999999999" y2="779" stroke="#888" stroke-width="0.6" />
<line x1="135.2999999999999" y1="777" x2="135.2999999999999" y2="779" stroke="#888" stroke-width="0.6" />
<line x1="139.3999999999999" y1="777" x2="139.3999999999999" y2="779" stroke="#888" stroke-width="0.6" />
<line x1="143.4999999999999" y1="777" x2="143.4999999999999" y2="779" stroke="#888" stroke-width="0.6" />
<line x1="147.59999999999988" y1="777" x2="147.59999999999988" y2="779" stroke="#888" stroke-width="0.6" />
<line x1="151.69999999999987" y1="777" x2="151.69999999999987" y2="779" stroke="#888" stroke-width="0.6" />
<line x1="155.79999999999987" y1="777" x2="155.79999999999987" y2="779" stroke="#888" stroke-width="0.6" />
<line x1="159.89999999999986" y1="777" x2="159.89999999999986" y2="779" stroke="#888" stroke-width="0.6" />
<line x1="163.99999999999986" y1="777" x2="163.99999999999986" y2="779" stroke="#888" stroke-width="0.6" />
<line x1="168.09999999999985" y1="777" x2="168.09999999999985" y2="779" stroke="#888" stroke-width="0.6" />
<line x1="172.19999999999985" y1="777" x2="172.19999999999985" y2="779" stroke="#888" stroke-width="0.6" />
<line x1="82.1" y1="778.6" x2="87.1" y2="778.6" stroke="#222" stroke-width="2" />
<text x="121.3" y="639.5" font-size="14" text-anchor="middle" fill="#111" >Epidermal</text>
<text x="178" y="727" font-size="14" text-anchor="end" fill="#111" >939</text>
<text x="178" y="770" font-size="14" text-anchor="end" fill="#111" >760</text>
<text x="121.3" y="655.7" font-size="14" text-anchor="middle" fill="#111" >LC</text>
<line x1="189.6" y1="657.3" x2="189.6" y2="777.3" stroke="#8a8a8a" stroke-width="1" />
<line x1="189.6" y1="777" x2="310" y2="777" stroke="#8a8a8a" stroke-width="1" />
<polygon points="206,738.4 216,736 222,726 227,720 230,700 231.6,702 234,680 236.4,688 239.6,676 243,692 246,704 249,720 254,728 258,730 264,736 272,738.4" fill="#c8c8c8" stroke="#b4b4b4" stroke-width="0.7" stroke-linejoin="miter" />
<line x1="189.6" y1="738.4" x2="310" y2="738.4" stroke="#d0d0d0" stroke-width="0.8" />
<polygon points="222,777 230,772 234,766 238,759 241,765 244,762 247,748 251,734 254,742 257,734 260,750 262,748 266,764 270,765 274,769 278,774 284,774 289,777" fill="#5c5c5c" stroke="#333" stroke-width="0.9" stroke-linejoin="miter" />
<line x1="197.6" y1="777" x2="197.6" y2="779" stroke="#888" stroke-width="0.6" />
<line x1="201.7" y1="777" x2="201.7" y2="779" stroke="#888" stroke-width="0.6" />
<line x1="205.79999999999998" y1="777" x2="205.79999999999998" y2="779" stroke="#888" stroke-width="0.6" />
<line x1="209.89999999999998" y1="777" x2="209.89999999999998" y2="779" stroke="#888" stroke-width="0.6" />
<line x1="213.99999999999997" y1="777" x2="213.99999999999997" y2="779" stroke="#888" stroke-width="0.6" />
<line x1="218.09999999999997" y1="777" x2="218.09999999999997" y2="779" stroke="#888" stroke-width="0.6" />
<line x1="222.19999999999996" y1="777" x2="222.19999999999996" y2="779" stroke="#888" stroke-width="0.6" />
<line x1="226.29999999999995" y1="777" x2="226.29999999999995" y2="779" stroke="#888" stroke-width="0.6" />
<line x1="230.39999999999995" y1="777" x2="230.39999999999995" y2="779" stroke="#888" stroke-width="0.6" />
<line x1="234.49999999999994" y1="777" x2="234.49999999999994" y2="779" stroke="#888" stroke-width="0.6" />
<line x1="238.59999999999994" y1="777" x2="238.59999999999994" y2="779" stroke="#888" stroke-width="0.6" />
<line x1="242.69999999999993" y1="777" x2="242.69999999999993" y2="779" stroke="#888" stroke-width="0.6" />
<line x1="246.79999999999993" y1="777" x2="246.79999999999993" y2="779" stroke="#888" stroke-width="0.6" />
<line x1="250.89999999999992" y1="777" x2="250.89999999999992" y2="779" stroke="#888" stroke-width="0.6" />
<line x1="254.99999999999991" y1="777" x2="254.99999999999991" y2="779" stroke="#888" stroke-width="0.6" />
<line x1="259.0999999999999" y1="777" x2="259.0999999999999" y2="779" stroke="#888" stroke-width="0.6" />
<line x1="263.19999999999993" y1="777" x2="263.19999999999993" y2="779" stroke="#888" stroke-width="0.6" />
<line x1="267.29999999999995" y1="777" x2="267.29999999999995" y2="779" stroke="#888" stroke-width="0.6" />
<line x1="271.4" y1="777" x2="271.4" y2="779" stroke="#888" stroke-width="0.6" />
<line x1="275.5" y1="777" x2="275.5" y2="779" stroke="#888" stroke-width="0.6" />
<line x1="279.6" y1="777" x2="279.6" y2="779" stroke="#888" stroke-width="0.6" />
<line x1="283.70000000000005" y1="777" x2="283.70000000000005" y2="779" stroke="#888" stroke-width="0.6" />
<line x1="287.80000000000007" y1="777" x2="287.80000000000007" y2="779" stroke="#888" stroke-width="0.6" />
<line x1="291.9000000000001" y1="777" x2="291.9000000000001" y2="779" stroke="#888" stroke-width="0.6" />
<line x1="296.0000000000001" y1="777" x2="296.0000000000001" y2="779" stroke="#888" stroke-width="0.6" />
<line x1="300.10000000000014" y1="777" x2="300.10000000000014" y2="779" stroke="#888" stroke-width="0.6" />
<line x1="304.20000000000016" y1="777" x2="304.20000000000016" y2="779" stroke="#888" stroke-width="0.6" />
<line x1="208.1" y1="778.6" x2="213.1" y2="778.6" stroke="#222" stroke-width="2" />
<text x="248.4" y="639.5" font-size="14" text-anchor="middle" fill="#111" >Dermal</text>
<text x="310" y="727" font-size="14" text-anchor="end" fill="#111" >862</text>
<text x="310" y="770" font-size="14" text-anchor="end" fill="#111" >2,312</text>
<polygon points="189.6,769 191.5,773 194,776.5 189.6,777" fill="#666" stroke="#555" stroke-width="0.5" stroke-linejoin="miter" />
<text x="248.4" y="655.6" font-size="14" text-anchor="middle" fill="#111" >DC</text>
<line x1="319.4" y1="657.3" x2="319.4" y2="777.3" stroke="#8a8a8a" stroke-width="1" />
<line x1="319.4" y1="777" x2="439" y2="777" stroke="#8a8a8a" stroke-width="1" />
<polygon points="330,738.4 339,736 343,729 347,724 351,708 352.4,704 354,706 358,688 361,681 365,679 368,690 372,708 376,720 380,728 386,734 398,736 408,738.4" fill="#c8c8c8" stroke="#b4b4b4" stroke-width="0.7" stroke-linejoin="miter" />
<line x1="319.4" y1="738.4" x2="439" y2="738.4" stroke="#d0d0d0" stroke-width="0.8" />
<polygon points="347,777 356,772 362,764 367,750 369,751 373,746 377,744 379,740 382,732 384,735 387.4,721.4 390,740 394,756 398,772 404,773 409,775 412,777" fill="#5c5c5c" stroke="#333" stroke-width="0.9" stroke-linejoin="miter" />
<line x1="327.4" y1="777" x2="327.4" y2="779" stroke="#888" stroke-width="0.6" />
<line x1="331.5" y1="777" x2="331.5" y2="779" stroke="#888" stroke-width="0.6" />
<line x1="335.6" y1="777" x2="335.6" y2="779" stroke="#888" stroke-width="0.6" />
<line x1="339.70000000000005" y1="777" x2="339.70000000000005" y2="779" stroke="#888" stroke-width="0.6" />
<line x1="343.80000000000007" y1="777" x2="343.80000000000007" y2="779" stroke="#888" stroke-width="0.6" />
<line x1="347.9000000000001" y1="777" x2="347.9000000000001" y2="779" stroke="#888" stroke-width="0.6" />
<line x1="352.0000000000001" y1="777" x2="352.0000000000001" y2="779" stroke="#888" stroke-width="0.6" />
<line x1="356.10000000000014" y1="777" x2="356.10000000000014" y2="779" stroke="#888" stroke-width="0.6" />
<line x1="360.20000000000016" y1="777" x2="360.20000000000016" y2="779" stroke="#888" stroke-width="0.6" />
<line x1="364.3000000000002" y1="777" x2="364.3000000000002" y2="779" stroke="#888" stroke-width="0.6" />
<line x1="368.4000000000002" y1="777" x2="368.4000000000002" y2="779" stroke="#888" stroke-width="0.6" />
<line x1="372.5000000000002" y1="777" x2="372.5000000000002" y2="779" stroke="#888" stroke-width="0.6" />
<line x1="376.60000000000025" y1="777" x2="376.60000000000025" y2="779" stroke="#888" stroke-width="0.6" />
<line x1="380.7000000000003" y1="777" x2="380.7000000000003" y2="779" stroke="#888" stroke-width="0.6" />
<line x1="384.8000000000003" y1="777" x2="384.8000000000003" y2="779" stroke="#888" stroke-width="0.6" />
<line x1="388.9000000000003" y1="777" x2="388.9000000000003" y2="779" stroke="#888" stroke-width="0.6" />
<line x1="393.00000000000034" y1="777" x2="393.00000000000034" y2="779" stroke="#888" stroke-width="0.6" />
<line x1="397.10000000000036" y1="777" x2="397.10000000000036" y2="779" stroke="#888" stroke-width="0.6" />
<line x1="401.2000000000004" y1="777" x2="401.2000000000004" y2="779" stroke="#888" stroke-width="0.6" />
<line x1="405.3000000000004" y1="777" x2="405.3000000000004" y2="779" stroke="#888" stroke-width="0.6" />
<line x1="409.40000000000043" y1="777" x2="409.40000000000043" y2="779" stroke="#888" stroke-width="0.6" />
<line x1="413.50000000000045" y1="777" x2="413.50000000000045" y2="779" stroke="#888" stroke-width="0.6" />
<line x1="417.6000000000005" y1="777" x2="417.6000000000005" y2="779" stroke="#888" stroke-width="0.6" />
<line x1="421.7000000000005" y1="777" x2="421.7000000000005" y2="779" stroke="#888" stroke-width="0.6" />
<line x1="425.8000000000005" y1="777" x2="425.8000000000005" y2="779" stroke="#888" stroke-width="0.6" />
<line x1="429.90000000000055" y1="777" x2="429.90000000000055" y2="779" stroke="#888" stroke-width="0.6" />
<line x1="434.00000000000057" y1="777" x2="434.00000000000057" y2="779" stroke="#888" stroke-width="0.6" />
<line x1="337.9" y1="778.6" x2="342.9" y2="778.6" stroke="#222" stroke-width="2" />
<text x="386" y="639.5" font-size="14" text-anchor="middle" fill="#111" >LN-resident</text>
<text x="439" y="727" font-size="14" text-anchor="end" fill="#111" >587</text>
<text x="439" y="770" font-size="14" text-anchor="end" fill="#111" >1,949</text>
<text x="386" y="655.6" font-size="14" text-anchor="middle" fill="#111" >DC</text>
<text x="4" y="737.3" font-size="14" text-anchor="start" fill="#111" >– IR</text>
<text x="4" y="770.6" font-size="14" text-anchor="start" fill="#111" >+ IR</text>
<text x="85.9" y="793" font-size="13" text-anchor="middle" fill="#111" >0</text>
<text x="109.6" y="793" font-size="13" text-anchor="middle" fill="#111">10<tspan font-size="8.5" dy="-4.5">2</tspan></text>
<text x="140.6" y="793" font-size="13" text-anchor="middle" fill="#111">10<tspan font-size="8.5" dy="-4.5">3</tspan></text>
<text x="172" y="793" font-size="13" text-anchor="middle" fill="#111">10<tspan font-size="8.5" dy="-4.5">4</tspan></text>
<text x="42.7" y="781" font-size="14" text-anchor="middle" fill="#111" transform="rotate(-90 42.7 781)" >Counts</text>
<line x1="50.8" y1="804.8" x2="50.8" y2="775" stroke="#111" stroke-width="2.4" />
<polygon points="50.8,767.5 46.8,776.5 54.8,776.5" fill="#111" stroke="#111" stroke-width="0.5" stroke-linejoin="miter" />
<line x1="49.6" y1="803.6" x2="82" y2="803.6" stroke="#111" stroke-width="2.4" />
<polygon points="89.5,803.6 80.5,799.6 80.5,807.6" fill="#111" stroke="#111" stroke-width="0.5" stroke-linejoin="miter" />
<text x="50" y="823.2" font-size="14" text-anchor="start" fill="#111" >Active Caspases</text>
<line x1="490" y1="611.2" x2="490" y2="808.5" stroke="#111" stroke-width="2.6" />
<line x1="483.5" y1="807.2" x2="656" y2="807.2" stroke="#111" stroke-width="2.6" />
<line x1="483.5" y1="612.4" x2="490" y2="612.4" stroke="#111" stroke-width="2.4" />
<text x="482.6" y="617.4" font-size="13.5" text-anchor="end" fill="#111" >6</text>
<line x1="483.5" y1="677.5" x2="490" y2="677.5" stroke="#111" stroke-width="2.4" />
<text x="482.6" y="682.5" font-size="13.5" text-anchor="end" fill="#111" >4</text>
<line x1="483.5" y1="742.5" x2="490" y2="742.5" stroke="#111" stroke-width="2.4" />
<text x="482.6" y="747.5" font-size="13.5" text-anchor="end" fill="#111" >2</text>
<line x1="483.5" y1="807" x2="490" y2="807" stroke="#111" stroke-width="2.4" />
<text x="482.6" y="812" font-size="13.5" text-anchor="end" fill="#111" >0</text>
<text x="468.3" y="707.4" font-size="14" text-anchor="middle" fill="#111" transform="rotate(-90 468.3 707.4)" >Caspase induction (fold)</text>
<line x1="490" y1="774.8" x2="654.5" y2="774.8" stroke="#111" stroke-width="2" stroke-dasharray="3 1.8"/>
<circle cx="517.3" cy="758.3" r="6.3" fill="#2b2b2b" stroke="none" stroke-width="0"/>
<circle cx="516.3" cy="770.8" r="6.3" fill="#2b2b2b" stroke="none" stroke-width="0"/>
<circle cx="508" cy="779.8" r="6.3" fill="#2b2b2b" stroke="none" stroke-width="0"/>
<circle cx="526.8" cy="781.3" r="6.3" fill="#2b2b2b" stroke="none" stroke-width="0"/>
<circle cx="517" cy="788.8" r="6.3" fill="#2b2b2b" stroke="none" stroke-width="0"/>
<circle cx="521.5" cy="776" r="6.3" fill="#2b2b2b" stroke="none" stroke-width="0"/>
<line x1="499.3" y1="775.7" x2="535" y2="775.5" stroke="#000" stroke-width="2.6" />
<line x1="507.3" y1="766.5" x2="527.2" y2="766.5" stroke="#000" stroke-width="2.3" />
<line x1="517.3" y1="766.5" x2="517.3" y2="775.5" stroke="#000" stroke-width="2.3" />
<line x1="562.5" y1="734.8" x2="583" y2="734.8" stroke="#111" stroke-width="2.3" />
<line x1="573.2" y1="734.8" x2="573.2" y2="751.3" stroke="#111" stroke-width="2.3" />
<rect x="576.15" y="723.0500000000001" width="9.3" height="9.3" fill="#e6e6e6" stroke="#555" stroke-width="2"/>
<rect x="567.5500000000001" y="733.15" width="9.3" height="9.3" fill="#e6e6e6" stroke="#555" stroke-width="2"/>
<rect x="576.35" y="740.65" width="9.3" height="9.3" fill="#e6e6e6" stroke="#555" stroke-width="2"/>
<rect x="559.35" y="751.15" width="9.3" height="9.3" fill="#e6e6e6" stroke="#555" stroke-width="2"/>
<rect x="568.65" y="751.15" width="9.3" height="9.3" fill="#e6e6e6" stroke="#555" stroke-width="2"/>
<rect x="576.15" y="758.65" width="9.3" height="9.3" fill="#e6e6e6" stroke="#555" stroke-width="2"/>
<rect x="567.85" y="772.5500000000001" width="9.3" height="9.3" fill="#e6e6e6" stroke="#555" stroke-width="2"/>
<line x1="554.5" y1="751.3" x2="590.8" y2="751.3" stroke="#111" stroke-width="2.6" />
<line x1="609.3" y1="719.8" x2="646" y2="719.8" stroke="#111" stroke-width="2.6" />
<line x1="617.8" y1="679.2" x2="638" y2="679.2" stroke="#111" stroke-width="2.3" />
<line x1="627.8" y1="679.2" x2="627.8" y2="719.8" stroke="#111" stroke-width="2.3" />
<polygon points="628,643.2325 622.85,653.0175 633.15,653.0175" fill="#fff" stroke="#111" stroke-width="2.5" stroke-linejoin="miter" />
<polygon points="628,670.4325 622.85,680.2175000000001 633.15,680.2175000000001" fill="#fff" stroke="#111" stroke-width="2.5" stroke-linejoin="miter" />
<polygon points="619,738.0324999999999 613.85,747.8175 624.15,747.8175" fill="#fff" stroke="#111" stroke-width="2.5" stroke-linejoin="miter" />
<polygon points="623,733.7325 617.85,743.5175 628.15,743.5175" fill="#fff" stroke="#111" stroke-width="2.5" stroke-linejoin="miter" />
<polygon points="632.2,738.0324999999999 627.0500000000001,747.8175 637.35,747.8175" fill="#fff" stroke="#111" stroke-width="2.5" stroke-linejoin="miter" />
<polygon points="637.6,741.7325 632.45,751.5175 642.75,751.5175" fill="#fff" stroke="#111" stroke-width="2.5" stroke-linejoin="miter" />
<polygon points="628,749.0324999999999 622.85,758.8175 633.15,758.8175" fill="#fff" stroke="#111" stroke-width="2.5" stroke-linejoin="miter" />
<polyline points="520,631 520,624.5 623.9,624.5 623.9,631" fill="none" stroke="#111" stroke-width="1.8" stroke-linejoin="round" stroke-linejoin="miter"/>
<text x="572.0" y="624.6" font-size="14" text-anchor="middle" fill="#111" letter-spacing="1.25">**</text>
<polyline points="520.6,657.6 520.6,650.6 568,650.6 568,657.6" fill="none" stroke="#111" stroke-width="1.8" stroke-linejoin="round" stroke-linejoin="miter"/>
<text x="545.4" y="651.4" font-size="14" text-anchor="middle" fill="#111" letter-spacing="1.25">**</text>
<circle cx="682" cy="625.6" r="6.4" fill="#2a2a2a" stroke="none" stroke-width="0"/>
<text x="694" y="629.2" font-size="14" text-anchor="start" fill="#111" >Epidermal LC</text>
<rect x="676.8" y="643.0" width="10.4" height="10.4" fill="#e8e8e8" stroke="#666" stroke-width="2.2"/>
<text x="694" y="652.6" font-size="14" text-anchor="start" fill="#111" >Dermal DC</text>
<polygon points="682,668.875 677.0,678.375 687.0,678.375" fill="#fff" stroke="#111" stroke-width="2.5" stroke-linejoin="miter" />
<text x="694" y="677.7" font-size="14" text-anchor="start" fill="#111" >LN-resident DC</text>
</g>
</svg>
</body></html>
